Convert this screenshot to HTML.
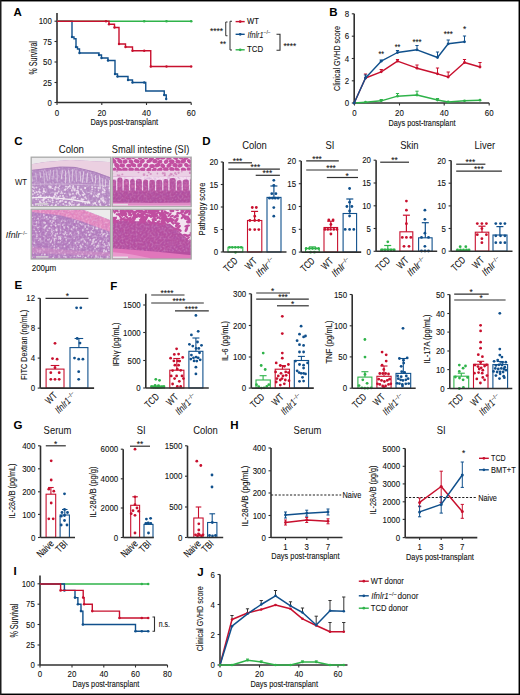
<!DOCTYPE html>
<html><head><meta charset="utf-8"><style>
html,body{margin:0;padding:0;background:#fff;width:520px;height:695px;overflow:hidden}
svg{display:block;font-family:"Liberation Sans", sans-serif}
</style></head><body>
<svg width="520" height="695" viewBox="0 0 520 695">
<rect x="0" y="0" width="520" height="695" fill="#fff"/>
<text x="13.5" y="16" font-size="11.5" text-anchor="start" fill="#000" font-weight="bold" >A</text>
<line x1="57" y1="13" x2="57" y2="102.5" stroke="#303030" stroke-width="1.6" />
<line x1="54.5" y1="21.2" x2="57" y2="21.2" stroke="#303030" stroke-width="1.1" />
<text x="51.9" y="24.4" font-size="9" text-anchor="end" fill="#111" stroke="#111" stroke-width="0.1" textLength="13.2" lengthAdjust="spacingAndGlyphs" >100</text>
<line x1="54.5" y1="41.5" x2="57" y2="41.5" stroke="#303030" stroke-width="1.1" />
<text x="51.9" y="44.6" font-size="9" text-anchor="end" fill="#111" stroke="#111" stroke-width="0.1" textLength="8.8" lengthAdjust="spacingAndGlyphs" >75</text>
<line x1="54.5" y1="62" x2="57" y2="62" stroke="#303030" stroke-width="1.1" />
<text x="51.9" y="65.2" font-size="9" text-anchor="end" fill="#111" stroke="#111" stroke-width="0.1" textLength="8.8" lengthAdjust="spacingAndGlyphs" >50</text>
<line x1="54.5" y1="82.5" x2="57" y2="82.5" stroke="#303030" stroke-width="1.1" />
<text x="51.9" y="85.7" font-size="9" text-anchor="end" fill="#111" stroke="#111" stroke-width="0.1" textLength="8.8" lengthAdjust="spacingAndGlyphs" >25</text>
<line x1="54.5" y1="102.5" x2="57" y2="102.5" stroke="#303030" stroke-width="1.1" />
<text x="51.9" y="105.7" font-size="9" text-anchor="end" fill="#111" stroke="#111" stroke-width="0.1" textLength="4.4" lengthAdjust="spacingAndGlyphs" >0</text>
<line x1="57" y1="102.5" x2="191.2" y2="102.5" stroke="#303030" stroke-width="1.6" />
<line x1="57" y1="102.5" x2="57" y2="105" stroke="#303030" stroke-width="1.1" />
<text x="57" y="115.7" font-size="9" text-anchor="middle" fill="#111" stroke="#111" stroke-width="0.1" textLength="4.4" lengthAdjust="spacingAndGlyphs" >0</text>
<line x1="101.8" y1="102.5" x2="101.8" y2="105" stroke="#303030" stroke-width="1.1" />
<text x="101.8" y="115.7" font-size="9" text-anchor="middle" fill="#111" stroke="#111" stroke-width="0.1" textLength="8.8" lengthAdjust="spacingAndGlyphs" >20</text>
<line x1="146.5" y1="102.5" x2="146.5" y2="105" stroke="#303030" stroke-width="1.1" />
<text x="146.5" y="115.7" font-size="9" text-anchor="middle" fill="#111" stroke="#111" stroke-width="0.1" textLength="8.8" lengthAdjust="spacingAndGlyphs" >40</text>
<line x1="191.2" y1="102.5" x2="191.2" y2="105" stroke="#303030" stroke-width="1.1" />
<text x="191.2" y="115.7" font-size="9" text-anchor="middle" fill="#111" stroke="#111" stroke-width="0.1" textLength="8.8" lengthAdjust="spacingAndGlyphs" >60</text>
<text x="37.4" y="57.8" font-size="10.5" text-anchor="middle" fill="#111" stroke="#111" stroke-width="0.1" textLength="33.4" lengthAdjust="spacingAndGlyphs" transform="rotate(-90 37.4 57.8)" >% Survival</text>
<text x="124.3" y="125" font-size="9" text-anchor="middle" fill="#111" stroke="#111" stroke-width="0.1" textLength="67.5" lengthAdjust="spacingAndGlyphs" >Days post-transplant</text>
<path d="M57,21.25 H72 V37 H74 V38.75 H76 V47 H77.5 V49 H79.5 V53 H99 V55 H101.5 V58 H108 V60.5 H115 V74 H117.5 V76.5 H128 V80 H132.5 V82.5 H145.75 V91 H164.25 V95 H166.25 V99" stroke="#10508c" stroke-width="1.4" fill="none" />
<circle cx="72" cy="37" r="1.2" fill="#10508c"/>
<circle cx="76" cy="47" r="1.2" fill="#10508c"/>
<circle cx="79.5" cy="53" r="1.2" fill="#10508c"/>
<circle cx="99" cy="55" r="1.2" fill="#10508c"/>
<circle cx="101.5" cy="58" r="1.2" fill="#10508c"/>
<circle cx="108" cy="60.5" r="1.2" fill="#10508c"/>
<circle cx="115" cy="74" r="1.2" fill="#10508c"/>
<circle cx="117.5" cy="76.5" r="1.2" fill="#10508c"/>
<circle cx="128" cy="80" r="1.2" fill="#10508c"/>
<circle cx="132.5" cy="82.5" r="1.2" fill="#10508c"/>
<circle cx="144.2" cy="82.5" r="1.2" fill="#10508c"/>
<circle cx="164.2" cy="95" r="1.2" fill="#10508c"/>
<circle cx="166.2" cy="99" r="1.2" fill="#10508c"/>
<path d="M57,21.25 H191.25" stroke="#2fb34a" stroke-width="1.4" fill="none" />
<circle cx="144.2" cy="21.2" r="1.3" fill="#2fb34a"/>
<circle cx="166.5" cy="21.2" r="1.3" fill="#2fb34a"/>
<circle cx="191.2" cy="21.2" r="1.3" fill="#2fb34a"/>
<path d="M57,21.25 H109 V24.25 H114.5 V27.5 H119 V44 H125.5 V47 H132.5 V50.75 H150.75 V66.5 H191.25" stroke="#c8102e" stroke-width="1.4" fill="none" />
<circle cx="106" cy="21.2" r="1.2" fill="#c8102e"/>
<circle cx="109" cy="24.2" r="1.2" fill="#c8102e"/>
<circle cx="114.5" cy="27.5" r="1.2" fill="#c8102e"/>
<circle cx="119" cy="44" r="1.2" fill="#c8102e"/>
<circle cx="125.5" cy="47" r="1.2" fill="#c8102e"/>
<circle cx="132.5" cy="50.8" r="1.2" fill="#c8102e"/>
<circle cx="144.2" cy="50.8" r="1.2" fill="#c8102e"/>
<circle cx="150.8" cy="66.5" r="1.2" fill="#c8102e"/>
<circle cx="166.5" cy="66.5" r="1.2" fill="#c8102e"/>
<circle cx="191.2" cy="66.5" r="1.2" fill="#c8102e"/>
<text x="216.5" y="34.2" font-size="9.2" text-anchor="middle" fill="#111" stroke="#111" stroke-width="0.1" textLength="13" lengthAdjust="spacingAndGlyphs" >****</text>
<path d="M227.5,22 H225.75 V35.75 H227.5" stroke="#303030" stroke-width="1" fill="none" />
<path d="M232,21.25 H230 V50 H232" stroke="#303030" stroke-width="1" fill="none" />
<text x="223" y="46.7" font-size="9.2" text-anchor="middle" fill="#111" stroke="#111" stroke-width="0.1" textLength="6" lengthAdjust="spacingAndGlyphs" >**</text>
<path d="M276.5,34.3 H280 V50.2 H276.5" stroke="#303030" stroke-width="1.1" fill="none" />
<text x="289.8" y="48.5" font-size="9.2" text-anchor="middle" fill="#111" stroke="#111" stroke-width="0.1" textLength="12.7" lengthAdjust="spacingAndGlyphs" >****</text>
<line x1="235.6" y1="21.6" x2="244.7" y2="21.6" stroke="#c8102e" stroke-width="1.4" />
<circle cx="240.2" cy="21.6" r="1.4" fill="#c8102e"/>
<line x1="235.6" y1="34.3" x2="244.7" y2="34.3" stroke="#10508c" stroke-width="1.4" />
<circle cx="240.2" cy="34.3" r="1.4" fill="#10508c"/>
<line x1="235.6" y1="49.8" x2="244.7" y2="49.8" stroke="#2fb34a" stroke-width="1.4" />
<circle cx="240.2" cy="49.8" r="1.4" fill="#2fb34a"/>
<text x="247" y="24.3" font-size="8.5" text-anchor="start" fill="#111" stroke="#111" stroke-width="0.1" textLength="11.9" lengthAdjust="spacingAndGlyphs" >WT</text>
<text x="247.5" y="37.6" font-size="8.5" text-anchor="start" fill="#111" stroke="#111" stroke-width="0.05" ><tspan font-style="italic" textLength="16" lengthAdjust="spacingAndGlyphs">Ifnlr1</tspan><tspan font-size="5" dy="-3.2">−/−</tspan></text>
<text x="247" y="52.3" font-size="8.5" text-anchor="start" fill="#111" stroke="#111" stroke-width="0.1" textLength="16.1" lengthAdjust="spacingAndGlyphs" >TCD</text>
<text x="329.3" y="15.5" font-size="11.5" text-anchor="start" fill="#000" font-weight="bold" >B</text>
<line x1="354.2" y1="13.8" x2="354.2" y2="103" stroke="#303030" stroke-width="1.6" />
<line x1="351.8" y1="103" x2="354.2" y2="103" stroke="#303030" stroke-width="1.1" />
<text x="349.1" y="106.2" font-size="9" text-anchor="end" fill="#111" stroke="#111" stroke-width="0.1" textLength="4.4" lengthAdjust="spacingAndGlyphs" >0</text>
<line x1="351.8" y1="80.8" x2="354.2" y2="80.8" stroke="#303030" stroke-width="1.1" />
<text x="349.1" y="83.9" font-size="9" text-anchor="end" fill="#111" stroke="#111" stroke-width="0.1" textLength="4.4" lengthAdjust="spacingAndGlyphs" >2</text>
<line x1="351.8" y1="58.5" x2="354.2" y2="58.5" stroke="#303030" stroke-width="1.1" />
<text x="349.1" y="61.6" font-size="9" text-anchor="end" fill="#111" stroke="#111" stroke-width="0.1" textLength="4.4" lengthAdjust="spacingAndGlyphs" >4</text>
<line x1="351.8" y1="36.2" x2="354.2" y2="36.2" stroke="#303030" stroke-width="1.1" />
<text x="349.1" y="39.4" font-size="9" text-anchor="end" fill="#111" stroke="#111" stroke-width="0.1" textLength="4.4" lengthAdjust="spacingAndGlyphs" >6</text>
<line x1="351.8" y1="13.8" x2="354.2" y2="13.8" stroke="#303030" stroke-width="1.1" />
<text x="349.1" y="16.9" font-size="9" text-anchor="end" fill="#111" stroke="#111" stroke-width="0.1" textLength="4.4" lengthAdjust="spacingAndGlyphs" >8</text>
<line x1="354.2" y1="103" x2="489.2" y2="103" stroke="#303030" stroke-width="1.6" />
<line x1="354.5" y1="103" x2="354.5" y2="105.5" stroke="#303030" stroke-width="1.1" />
<text x="354.5" y="115.7" font-size="9" text-anchor="middle" fill="#111" stroke="#111" stroke-width="0.1" textLength="4.4" lengthAdjust="spacingAndGlyphs" >0</text>
<line x1="399.5" y1="103" x2="399.5" y2="105.5" stroke="#303030" stroke-width="1.1" />
<text x="399.5" y="115.7" font-size="9" text-anchor="middle" fill="#111" stroke="#111" stroke-width="0.1" textLength="8.8" lengthAdjust="spacingAndGlyphs" >20</text>
<line x1="444.2" y1="103" x2="444.2" y2="105.5" stroke="#303030" stroke-width="1.1" />
<text x="444.2" y="115.7" font-size="9" text-anchor="middle" fill="#111" stroke="#111" stroke-width="0.1" textLength="8.8" lengthAdjust="spacingAndGlyphs" >40</text>
<line x1="489.2" y1="103" x2="489.2" y2="105.5" stroke="#303030" stroke-width="1.1" />
<text x="489.2" y="115.7" font-size="9" text-anchor="middle" fill="#111" stroke="#111" stroke-width="0.1" textLength="8.8" lengthAdjust="spacingAndGlyphs" >60</text>
<text x="339.6" y="58.5" font-size="9.5" text-anchor="middle" fill="#111" stroke="#111" stroke-width="0.1" textLength="65" lengthAdjust="spacingAndGlyphs" transform="rotate(-90 339.6 58.5)" >Clinical GVHD score</text>
<text x="422" y="125.5" font-size="9" text-anchor="middle" fill="#111" stroke="#111" stroke-width="0.1" textLength="67" lengthAdjust="spacingAndGlyphs" >Days post-transplant</text>
<line x1="381.2" y1="100.8" x2="381.2" y2="99.5" stroke="#2fb34a" stroke-width="1" />
<line x1="379.6" y1="99.5" x2="382.9" y2="99.5" stroke="#2fb34a" stroke-width="1" />
<line x1="397.5" y1="96.2" x2="397.5" y2="93.5" stroke="#2fb34a" stroke-width="1" />
<line x1="395.9" y1="93.5" x2="399.1" y2="93.5" stroke="#2fb34a" stroke-width="1" />
<line x1="417" y1="95" x2="417" y2="91.2" stroke="#2fb34a" stroke-width="1" />
<line x1="415.4" y1="91.2" x2="418.6" y2="91.2" stroke="#2fb34a" stroke-width="1" />
<line x1="437.5" y1="100" x2="437.5" y2="98.5" stroke="#2fb34a" stroke-width="1" />
<line x1="435.9" y1="98.5" x2="439.1" y2="98.5" stroke="#2fb34a" stroke-width="1" />
<polyline points="354.2,103 365.5,102.2 381.2,100.8 397.5,96.2 417,95 437.5,100 448.2,102 464.5,100.8 480,100.2" stroke="#2fb34a" stroke-width="1.4" fill="none" stroke-linejoin="round" />
<circle cx="354.2" cy="103" r="1.4" fill="#2fb34a"/>
<circle cx="365.5" cy="102.2" r="1.4" fill="#2fb34a"/>
<circle cx="381.2" cy="100.8" r="1.4" fill="#2fb34a"/>
<circle cx="397.5" cy="96.2" r="1.4" fill="#2fb34a"/>
<circle cx="417" cy="95" r="1.4" fill="#2fb34a"/>
<circle cx="437.5" cy="100" r="1.4" fill="#2fb34a"/>
<circle cx="448.2" cy="102" r="1.4" fill="#2fb34a"/>
<circle cx="464.5" cy="100.8" r="1.4" fill="#2fb34a"/>
<circle cx="480" cy="100.2" r="1.4" fill="#2fb34a"/>
<line x1="365.5" y1="78" x2="365.5" y2="74" stroke="#c8102e" stroke-width="1" />
<line x1="363.9" y1="74" x2="367.1" y2="74" stroke="#c8102e" stroke-width="1" />
<line x1="381.2" y1="71.8" x2="381.2" y2="69.5" stroke="#c8102e" stroke-width="1" />
<line x1="379.6" y1="69.5" x2="382.9" y2="69.5" stroke="#c8102e" stroke-width="1" />
<line x1="397.5" y1="61.2" x2="397.5" y2="59.5" stroke="#c8102e" stroke-width="1" />
<line x1="395.9" y1="59.5" x2="399.1" y2="59.5" stroke="#c8102e" stroke-width="1" />
<line x1="417" y1="68.2" x2="417" y2="65" stroke="#c8102e" stroke-width="1" />
<line x1="415.4" y1="65" x2="418.6" y2="65" stroke="#c8102e" stroke-width="1" />
<line x1="437.5" y1="73.8" x2="437.5" y2="68" stroke="#c8102e" stroke-width="1" />
<line x1="435.9" y1="68" x2="439.1" y2="68" stroke="#c8102e" stroke-width="1" />
<line x1="448.2" y1="77" x2="448.2" y2="72" stroke="#c8102e" stroke-width="1" />
<line x1="446.6" y1="72" x2="449.9" y2="72" stroke="#c8102e" stroke-width="1" />
<line x1="464.5" y1="62.5" x2="464.5" y2="59.5" stroke="#c8102e" stroke-width="1" />
<line x1="462.9" y1="59.5" x2="466.1" y2="59.5" stroke="#c8102e" stroke-width="1" />
<line x1="480" y1="67" x2="480" y2="62.5" stroke="#c8102e" stroke-width="1" />
<line x1="478.4" y1="62.5" x2="481.6" y2="62.5" stroke="#c8102e" stroke-width="1" />
<polyline points="354.2,103 365.5,78 381.2,71.8 397.5,61.2 417,68.2 437.5,73.8 448.2,77 464.5,62.5 480,67" stroke="#c8102e" stroke-width="1.4" fill="none" stroke-linejoin="round" />
<circle cx="354.2" cy="103" r="1.4" fill="#c8102e"/>
<circle cx="365.5" cy="78" r="1.4" fill="#c8102e"/>
<circle cx="381.2" cy="71.8" r="1.4" fill="#c8102e"/>
<circle cx="397.5" cy="61.2" r="1.4" fill="#c8102e"/>
<circle cx="417" cy="68.2" r="1.4" fill="#c8102e"/>
<circle cx="437.5" cy="73.8" r="1.4" fill="#c8102e"/>
<circle cx="448.2" cy="77" r="1.4" fill="#c8102e"/>
<circle cx="464.5" cy="62.5" r="1.4" fill="#c8102e"/>
<circle cx="480" cy="67" r="1.4" fill="#c8102e"/>
<line x1="365.5" y1="78" x2="365.5" y2="75" stroke="#10508c" stroke-width="1" />
<line x1="363.9" y1="75" x2="367.1" y2="75" stroke="#10508c" stroke-width="1" />
<line x1="381.2" y1="61.2" x2="381.2" y2="60" stroke="#10508c" stroke-width="1" />
<line x1="379.6" y1="60" x2="382.9" y2="60" stroke="#10508c" stroke-width="1" />
<line x1="397.5" y1="52.5" x2="397.5" y2="50.5" stroke="#10508c" stroke-width="1" />
<line x1="395.9" y1="50.5" x2="399.1" y2="50.5" stroke="#10508c" stroke-width="1" />
<line x1="417" y1="49.8" x2="417" y2="45.5" stroke="#10508c" stroke-width="1" />
<line x1="415.4" y1="45.5" x2="418.6" y2="45.5" stroke="#10508c" stroke-width="1" />
<line x1="437.5" y1="57.5" x2="437.5" y2="52" stroke="#10508c" stroke-width="1" />
<line x1="435.9" y1="52" x2="439.1" y2="52" stroke="#10508c" stroke-width="1" />
<line x1="448.2" y1="43.8" x2="448.2" y2="40" stroke="#10508c" stroke-width="1" />
<line x1="446.6" y1="40" x2="449.9" y2="40" stroke="#10508c" stroke-width="1" />
<line x1="464.5" y1="41.8" x2="464.5" y2="36" stroke="#10508c" stroke-width="1" />
<line x1="462.9" y1="36" x2="466.1" y2="36" stroke="#10508c" stroke-width="1" />
<polyline points="354.2,103 365.5,78 381.2,61.2 397.5,52.5 417,49.8 437.5,57.5 448.2,43.8 464.5,41.8" stroke="#10508c" stroke-width="1.4" fill="none" stroke-linejoin="round" />
<circle cx="354.2" cy="103" r="1.4" fill="#10508c"/>
<circle cx="365.5" cy="78" r="1.4" fill="#10508c"/>
<circle cx="381.2" cy="61.2" r="1.4" fill="#10508c"/>
<circle cx="397.5" cy="52.5" r="1.4" fill="#10508c"/>
<circle cx="417" cy="49.8" r="1.4" fill="#10508c"/>
<circle cx="437.5" cy="57.5" r="1.4" fill="#10508c"/>
<circle cx="448.2" cy="43.8" r="1.4" fill="#10508c"/>
<circle cx="464.5" cy="41.8" r="1.4" fill="#10508c"/>
<text x="381.2" y="57.2" font-size="9.2" text-anchor="middle" fill="#111" stroke="#111" stroke-width="0.1" textLength="5.5" lengthAdjust="spacingAndGlyphs" >**</text>
<text x="397.5" y="49.7" font-size="9.2" text-anchor="middle" fill="#111" stroke="#111" stroke-width="0.1" textLength="5.5" lengthAdjust="spacingAndGlyphs" >**</text>
<text x="417" y="44.7" font-size="9.2" text-anchor="middle" fill="#111" stroke="#111" stroke-width="0.1" textLength="9" lengthAdjust="spacingAndGlyphs" >***</text>
<text x="448.2" y="36.7" font-size="9.2" text-anchor="middle" fill="#111" stroke="#111" stroke-width="0.1" textLength="9" lengthAdjust="spacingAndGlyphs" >***</text>
<text x="464.5" y="31.7" font-size="9.2" text-anchor="middle" fill="#111" stroke="#111" stroke-width="0.1" textLength="3.2" lengthAdjust="spacingAndGlyphs" >*</text>
<text x="14.2" y="145.4" font-size="11.5" text-anchor="start" fill="#000" font-weight="bold" >C</text>
<text x="71.3" y="153.3" font-size="10.5" text-anchor="middle" fill="#111" textLength="25.3" lengthAdjust="spacingAndGlyphs" >Colon</text>
<text x="150.6" y="153" font-size="10.5" text-anchor="middle" fill="#111" textLength="77.5" lengthAdjust="spacingAndGlyphs" >Small intestine (SI)</text>
<text x="21" y="184.8" font-size="9.5" text-anchor="middle" fill="#111" textLength="12" lengthAdjust="spacingAndGlyphs" >WT</text>
<text x="5.8" y="238.3" font-size="9.5" text-anchor="start" fill="#111" ><tspan font-style="italic" textLength="14.5" lengthAdjust="spacingAndGlyphs">Ifnlr</tspan><tspan font-size="5" dy="-3.4">−/−</tspan></text>
<text x="44" y="270.6" font-size="9.5" text-anchor="middle" fill="#111" stroke="#111" stroke-width="0.1" textLength="24.6" lengthAdjust="spacingAndGlyphs" >200μm</text>
<defs>
<filter id="bl" x="-5%" y="-5%" width="110%" height="110%"><feGaussianBlur stdDeviation="0.4"/></filter>
<filter id="mw" x="0" y="0" width="100%" height="100%"><feTurbulence type="fractalNoise" baseFrequency="0.5" numOctaves="2" seed="5"/><feColorMatrix type="matrix" values="0 0 0 0 1  0 0 0 0 0.95  0 0 0 0 1  0 0 0 -2.6 1.5"/></filter>
<filter id="md" x="0" y="0" width="100%" height="100%"><feTurbulence type="fractalNoise" baseFrequency="0.35" numOctaves="2" seed="9"/><feColorMatrix type="matrix" values="0 0 0 0 0.4  0 0 0 0 0.1  0 0 0 0 0.45  0 0 0 2.6 -1.1"/></filter>
<clipPath id="c1"><rect x="31.5" y="157.5" width="79" height="49"/></clipPath>
<clipPath id="c2"><rect x="112.5" y="157.5" width="78.5" height="49"/></clipPath>
<clipPath id="c3"><rect x="31.5" y="209.5" width="79" height="49.5"/></clipPath>
<clipPath id="c4"><rect x="112.5" y="209.5" width="78.5" height="49.5"/></clipPath>
</defs>
<g clip-path="url(#c1)"><g filter="url(#bl)">
<rect x="30" y="156" width="82" height="52" fill="#b48ac2" stroke="none" stroke-width="1" />
<rect x="30" y="156" width="82" height="52" fill="#fff" stroke="none" stroke-width="1" filter="url(#mw)" opacity="0.32"/>
<rect x="30" y="156" width="82" height="52" fill="#000" stroke="none" stroke-width="1" filter="url(#md)" opacity="0.2"/>
<path d="M30,156 H112 L112,162.3 L90,161 L70,160 L45,162 L30,164.5 Z" fill="#ebe9eb"/>
<path d="M30,164.5 L30,164.5 L45,162 L70,160 L90,161 L112,162.3 L112,178 L95,171.8 L75,167 L60,166.7 L30,170.2 Z" fill="#ebd0e1"/>
<path d="M30,170.5 L34,170 L38,169.6 L42,169.1 L46,168.6 L50,168.2 L54,167.7 L58,167.2 L62,167 L66,167.1 L70,167.2 L74,167.3 L78,168 L82,169 L86,169.9 L90,170.9 L94,171.9 L98,173.2 L102,174.7 L106,176.1 L110,177.6" stroke="#a070b0" stroke-width="1" fill="none" opacity="0.6"/>
<line x1="31.4" y1="173.7" x2="32.2" y2="181.8" stroke="#eadcec" stroke-width="0.9" opacity="0.8"/>
<line x1="35.6" y1="172.8" x2="36.5" y2="179.6" stroke="#eadcec" stroke-width="0.7" opacity="0.8"/>
<line x1="39.9" y1="171.9" x2="40.7" y2="177.9" stroke="#eadcec" stroke-width="0.9" opacity="0.8"/>
<line x1="43.5" y1="171.1" x2="44.8" y2="184.3" stroke="#eadcec" stroke-width="0.7" opacity="0.8"/>
<line x1="46" y1="171.4" x2="47.4" y2="180.5" stroke="#eadcec" stroke-width="0.8" opacity="0.8"/>
<line x1="50.4" y1="169.9" x2="49.5" y2="179.4" stroke="#eadcec" stroke-width="0.9" opacity="0.8"/>
<line x1="53.8" y1="169.9" x2="52.9" y2="179.6" stroke="#eadcec" stroke-width="0.8" opacity="0.8"/>
<line x1="57.1" y1="170.7" x2="57.3" y2="181.8" stroke="#eadcec" stroke-width="0.8" opacity="0.8"/>
<line x1="62.4" y1="170.5" x2="61.3" y2="179.1" stroke="#eadcec" stroke-width="1.1" opacity="0.8"/>
<line x1="65.6" y1="170.7" x2="65.4" y2="183.3" stroke="#eadcec" stroke-width="1" opacity="0.8"/>
<line x1="68.7" y1="170" x2="69.8" y2="182.8" stroke="#eadcec" stroke-width="1" opacity="0.8"/>
<line x1="72.8" y1="169" x2="72.1" y2="181.4" stroke="#eadcec" stroke-width="0.9" opacity="0.8"/>
<line x1="75.9" y1="170.3" x2="76.5" y2="181.7" stroke="#eadcec" stroke-width="0.9" opacity="0.8"/>
<line x1="80" y1="171.2" x2="80.8" y2="181.4" stroke="#eadcec" stroke-width="0.9" opacity="0.8"/>
<line x1="83.8" y1="171.2" x2="82.4" y2="182.8" stroke="#eadcec" stroke-width="1.2" opacity="0.8"/>
<line x1="87.6" y1="172.8" x2="86.7" y2="182.8" stroke="#eadcec" stroke-width="1.2" opacity="0.8"/>
<line x1="91.6" y1="174.1" x2="92.7" y2="181.9" stroke="#eadcec" stroke-width="1" opacity="0.8"/>
<line x1="95.6" y1="175.2" x2="95.5" y2="183.3" stroke="#eadcec" stroke-width="1" opacity="0.8"/>
<line x1="99.3" y1="175.4" x2="100.2" y2="188" stroke="#eadcec" stroke-width="1.1" opacity="0.8"/>
<line x1="102.7" y1="178.2" x2="102.7" y2="188.7" stroke="#eadcec" stroke-width="0.9" opacity="0.8"/>
<line x1="105.3" y1="179.3" x2="105.5" y2="186.9" stroke="#eadcec" stroke-width="1" opacity="0.8"/>
<line x1="109.7" y1="179.9" x2="109.2" y2="190.2" stroke="#eadcec" stroke-width="1" opacity="0.8"/>
<path d="M30,184.5 C50,183.5 80,184 112,186" stroke="#e6d4e8" stroke-width="0.8" fill="none" opacity="0.6"/>
<ellipse cx="80.2" cy="195.6" rx="0.7" ry="0.6" fill="#f2e6f3" opacity="0.8"/>
<ellipse cx="44.5" cy="198.3" rx="1" ry="1.2" fill="#f2e6f3" opacity="0.8"/>
<ellipse cx="95.4" cy="203.1" rx="0.8" ry="0.9" fill="#f2e6f3" opacity="0.8"/>
<ellipse cx="85.2" cy="187.7" rx="0.7" ry="0.6" fill="#f2e6f3" opacity="0.8"/>
<ellipse cx="92" cy="191.2" rx="0.7" ry="0.8" fill="#f2e6f3" opacity="0.8"/>
<ellipse cx="58.2" cy="187.5" rx="0.8" ry="0.8" fill="#f2e6f3" opacity="0.8"/>
<ellipse cx="43.8" cy="191.7" rx="0.9" ry="1" fill="#f2e6f3" opacity="0.8"/>
<ellipse cx="56.4" cy="195.9" rx="0.7" ry="0.7" fill="#f2e6f3" opacity="0.8"/>
<ellipse cx="64.5" cy="189.9" rx="0.7" ry="0.9" fill="#f2e6f3" opacity="0.8"/>
<ellipse cx="71.8" cy="190.4" rx="0.9" ry="1.1" fill="#f2e6f3" opacity="0.8"/>
<ellipse cx="31.7" cy="186.4" rx="0.8" ry="0.8" fill="#f2e6f3" opacity="0.8"/>
<ellipse cx="43.1" cy="200.8" rx="0.9" ry="1" fill="#f2e6f3" opacity="0.8"/>
<ellipse cx="48.1" cy="206.5" rx="1" ry="1" fill="#f2e6f3" opacity="0.8"/>
<ellipse cx="48.3" cy="199.6" rx="0.8" ry="0.9" fill="#f2e6f3" opacity="0.8"/>
<ellipse cx="56.3" cy="199.2" rx="0.7" ry="0.7" fill="#f2e6f3" opacity="0.8"/>
<ellipse cx="109.4" cy="204.4" rx="0.8" ry="1" fill="#f2e6f3" opacity="0.8"/>
<ellipse cx="55.4" cy="205.7" rx="1" ry="0.9" fill="#f2e6f3" opacity="0.8"/>
<ellipse cx="50.7" cy="186.2" rx="1" ry="0.8" fill="#f2e6f3" opacity="0.8"/>
<ellipse cx="97.2" cy="206.2" rx="0.9" ry="0.8" fill="#f2e6f3" opacity="0.8"/>
<ellipse cx="101.2" cy="206.4" rx="0.9" ry="1" fill="#f2e6f3" opacity="0.8"/>
<ellipse cx="61" cy="193.3" rx="0.8" ry="0.9" fill="#f2e6f3" opacity="0.8"/>
<ellipse cx="65.5" cy="190.1" rx="0.7" ry="0.8" fill="#f2e6f3" opacity="0.8"/>
<ellipse cx="54.3" cy="196.5" rx="0.8" ry="1" fill="#f2e6f3" opacity="0.8"/>
<ellipse cx="103.8" cy="186.4" rx="0.8" ry="0.7" fill="#f2e6f3" opacity="0.8"/>
<ellipse cx="110.9" cy="202.4" rx="0.8" ry="0.7" fill="#f2e6f3" opacity="0.8"/>
<ellipse cx="85.3" cy="203.6" rx="1" ry="1" fill="#f2e6f3" opacity="0.8"/>
<ellipse cx="102.4" cy="200.4" rx="0.9" ry="1.1" fill="#f2e6f3" opacity="0.8"/>
<ellipse cx="49.2" cy="201.2" rx="0.7" ry="0.6" fill="#f2e6f3" opacity="0.8"/>
<ellipse cx="104.7" cy="190.5" rx="1" ry="1" fill="#f2e6f3" opacity="0.8"/>
<ellipse cx="99" cy="193.7" rx="0.8" ry="0.8" fill="#f2e6f3" opacity="0.8"/>
<ellipse cx="101.1" cy="198.7" rx="1" ry="1.2" fill="#f2e6f3" opacity="0.8"/>
<ellipse cx="41.1" cy="197.6" rx="0.7" ry="0.6" fill="#f2e6f3" opacity="0.8"/>
<ellipse cx="36" cy="204.2" rx="1" ry="1.1" fill="#f2e6f3" opacity="0.8"/>
<ellipse cx="58" cy="198.9" rx="1" ry="0.9" fill="#f2e6f3" opacity="0.8"/>
<ellipse cx="76.8" cy="190.7" rx="0.7" ry="0.7" fill="#f2e6f3" opacity="0.8"/>
<ellipse cx="103" cy="197.9" rx="1" ry="1" fill="#f2e6f3" opacity="0.8"/>
<ellipse cx="52.7" cy="202.5" rx="1" ry="0.8" fill="#f2e6f3" opacity="0.8"/>
<ellipse cx="85" cy="187.9" rx="0.7" ry="0.9" fill="#f2e6f3" opacity="0.8"/>
<ellipse cx="33.3" cy="191" rx="1" ry="1" fill="#f2e6f3" opacity="0.8"/>
<ellipse cx="39.5" cy="189.5" rx="0.8" ry="0.9" fill="#f2e6f3" opacity="0.8"/>
<ellipse cx="38.4" cy="205.1" rx="0.8" ry="1" fill="#f2e6f3" opacity="0.8"/>
<ellipse cx="104.6" cy="192.2" rx="0.8" ry="0.8" fill="#f2e6f3" opacity="0.8"/>
<ellipse cx="38.2" cy="199.7" rx="0.7" ry="0.6" fill="#f2e6f3" opacity="0.8"/>
<ellipse cx="110.6" cy="192.2" rx="0.9" ry="0.9" fill="#f2e6f3" opacity="0.8"/>
<ellipse cx="55.7" cy="187.3" rx="1" ry="1.3" fill="#f2e6f3" opacity="0.8"/>
<ellipse cx="109.5" cy="188.3" rx="0.8" ry="0.8" fill="#f2e6f3" opacity="0.8"/>
<ellipse cx="110.4" cy="197.4" rx="0.9" ry="1" fill="#f2e6f3" opacity="0.8"/>
<ellipse cx="51.2" cy="197.4" rx="0.8" ry="0.7" fill="#f2e6f3" opacity="0.8"/>
<ellipse cx="36.7" cy="191.9" rx="1" ry="1" fill="#f2e6f3" opacity="0.8"/>
<ellipse cx="83.5" cy="199.5" rx="1" ry="1" fill="#f2e6f3" opacity="0.8"/>
<ellipse cx="55.2" cy="192.9" rx="0.8" ry="1" fill="#f2e6f3" opacity="0.8"/>
<ellipse cx="103.3" cy="192.4" rx="0.8" ry="0.9" fill="#f2e6f3" opacity="0.8"/>
<ellipse cx="77.5" cy="198.5" rx="0.8" ry="0.6" fill="#f2e6f3" opacity="0.8"/>
<ellipse cx="50" cy="187.5" rx="0.9" ry="0.7" fill="#f2e6f3" opacity="0.8"/>
<ellipse cx="36.2" cy="199.3" rx="0.8" ry="0.9" fill="#f2e6f3" opacity="0.8"/>
<ellipse cx="70.4" cy="204.1" rx="0.8" ry="0.8" fill="#f2e6f3" opacity="0.8"/>
<ellipse cx="95.2" cy="187.6" rx="1" ry="0.9" fill="#f2e6f3" opacity="0.8"/>
<ellipse cx="93.6" cy="206.7" rx="1" ry="0.9" fill="#f2e6f3" opacity="0.8"/>
<ellipse cx="38.8" cy="196.8" rx="1" ry="1" fill="#f2e6f3" opacity="0.8"/>
<ellipse cx="103.3" cy="189" rx="1" ry="0.8" fill="#f2e6f3" opacity="0.8"/>
<ellipse cx="55.9" cy="205" rx="1" ry="1.2" fill="#f2e6f3" opacity="0.8"/>
<ellipse cx="98.9" cy="201.7" rx="0.9" ry="0.8" fill="#f2e6f3" opacity="0.8"/>
<ellipse cx="65.5" cy="189.3" rx="1" ry="1" fill="#f2e6f3" opacity="0.8"/>
<ellipse cx="50.7" cy="187.4" rx="1" ry="1.2" fill="#f2e6f3" opacity="0.8"/>
<ellipse cx="75" cy="197.4" rx="1" ry="1" fill="#f2e6f3" opacity="0.8"/>
<ellipse cx="62.4" cy="193.1" rx="0.8" ry="0.6" fill="#f2e6f3" opacity="0.8"/>
<ellipse cx="83" cy="194.8" rx="0.9" ry="0.7" fill="#f2e6f3" opacity="0.8"/>
<ellipse cx="59.1" cy="188.9" rx="0.7" ry="0.7" fill="#f2e6f3" opacity="0.8"/>
<ellipse cx="98" cy="194.4" rx="0.8" ry="0.9" fill="#f2e6f3" opacity="0.8"/>
<ellipse cx="49.1" cy="186.2" rx="0.9" ry="0.9" fill="#f2e6f3" opacity="0.8"/>
<ellipse cx="83.2" cy="195.2" rx="0.9" ry="1.1" fill="#f2e6f3" opacity="0.8"/>
<ellipse cx="49.5" cy="196.4" rx="0.9" ry="0.8" fill="#f2e6f3" opacity="0.8"/>
<ellipse cx="63.8" cy="197.8" rx="1" ry="1.2" fill="#f2e6f3" opacity="0.8"/>
<ellipse cx="52.6" cy="199.6" rx="0.7" ry="0.6" fill="#f2e6f3" opacity="0.8"/>
<ellipse cx="72" cy="204.4" rx="0.8" ry="0.9" fill="#f2e6f3" opacity="0.8"/>
<ellipse cx="102.4" cy="192.5" rx="0.9" ry="1.1" fill="#f2e6f3" opacity="0.8"/>
<ellipse cx="60.5" cy="200.7" rx="1" ry="1" fill="#f2e6f3" opacity="0.8"/>
<ellipse cx="100.2" cy="204.8" rx="1" ry="1.1" fill="#f2e6f3" opacity="0.8"/>
<ellipse cx="44.5" cy="191.3" rx="0.8" ry="0.8" fill="#f2e6f3" opacity="0.8"/>
<ellipse cx="92.1" cy="187.1" rx="0.9" ry="1.1" fill="#f2e6f3" opacity="0.8"/>
<ellipse cx="58.5" cy="196.8" rx="0.8" ry="0.9" fill="#f2e6f3" opacity="0.8"/>
<ellipse cx="33.3" cy="206.6" rx="1" ry="1.1" fill="#f2e6f3" opacity="0.8"/>
<ellipse cx="51.9" cy="205.2" rx="1" ry="0.9" fill="#f2e6f3" opacity="0.8"/>
<ellipse cx="93.6" cy="203.7" rx="0.9" ry="1" fill="#f2e6f3" opacity="0.8"/>
<ellipse cx="66.5" cy="205.4" rx="1" ry="1" fill="#f2e6f3" opacity="0.8"/>
<ellipse cx="95.8" cy="195.1" rx="0.8" ry="0.7" fill="#f2e6f3" opacity="0.8"/>
<ellipse cx="40.4" cy="205.1" rx="1" ry="0.9" fill="#f2e6f3" opacity="0.8"/>
<ellipse cx="79.3" cy="194.6" rx="0.7" ry="0.7" fill="#f2e6f3" opacity="0.8"/>
<ellipse cx="50.4" cy="201.7" rx="0.7" ry="0.6" fill="#f2e6f3" opacity="0.8"/>
<ellipse cx="66" cy="186.4" rx="0.9" ry="1" fill="#f2e6f3" opacity="0.8"/>
<ellipse cx="98.5" cy="190.3" rx="0.8" ry="0.8" fill="#f2e6f3" opacity="0.8"/>
<ellipse cx="52.4" cy="198.3" rx="0.8" ry="0.9" fill="#f2e6f3" opacity="0.8"/>
<ellipse cx="94.9" cy="203" rx="1" ry="1.1" fill="#f2e6f3" opacity="0.8"/>
<ellipse cx="70.2" cy="204" rx="1" ry="1" fill="#f2e6f3" opacity="0.8"/>
<ellipse cx="61.4" cy="192" rx="0.7" ry="0.9" fill="#f2e6f3" opacity="0.8"/>
<ellipse cx="39.7" cy="201.7" rx="0.9" ry="1.1" fill="#f2e6f3" opacity="0.8"/>
<ellipse cx="92.4" cy="206.4" rx="0.7" ry="0.8" fill="#f2e6f3" opacity="0.8"/>
<ellipse cx="77" cy="192.5" rx="0.9" ry="0.8" fill="#f2e6f3" opacity="0.8"/>
<ellipse cx="73.3" cy="186" rx="0.9" ry="0.9" fill="#f2e6f3" opacity="0.8"/>
<ellipse cx="55" cy="194.4" rx="1" ry="1.1" fill="#f2e6f3" opacity="0.8"/>
<ellipse cx="70.4" cy="199.6" rx="0.8" ry="0.7" fill="#f2e6f3" opacity="0.8"/>
<ellipse cx="30.3" cy="191.8" rx="0.9" ry="1.1" fill="#f2e6f3" opacity="0.8"/>
<ellipse cx="98" cy="196.7" rx="1" ry="1.1" fill="#f2e6f3" opacity="0.8"/>
<ellipse cx="98.4" cy="194.6" rx="1" ry="1.2" fill="#f2e6f3" opacity="0.8"/>
<ellipse cx="55" cy="189.6" rx="0.9" ry="1" fill="#f2e6f3" opacity="0.8"/>
<ellipse cx="59.5" cy="186.1" rx="0.8" ry="0.8" fill="#f2e6f3" opacity="0.8"/>
<ellipse cx="63.2" cy="204.1" rx="0.9" ry="1" fill="#f2e6f3" opacity="0.8"/>
<ellipse cx="103.6" cy="201.7" rx="0.9" ry="1" fill="#f2e6f3" opacity="0.8"/>
<ellipse cx="82.5" cy="199.6" rx="0.9" ry="0.9" fill="#f2e6f3" opacity="0.8"/>
<ellipse cx="81.6" cy="199.3" rx="1" ry="1.2" fill="#f2e6f3" opacity="0.8"/>
<ellipse cx="99.4" cy="202.1" rx="1" ry="1.1" fill="#f2e6f3" opacity="0.8"/>
<ellipse cx="58.7" cy="191.6" rx="0.9" ry="1.1" fill="#f2e6f3" opacity="0.8"/>
<ellipse cx="74.6" cy="189.2" rx="1" ry="1" fill="#f2e6f3" opacity="0.8"/>
<ellipse cx="68.3" cy="187" rx="0.9" ry="1" fill="#f2e6f3" opacity="0.8"/>
<ellipse cx="64.7" cy="193.5" rx="0.9" ry="0.8" fill="#f2e6f3" opacity="0.8"/>
<ellipse cx="71.6" cy="205.9" rx="0.9" ry="0.9" fill="#f2e6f3" opacity="0.8"/>
<ellipse cx="86.5" cy="198.7" rx="0.8" ry="0.7" fill="#f2e6f3" opacity="0.8"/>
<ellipse cx="102.7" cy="191.7" rx="0.7" ry="0.9" fill="#f2e6f3" opacity="0.8"/>
<ellipse cx="72.9" cy="193.7" rx="0.9" ry="1" fill="#f2e6f3" opacity="0.8"/>
<ellipse cx="43.8" cy="199.7" rx="0.9" ry="1.1" fill="#f2e6f3" opacity="0.8"/>
<ellipse cx="52.1" cy="198.8" rx="0.8" ry="0.8" fill="#f2e6f3" opacity="0.8"/>
<ellipse cx="44.1" cy="202.6" rx="1" ry="1" fill="#f2e6f3" opacity="0.8"/>
<ellipse cx="48.2" cy="206.2" rx="0.9" ry="1.1" fill="#f2e6f3" opacity="0.8"/>
<ellipse cx="32.5" cy="204.9" rx="0.9" ry="0.9" fill="#f2e6f3" opacity="0.8"/>
<ellipse cx="65.4" cy="202" rx="1" ry="0.9" fill="#f2e6f3" opacity="0.8"/>
<ellipse cx="81.3" cy="189.5" rx="1" ry="1" fill="#f2e6f3" opacity="0.8"/>
<ellipse cx="104.9" cy="201.3" rx="0.9" ry="0.8" fill="#f2e6f3" opacity="0.8"/>
<ellipse cx="73.2" cy="188.9" rx="0.7" ry="0.8" fill="#f2e6f3" opacity="0.8"/>
<ellipse cx="59.6" cy="201.8" rx="0.8" ry="0.9" fill="#f2e6f3" opacity="0.8"/>
<ellipse cx="88.9" cy="192.4" rx="0.7" ry="0.7" fill="#f2e6f3" opacity="0.8"/>
<ellipse cx="70.4" cy="188.1" rx="0.8" ry="0.6" fill="#f2e6f3" opacity="0.8"/>
<ellipse cx="79" cy="204.7" rx="0.8" ry="0.6" fill="#f2e6f3" opacity="0.8"/>
<ellipse cx="87.7" cy="203.1" rx="1" ry="1.1" fill="#f2e6f3" opacity="0.8"/>
<ellipse cx="58.1" cy="203.6" rx="0.7" ry="0.8" fill="#f2e6f3" opacity="0.8"/>
<ellipse cx="37.8" cy="194.4" rx="0.9" ry="0.8" fill="#f2e6f3" opacity="0.8"/>
<ellipse cx="43.8" cy="190.9" rx="1" ry="1" fill="#f2e6f3" opacity="0.8"/>
<ellipse cx="77.6" cy="190.5" rx="1" ry="0.9" fill="#f2e6f3" opacity="0.8"/>
<ellipse cx="78.7" cy="205.1" rx="1" ry="0.9" fill="#f2e6f3" opacity="0.8"/>
<ellipse cx="95.4" cy="204" rx="0.8" ry="0.8" fill="#f2e6f3" opacity="0.8"/>
<ellipse cx="77.6" cy="205.3" rx="0.8" ry="1" fill="#f2e6f3" opacity="0.8"/>
<ellipse cx="92.2" cy="189.2" rx="1" ry="0.8" fill="#f2e6f3" opacity="0.8"/>
<ellipse cx="41.9" cy="200" rx="0.7" ry="0.7" fill="#f2e6f3" opacity="0.8"/>
<ellipse cx="40.7" cy="195.7" rx="1" ry="1.2" fill="#f2e6f3" opacity="0.8"/>
<ellipse cx="32.9" cy="187.3" rx="1" ry="0.8" fill="#f2e6f3" opacity="0.8"/>
<ellipse cx="52.4" cy="188.5" rx="0.7" ry="0.6" fill="#f2e6f3" opacity="0.8"/>
<ellipse cx="82.3" cy="201.6" rx="0.9" ry="1.1" fill="#f2e6f3" opacity="0.8"/>
<ellipse cx="84.4" cy="194.2" rx="0.9" ry="1.1" fill="#f2e6f3" opacity="0.8"/>
<ellipse cx="82.6" cy="191.1" rx="0.7" ry="0.9" fill="#f2e6f3" opacity="0.8"/>
<ellipse cx="78.4" cy="193.3" rx="0.9" ry="1" fill="#f2e6f3" opacity="0.8"/>
<ellipse cx="72.8" cy="187.3" rx="0.8" ry="0.8" fill="#f2e6f3" opacity="0.8"/>
<ellipse cx="46.3" cy="204.5" rx="0.8" ry="0.9" fill="#f2e6f3" opacity="0.8"/>
<ellipse cx="88.5" cy="201.6" rx="1" ry="1.1" fill="#f2e6f3" opacity="0.8"/>
<ellipse cx="50.6" cy="206.5" rx="0.8" ry="0.9" fill="#f2e6f3" opacity="0.8"/>
<ellipse cx="100.1" cy="203.9" rx="0.7" ry="0.6" fill="#f2e6f3" opacity="0.8"/>
<ellipse cx="96.7" cy="195.9" rx="0.8" ry="1" fill="#f2e6f3" opacity="0.8"/>
<ellipse cx="33.3" cy="197.2" rx="0.9" ry="0.7" fill="#f2e6f3" opacity="0.8"/>
<ellipse cx="62.4" cy="200.9" rx="1" ry="0.8" fill="#f2e6f3" opacity="0.8"/>
<ellipse cx="73" cy="187.9" rx="1" ry="0.8" fill="#f2e6f3" opacity="0.8"/>
<ellipse cx="32.8" cy="194.1" rx="1" ry="0.9" fill="#f2e6f3" opacity="0.8"/>
<ellipse cx="40.7" cy="202.7" rx="1" ry="1.2" fill="#f2e6f3" opacity="0.8"/>
<ellipse cx="54.9" cy="194.9" rx="0.8" ry="0.8" fill="#f2e6f3" opacity="0.8"/>
<ellipse cx="57.1" cy="193.1" rx="1" ry="1.2" fill="#f2e6f3" opacity="0.8"/>
<ellipse cx="77.9" cy="188.2" rx="0.9" ry="0.9" fill="#f2e6f3" opacity="0.8"/>
<ellipse cx="111" cy="201.1" rx="1" ry="1.1" fill="#f2e6f3" opacity="0.8"/>
<ellipse cx="73.9" cy="204.8" rx="1" ry="0.9" fill="#f2e6f3" opacity="0.8"/>
<ellipse cx="42.9" cy="193.8" rx="0.9" ry="0.7" fill="#f2e6f3" opacity="0.8"/>
<ellipse cx="58.3" cy="198.1" rx="0.7" ry="0.8" fill="#f2e6f3" opacity="0.8"/>
<ellipse cx="83.4" cy="192.6" rx="0.8" ry="0.8" fill="#f2e6f3" opacity="0.8"/>
<ellipse cx="56.7" cy="201.7" rx="0.9" ry="0.9" fill="#f2e6f3" opacity="0.8"/>
<ellipse cx="42.2" cy="205.2" rx="0.8" ry="0.8" fill="#f2e6f3" opacity="0.8"/>
<ellipse cx="35.6" cy="206.6" rx="0.9" ry="1.1" fill="#f2e6f3" opacity="0.8"/>
<ellipse cx="106.1" cy="206.4" rx="1" ry="1.2" fill="#f2e6f3" opacity="0.8"/>
<ellipse cx="105.6" cy="202.8" rx="0.7" ry="0.8" fill="#f2e6f3" opacity="0.8"/>
<ellipse cx="77.2" cy="206.8" rx="1" ry="1.1" fill="#f2e6f3" opacity="0.8"/>
<ellipse cx="91.2" cy="193.6" rx="1" ry="1.1" fill="#f2e6f3" opacity="0.8"/>
<ellipse cx="63" cy="195.8" rx="1" ry="1.1" fill="#f2e6f3" opacity="0.8"/>
<ellipse cx="43.8" cy="189.1" rx="0.9" ry="1" fill="#f2e6f3" opacity="0.8"/>
<ellipse cx="104.4" cy="189.9" rx="0.8" ry="1" fill="#f2e6f3" opacity="0.8"/>
<ellipse cx="34.1" cy="188.1" rx="0.9" ry="0.8" fill="#f2e6f3" opacity="0.8"/>
<ellipse cx="38.8" cy="191.5" rx="0.9" ry="1" fill="#f2e6f3" opacity="0.8"/>
<ellipse cx="36.4" cy="187.5" rx="1" ry="1.1" fill="#f2e6f3" opacity="0.8"/>
<ellipse cx="44.2" cy="204.1" rx="0.7" ry="0.7" fill="#f2e6f3" opacity="0.8"/>
<ellipse cx="99.5" cy="200.9" rx="0.8" ry="1" fill="#f2e6f3" opacity="0.8"/>
<ellipse cx="79" cy="204.2" rx="1" ry="1" fill="#f2e6f3" opacity="0.8"/>
<ellipse cx="85.4" cy="197.4" rx="1" ry="1.2" fill="#f2e6f3" opacity="0.8"/>
<ellipse cx="89.5" cy="203.1" rx="1" ry="1" fill="#f2e6f3" opacity="0.8"/>
<ellipse cx="46.5" cy="201.7" rx="1" ry="1" fill="#f2e6f3" opacity="0.8"/>
<ellipse cx="69.9" cy="194.5" rx="1" ry="1.2" fill="#f2e6f3" opacity="0.8"/>
<ellipse cx="77.9" cy="186.8" rx="1" ry="1" fill="#f2e6f3" opacity="0.8"/>
<ellipse cx="45.6" cy="192.3" rx="0.9" ry="0.8" fill="#f2e6f3" opacity="0.8"/>
<ellipse cx="39.8" cy="192.4" rx="1" ry="1.1" fill="#f2e6f3" opacity="0.8"/>
<ellipse cx="109.6" cy="197.4" rx="0.9" ry="0.9" fill="#f2e6f3" opacity="0.8"/>
<ellipse cx="73.1" cy="197.4" rx="1" ry="1.2" fill="#f2e6f3" opacity="0.8"/>
<ellipse cx="63.5" cy="199.2" rx="0.8" ry="0.8" fill="#f2e6f3" opacity="0.8"/>
<ellipse cx="71.5" cy="198.3" rx="0.9" ry="1.1" fill="#f2e6f3" opacity="0.8"/>
<ellipse cx="43.4" cy="199.4" rx="1" ry="1.2" fill="#f2e6f3" opacity="0.8"/>
<ellipse cx="76.4" cy="193.7" rx="0.8" ry="1" fill="#f2e6f3" opacity="0.8"/>
<ellipse cx="103.4" cy="200.1" rx="1" ry="1.2" fill="#f2e6f3" opacity="0.8"/>
<ellipse cx="99.4" cy="194.1" rx="0.9" ry="1" fill="#f2e6f3" opacity="0.8"/>
<ellipse cx="60.6" cy="201.7" rx="0.9" ry="0.8" fill="#f2e6f3" opacity="0.8"/>
<ellipse cx="67.4" cy="188.4" rx="0.8" ry="0.8" fill="#f2e6f3" opacity="0.8"/>
<ellipse cx="31.5" cy="189.6" rx="0.8" ry="0.9" fill="#f2e6f3" opacity="0.8"/>
<ellipse cx="78.3" cy="192" rx="1" ry="1" fill="#f2e6f3" opacity="0.8"/>
<ellipse cx="72.1" cy="201.5" rx="0.9" ry="0.9" fill="#f2e6f3" opacity="0.8"/>
<ellipse cx="93.7" cy="196.2" rx="1" ry="1" fill="#f2e6f3" opacity="0.8"/>
<ellipse cx="109.7" cy="201" rx="0.7" ry="0.6" fill="#f2e6f3" opacity="0.8"/>
<ellipse cx="109.3" cy="190.8" rx="0.7" ry="0.6" fill="#f2e6f3" opacity="0.8"/>
<ellipse cx="69.3" cy="206" rx="0.8" ry="0.9" fill="#f2e6f3" opacity="0.8"/>
<ellipse cx="98.4" cy="187.9" rx="0.9" ry="1.1" fill="#f2e6f3" opacity="0.8"/>
<ellipse cx="75.1" cy="197.2" rx="0.8" ry="1" fill="#f2e6f3" opacity="0.8"/>
<ellipse cx="109.5" cy="188.2" rx="0.9" ry="0.9" fill="#f2e6f3" opacity="0.8"/>
<ellipse cx="85.1" cy="188.5" rx="0.8" ry="0.7" fill="#f2e6f3" opacity="0.8"/>
<ellipse cx="69.3" cy="202.7" rx="1" ry="1.2" fill="#f2e6f3" opacity="0.8"/>
<ellipse cx="85.5" cy="187.8" rx="0.8" ry="0.9" fill="#f2e6f3" opacity="0.8"/>
<ellipse cx="54.1" cy="196.7" rx="1" ry="0.9" fill="#f2e6f3" opacity="0.8"/>
<ellipse cx="100" cy="188.2" rx="0.8" ry="1" fill="#f2e6f3" opacity="0.8"/>
<ellipse cx="46.5" cy="196.9" rx="0.8" ry="1" fill="#f2e6f3" opacity="0.8"/>
<ellipse cx="111.3" cy="192.1" rx="0.9" ry="1" fill="#f2e6f3" opacity="0.8"/>
<ellipse cx="74.7" cy="190.5" rx="1" ry="0.9" fill="#f2e6f3" opacity="0.8"/>
<ellipse cx="69.8" cy="186.2" rx="1" ry="1.1" fill="#f2e6f3" opacity="0.8"/>
<ellipse cx="105.9" cy="206.3" rx="0.8" ry="0.8" fill="#f2e6f3" opacity="0.8"/>
<ellipse cx="66.1" cy="202" rx="1" ry="0.9" fill="#f2e6f3" opacity="0.8"/>
<ellipse cx="52.5" cy="200.8" rx="0.8" ry="0.7" fill="#f2e6f3" opacity="0.8"/>
<ellipse cx="46" cy="197.8" rx="0.9" ry="1.1" fill="#f2e6f3" opacity="0.8"/>
<ellipse cx="73.7" cy="198.8" rx="0.8" ry="0.7" fill="#f2e6f3" opacity="0.8"/>
<ellipse cx="52.9" cy="200.6" rx="0.8" ry="0.7" fill="#f2e6f3" opacity="0.8"/>
<ellipse cx="60.2" cy="195.9" rx="0.8" ry="0.9" fill="#f2e6f3" opacity="0.8"/>
<ellipse cx="44.9" cy="204.5" rx="0.9" ry="1" fill="#f2e6f3" opacity="0.8"/>
<ellipse cx="34.8" cy="192.8" rx="0.9" ry="1" fill="#f2e6f3" opacity="0.8"/>
<ellipse cx="96.6" cy="204.7" rx="0.8" ry="0.8" fill="#f2e6f3" opacity="0.8"/>
<path d="M30,197.8 C45,196.8 62,198 80,201 C84,201.7 87,202 90,202.3" stroke="#f3ecf3" stroke-width="1.3" fill="none" />
<rect x="36" y="203" width="12.5" height="1.7" fill="#d2c8d2" stroke="none" stroke-width="1" />
</g></g>
<rect x="31.2" y="157.2" width="79.5" height="49.5" fill="none" stroke="#a8a8a8" stroke-width="1.3" />
<g clip-path="url(#c2)"><g filter="url(#bl)">
<rect x="111" y="156" width="82" height="52" fill="#b5529f" stroke="none" stroke-width="1" />
<rect x="111" y="156" width="82" height="16" fill="#f2e0ef" stroke="none" stroke-width="1" />
<ellipse cx="111.5" cy="157.7" rx="2.6" ry="1.9" fill="#c24fa0" transform="rotate(26 111.5 157.7)"/>
<ellipse cx="117.1" cy="157.4" rx="2.7" ry="2.1" fill="#c24fa0" transform="rotate(8 117.1 157.4)"/>
<ellipse cx="122.7" cy="157" rx="2.8" ry="2" fill="#c24fa0" transform="rotate(17 122.7 157)"/>
<ellipse cx="129" cy="157.7" rx="2.8" ry="2" fill="#c24fa0" transform="rotate(-18 129 157.7)"/>
<ellipse cx="133.6" cy="156.9" rx="2.8" ry="2" fill="#c24fa0" transform="rotate(-9 133.6 156.9)"/>
<ellipse cx="140.5" cy="157.3" rx="2.8" ry="2" fill="#c24fa0" transform="rotate(-38 140.5 157.3)"/>
<ellipse cx="145.6" cy="157" rx="2.8" ry="2.2" fill="#c24fa0" transform="rotate(13 145.6 157)"/>
<ellipse cx="151.2" cy="157.6" rx="2.9" ry="2.1" fill="#c24fa0" transform="rotate(32 151.2 157.6)"/>
<ellipse cx="157.7" cy="157.5" rx="2.7" ry="2.2" fill="#c24fa0" transform="rotate(36 157.7 157.5)"/>
<ellipse cx="162.8" cy="157.5" rx="2.9" ry="2" fill="#c24fa0" transform="rotate(2 162.8 157.5)"/>
<ellipse cx="169" cy="157.6" rx="2.8" ry="2.1" fill="#c24fa0" transform="rotate(-11 169 157.6)"/>
<ellipse cx="175.3" cy="157.6" rx="2.8" ry="2.1" fill="#c24fa0" transform="rotate(33 175.3 157.6)"/>
<ellipse cx="180.9" cy="157.3" rx="2.7" ry="2" fill="#c24fa0" transform="rotate(15 180.9 157.3)"/>
<ellipse cx="186" cy="157.6" rx="2.7" ry="2.2" fill="#c24fa0" transform="rotate(-15 186 157.6)"/>
<ellipse cx="192.7" cy="157.5" rx="2.8" ry="2.1" fill="#c24fa0" transform="rotate(12 192.7 157.5)"/>
<ellipse cx="114" cy="161.2" rx="2.7" ry="2.1" fill="#c24fa0" transform="rotate(34 114 161.2)"/>
<ellipse cx="119.8" cy="161.1" rx="2.9" ry="2.1" fill="#c24fa0" transform="rotate(32 119.8 161.1)"/>
<ellipse cx="125.1" cy="161.6" rx="2.6" ry="2.1" fill="#c24fa0" transform="rotate(-18 125.1 161.6)"/>
<ellipse cx="131" cy="161.7" rx="2.6" ry="2.1" fill="#c24fa0" transform="rotate(28 131 161.7)"/>
<ellipse cx="136.8" cy="161.2" rx="3" ry="2" fill="#c24fa0" transform="rotate(17 136.8 161.2)"/>
<ellipse cx="142.3" cy="161.3" rx="2.7" ry="2.1" fill="#c24fa0" transform="rotate(-33 142.3 161.3)"/>
<ellipse cx="149.2" cy="161" rx="2.9" ry="1.9" fill="#c24fa0" transform="rotate(-19 149.2 161)"/>
<ellipse cx="154.9" cy="161.1" rx="2.7" ry="2.1" fill="#c24fa0" transform="rotate(-9 154.9 161.1)"/>
<ellipse cx="159.8" cy="161.8" rx="2.7" ry="1.9" fill="#c24fa0" transform="rotate(-12 159.8 161.8)"/>
<ellipse cx="166.2" cy="161.6" rx="2.6" ry="2" fill="#c24fa0" transform="rotate(-37 166.2 161.6)"/>
<ellipse cx="171.8" cy="161.6" rx="2.9" ry="2.2" fill="#c24fa0" transform="rotate(20 171.8 161.6)"/>
<ellipse cx="178.1" cy="161.6" rx="2.8" ry="2" fill="#c24fa0" transform="rotate(12 178.1 161.6)"/>
<ellipse cx="183.3" cy="161.1" rx="2.8" ry="2.2" fill="#c24fa0" transform="rotate(-29 183.3 161.1)"/>
<ellipse cx="189.4" cy="161.3" rx="2.8" ry="1.9" fill="#c24fa0" transform="rotate(36 189.4 161.3)"/>
<ellipse cx="194.8" cy="161.5" rx="2.8" ry="1.9" fill="#c24fa0" transform="rotate(4 194.8 161.5)"/>
<ellipse cx="110.6" cy="165.1" rx="2.6" ry="1.9" fill="#c24fa0" transform="rotate(-32 110.6 165.1)"/>
<ellipse cx="117" cy="165.5" rx="3" ry="2.2" fill="#c24fa0" transform="rotate(39 117 165.5)"/>
<ellipse cx="122.3" cy="165.5" rx="2.7" ry="2.1" fill="#c24fa0" transform="rotate(9 122.3 165.5)"/>
<ellipse cx="128.8" cy="165.7" rx="2.7" ry="2" fill="#c24fa0" transform="rotate(2 128.8 165.7)"/>
<ellipse cx="133.6" cy="165.1" rx="2.8" ry="1.9" fill="#c24fa0" transform="rotate(17 133.6 165.1)"/>
<ellipse cx="139.7" cy="165.2" rx="2.7" ry="2" fill="#c24fa0" transform="rotate(-22 139.7 165.2)"/>
<ellipse cx="145.8" cy="165.5" rx="2.7" ry="2.1" fill="#c24fa0" transform="rotate(-23 145.8 165.5)"/>
<ellipse cx="152.1" cy="165.9" rx="2.9" ry="2" fill="#c24fa0" transform="rotate(0 152.1 165.9)"/>
<ellipse cx="157.5" cy="165.1" rx="2.8" ry="2.1" fill="#c24fa0" transform="rotate(-25 157.5 165.1)"/>
<ellipse cx="162.7" cy="165.7" rx="2.7" ry="2.1" fill="#c24fa0" transform="rotate(33 162.7 165.7)"/>
<ellipse cx="169.1" cy="165.3" rx="3" ry="2" fill="#c24fa0" transform="rotate(-38 169.1 165.3)"/>
<ellipse cx="175" cy="165.2" rx="2.7" ry="2.2" fill="#c24fa0" transform="rotate(13 175 165.2)"/>
<ellipse cx="180" cy="165.5" rx="2.8" ry="2" fill="#c24fa0" transform="rotate(-23 180 165.5)"/>
<ellipse cx="186.5" cy="165.2" rx="2.7" ry="2" fill="#c24fa0" transform="rotate(34 186.5 165.2)"/>
<ellipse cx="191.7" cy="165.7" rx="2.7" ry="2.1" fill="#c24fa0" transform="rotate(-8 191.7 165.7)"/>
<ellipse cx="113.9" cy="169.8" rx="2.8" ry="1.9" fill="#c24fa0" transform="rotate(-30 113.9 169.8)"/>
<ellipse cx="119.2" cy="169.9" rx="2.9" ry="2.2" fill="#c24fa0" transform="rotate(15 119.2 169.9)"/>
<ellipse cx="124.9" cy="169.7" rx="2.9" ry="2.1" fill="#c24fa0" transform="rotate(0 124.9 169.7)"/>
<ellipse cx="131.1" cy="169.6" rx="2.9" ry="2" fill="#c24fa0" transform="rotate(2 131.1 169.6)"/>
<ellipse cx="137.1" cy="170" rx="2.9" ry="2.2" fill="#c24fa0" transform="rotate(26 137.1 170)"/>
<ellipse cx="142.7" cy="169.4" rx="2.8" ry="2" fill="#c24fa0" transform="rotate(-5 142.7 169.4)"/>
<ellipse cx="148.9" cy="169.9" rx="2.8" ry="2.1" fill="#c24fa0" transform="rotate(-32 148.9 169.9)"/>
<ellipse cx="154.3" cy="170" rx="2.7" ry="2" fill="#c24fa0" transform="rotate(-34 154.3 170)"/>
<ellipse cx="159.8" cy="169.9" rx="3" ry="2.1" fill="#c24fa0" transform="rotate(-29 159.8 169.9)"/>
<ellipse cx="165.9" cy="169.4" rx="2.9" ry="2.1" fill="#c24fa0" transform="rotate(-4 165.9 169.4)"/>
<ellipse cx="171.9" cy="169.3" rx="2.8" ry="2.2" fill="#c24fa0" transform="rotate(20 171.9 169.3)"/>
<ellipse cx="177.2" cy="169.6" rx="2.9" ry="2" fill="#c24fa0" transform="rotate(31 177.2 169.6)"/>
<ellipse cx="183.5" cy="169.8" rx="2.8" ry="2.2" fill="#c24fa0" transform="rotate(22 183.5 169.8)"/>
<ellipse cx="189.4" cy="169.3" rx="2.8" ry="1.9" fill="#c24fa0" transform="rotate(7 189.4 169.3)"/>
<ellipse cx="195.6" cy="169.3" rx="2.8" ry="2" fill="#c24fa0" transform="rotate(-7 195.6 169.3)"/>
<path d="M111,170.5 C130,171 160,171 193,170.5 V176.5 C160,177 130,177 111,176.5 Z" stroke="none" stroke-width="0" fill="#ebd0e5" />
<ellipse cx="169.3" cy="176.2" rx="1.1" ry="1.1" fill="#c870b0" opacity="0.6"/>
<ellipse cx="189.9" cy="172.8" rx="1.1" ry="1.3" fill="#c870b0" opacity="0.6"/>
<ellipse cx="173.5" cy="175.7" rx="0.8" ry="0.9" fill="#c870b0" opacity="0.6"/>
<ellipse cx="144" cy="174.7" rx="1.3" ry="1.4" fill="#c870b0" opacity="0.6"/>
<ellipse cx="112" cy="173.6" rx="1.1" ry="1.3" fill="#c870b0" opacity="0.6"/>
<ellipse cx="164.3" cy="175.5" rx="0.7" ry="0.9" fill="#c870b0" opacity="0.6"/>
<ellipse cx="170.8" cy="174.3" rx="1.2" ry="1.5" fill="#c870b0" opacity="0.6"/>
<ellipse cx="119.2" cy="175.5" rx="1.2" ry="1" fill="#c870b0" opacity="0.6"/>
<ellipse cx="172" cy="174.2" rx="0.8" ry="0.9" fill="#c870b0" opacity="0.6"/>
<ellipse cx="122.3" cy="174.4" rx="1" ry="0.9" fill="#c870b0" opacity="0.6"/>
<ellipse cx="157.4" cy="173.6" rx="0.8" ry="1" fill="#c870b0" opacity="0.6"/>
<ellipse cx="117" cy="171" rx="1" ry="1.2" fill="#c870b0" opacity="0.6"/>
<ellipse cx="165" cy="175.2" rx="1" ry="1.1" fill="#c870b0" opacity="0.6"/>
<ellipse cx="138.5" cy="172.5" rx="1" ry="0.8" fill="#c870b0" opacity="0.6"/>
<ellipse cx="117.5" cy="175.1" rx="0.8" ry="0.9" fill="#c870b0" opacity="0.6"/>
<ellipse cx="175.3" cy="173.2" rx="1.1" ry="1.3" fill="#c870b0" opacity="0.6"/>
<ellipse cx="181.8" cy="171.7" rx="0.8" ry="0.8" fill="#c870b0" opacity="0.6"/>
<ellipse cx="149.1" cy="172.6" rx="0.7" ry="0.7" fill="#c870b0" opacity="0.6"/>
<ellipse cx="190.3" cy="173" rx="1" ry="1" fill="#c870b0" opacity="0.6"/>
<ellipse cx="147.3" cy="175.8" rx="0.9" ry="1" fill="#c870b0" opacity="0.6"/>
<ellipse cx="150.7" cy="174" rx="1.2" ry="1" fill="#c870b0" opacity="0.6"/>
<ellipse cx="178.6" cy="172.7" rx="1.1" ry="1.3" fill="#c870b0" opacity="0.6"/>
<ellipse cx="164.6" cy="173.2" rx="1.2" ry="1" fill="#c870b0" opacity="0.6"/>
<ellipse cx="162.9" cy="173.2" rx="1" ry="1.2" fill="#c870b0" opacity="0.6"/>
<ellipse cx="176.4" cy="174.5" rx="0.9" ry="0.8" fill="#c870b0" opacity="0.6"/>
<ellipse cx="148.5" cy="172.3" rx="0.9" ry="1.1" fill="#c870b0" opacity="0.6"/>
<rect x="111" y="176.5" width="82" height="14" fill="#f2dcef" stroke="none" stroke-width="1" />
<rect x="111.6" y="179.5" width="4.5" height="17.4" rx="2.2" fill="#b8529f"/>
<ellipse cx="113.9" cy="184.7" rx="1.7" ry="1.6" fill="#c764aa" opacity="0.8"/>
<rect x="117.3" y="177.5" width="5.2" height="19.7" rx="2.2" fill="#b8529f"/>
<ellipse cx="119.9" cy="185.1" rx="1.9" ry="2.4" fill="#c764aa" opacity="0.8"/>
<rect x="123.7" y="178.9" width="5.2" height="20.7" rx="2.2" fill="#b8529f"/>
<ellipse cx="126.3" cy="183.3" rx="1.9" ry="1.7" fill="#c764aa" opacity="0.8"/>
<rect x="130.1" y="179" width="4.7" height="17.8" rx="2.2" fill="#b8529f"/>
<ellipse cx="132.5" cy="186.2" rx="1.8" ry="1.7" fill="#c764aa" opacity="0.8"/>
<rect x="136" y="178.9" width="5.9" height="18.1" rx="2.2" fill="#b8529f"/>
<rect x="143.1" y="179.6" width="5" height="20" rx="2.2" fill="#b8529f"/>
<rect x="149.3" y="179.8" width="5.7" height="18.9" rx="2.2" fill="#b8529f"/>
<rect x="156.2" y="179.8" width="6" height="19" rx="2.2" fill="#b8529f"/>
<rect x="163.4" y="178.9" width="4.9" height="19.5" rx="2.2" fill="#b8529f"/>
<ellipse cx="165.9" cy="184.4" rx="1.8" ry="1.7" fill="#c764aa" opacity="0.8"/>
<rect x="169.5" y="178.1" width="6.2" height="19.3" rx="2.2" fill="#b8529f"/>
<rect x="176.9" y="179.9" width="4.7" height="15.8" rx="2.2" fill="#b8529f"/>
<ellipse cx="179.3" cy="185.3" rx="1.8" ry="1.9" fill="#c764aa" opacity="0.8"/>
<rect x="182.8" y="179.6" width="6.1" height="19.2" rx="2.2" fill="#b8529f"/>
<ellipse cx="185.9" cy="185.8" rx="2.2" ry="1.7" fill="#c764aa" opacity="0.8"/>
<rect x="190.1" y="178.2" width="6" height="18.3" rx="2.2" fill="#b8529f"/>
<rect x="111" y="192" width="82" height="11" fill="#b24f9c" stroke="none" stroke-width="1" opacity="0.85"/>
<rect x="111" y="177" width="82" height="26" fill="#fff" stroke="none" stroke-width="1" filter="url(#mw)" opacity="0.18"/>
<rect x="111" y="177" width="82" height="26" fill="#000" stroke="none" stroke-width="1" filter="url(#md)" opacity="0.3"/>
<path d="M111,202.5 C140,203 170,203 193,202.5 V208 H111 Z" stroke="none" stroke-width="0" fill="#e08cc6" />
<rect x="111" y="205.5" width="82" height="2" fill="#f0c6e2" stroke="none" stroke-width="1" />
<rect x="113" y="203.8" width="15" height="1.6" fill="#e4dce4" stroke="none" stroke-width="1" />
</g></g>
<rect x="112.2" y="157.2" width="79" height="49.5" fill="none" stroke="#a8a8a8" stroke-width="1.3" />
<g clip-path="url(#c3)"><g filter="url(#bl)">
<rect x="30" y="208" width="82" height="52" fill="#b27ebe" stroke="none" stroke-width="1" />
<path d="M30,208 H79 L96,214.5 L112,220.8 L112,232.6 L80,220.8 L60,215.2 L30,211.8 Z" fill="#e48ac0"/>
<rect x="30" y="208" width="82" height="52" fill="#fff" stroke="none" stroke-width="1" filter="url(#mw)" opacity="0.35"/>
<rect x="30" y="208" width="82" height="52" fill="#000" stroke="none" stroke-width="1" filter="url(#md)" opacity="0.25"/>
<path d="M79,208 H112 V220.8 L96,214.5 Z" fill="#ececec"/>
<ellipse cx="49.5" cy="239" rx="0.7" ry="0.8" fill="#f0e2f0" opacity="0.7"/>
<ellipse cx="81.3" cy="224.7" rx="0.6" ry="0.7" fill="#f0e2f0" opacity="0.7"/>
<ellipse cx="51.3" cy="225.5" rx="1" ry="1" fill="#f0e2f0" opacity="0.7"/>
<ellipse cx="98.6" cy="243.1" rx="0.9" ry="0.7" fill="#f0e2f0" opacity="0.7"/>
<ellipse cx="82.1" cy="254.2" rx="0.8" ry="0.9" fill="#f0e2f0" opacity="0.7"/>
<ellipse cx="85.1" cy="225.9" rx="0.9" ry="1" fill="#f0e2f0" opacity="0.7"/>
<ellipse cx="54.7" cy="216.9" rx="0.9" ry="1" fill="#f0e2f0" opacity="0.7"/>
<ellipse cx="88.9" cy="254.9" rx="0.9" ry="1.1" fill="#f0e2f0" opacity="0.7"/>
<ellipse cx="62.4" cy="250.6" rx="0.8" ry="0.9" fill="#f0e2f0" opacity="0.7"/>
<ellipse cx="102.1" cy="232.8" rx="0.7" ry="0.6" fill="#f0e2f0" opacity="0.7"/>
<ellipse cx="109.2" cy="244.1" rx="0.9" ry="0.8" fill="#f0e2f0" opacity="0.7"/>
<ellipse cx="71.6" cy="234.7" rx="0.7" ry="0.8" fill="#f0e2f0" opacity="0.7"/>
<ellipse cx="77.9" cy="255.4" rx="0.9" ry="1.1" fill="#f0e2f0" opacity="0.7"/>
<ellipse cx="100.2" cy="258.7" rx="0.9" ry="0.8" fill="#f0e2f0" opacity="0.7"/>
<ellipse cx="100.6" cy="258" rx="1" ry="1" fill="#f0e2f0" opacity="0.7"/>
<ellipse cx="88.5" cy="232.1" rx="0.9" ry="1" fill="#f0e2f0" opacity="0.7"/>
<ellipse cx="53.4" cy="218.2" rx="0.9" ry="1.2" fill="#f0e2f0" opacity="0.7"/>
<ellipse cx="37.3" cy="250" rx="0.8" ry="0.7" fill="#f0e2f0" opacity="0.7"/>
<ellipse cx="54.1" cy="248.9" rx="0.9" ry="0.8" fill="#f0e2f0" opacity="0.7"/>
<ellipse cx="80.4" cy="223.6" rx="0.9" ry="0.8" fill="#f0e2f0" opacity="0.7"/>
<ellipse cx="102.2" cy="258.4" rx="0.8" ry="1" fill="#f0e2f0" opacity="0.7"/>
<ellipse cx="55.4" cy="219" rx="0.8" ry="0.7" fill="#f0e2f0" opacity="0.7"/>
<ellipse cx="46.2" cy="232.7" rx="0.8" ry="0.7" fill="#f0e2f0" opacity="0.7"/>
<ellipse cx="33.5" cy="252.9" rx="0.7" ry="0.9" fill="#f0e2f0" opacity="0.7"/>
<ellipse cx="103.5" cy="241.3" rx="0.8" ry="0.8" fill="#f0e2f0" opacity="0.7"/>
<ellipse cx="82.8" cy="244.4" rx="0.8" ry="0.9" fill="#f0e2f0" opacity="0.7"/>
<ellipse cx="107.1" cy="245.6" rx="0.8" ry="0.9" fill="#f0e2f0" opacity="0.7"/>
<ellipse cx="49.5" cy="228.3" rx="1" ry="1" fill="#f0e2f0" opacity="0.7"/>
<ellipse cx="75" cy="220.8" rx="0.8" ry="0.8" fill="#f0e2f0" opacity="0.7"/>
<ellipse cx="31.6" cy="241.3" rx="0.9" ry="0.7" fill="#f0e2f0" opacity="0.7"/>
<ellipse cx="81.4" cy="239.4" rx="0.9" ry="0.8" fill="#f0e2f0" opacity="0.7"/>
<ellipse cx="88" cy="250" rx="0.6" ry="0.5" fill="#f0e2f0" opacity="0.7"/>
<ellipse cx="85.4" cy="257.7" rx="0.7" ry="0.7" fill="#f0e2f0" opacity="0.7"/>
<ellipse cx="78.6" cy="233.4" rx="0.7" ry="0.7" fill="#f0e2f0" opacity="0.7"/>
<ellipse cx="60.3" cy="241.7" rx="0.7" ry="0.7" fill="#f0e2f0" opacity="0.7"/>
<ellipse cx="93.3" cy="227.6" rx="0.8" ry="0.9" fill="#f0e2f0" opacity="0.7"/>
<ellipse cx="55.4" cy="225.3" rx="0.9" ry="0.8" fill="#f0e2f0" opacity="0.7"/>
<ellipse cx="45.4" cy="233.9" rx="0.9" ry="0.7" fill="#f0e2f0" opacity="0.7"/>
<ellipse cx="56.4" cy="230.2" rx="0.9" ry="0.9" fill="#f0e2f0" opacity="0.7"/>
<ellipse cx="100.2" cy="234.3" rx="0.7" ry="0.8" fill="#f0e2f0" opacity="0.7"/>
<ellipse cx="102.6" cy="243.1" rx="0.7" ry="0.6" fill="#f0e2f0" opacity="0.7"/>
<ellipse cx="73.4" cy="227.4" rx="0.9" ry="1.1" fill="#f0e2f0" opacity="0.7"/>
<ellipse cx="45.1" cy="226.9" rx="0.9" ry="1" fill="#f0e2f0" opacity="0.7"/>
<ellipse cx="96.1" cy="238.5" rx="0.7" ry="0.6" fill="#f0e2f0" opacity="0.7"/>
<ellipse cx="95.1" cy="235.9" rx="0.7" ry="0.7" fill="#f0e2f0" opacity="0.7"/>
<ellipse cx="64.4" cy="234.5" rx="1" ry="0.8" fill="#f0e2f0" opacity="0.7"/>
<ellipse cx="30.4" cy="256.4" rx="1" ry="1.2" fill="#f0e2f0" opacity="0.7"/>
<ellipse cx="65.6" cy="256.9" rx="1" ry="0.9" fill="#f0e2f0" opacity="0.7"/>
<ellipse cx="91.1" cy="253.6" rx="0.9" ry="0.9" fill="#f0e2f0" opacity="0.7"/>
<ellipse cx="53.7" cy="230.3" rx="0.7" ry="0.6" fill="#f0e2f0" opacity="0.7"/>
<ellipse cx="78.3" cy="232.1" rx="0.9" ry="0.8" fill="#f0e2f0" opacity="0.7"/>
<ellipse cx="104.1" cy="250.3" rx="1" ry="1.2" fill="#f0e2f0" opacity="0.7"/>
<ellipse cx="103.8" cy="247" rx="0.6" ry="0.7" fill="#f0e2f0" opacity="0.7"/>
<ellipse cx="44.1" cy="227.8" rx="0.9" ry="0.9" fill="#f0e2f0" opacity="0.7"/>
<ellipse cx="63.9" cy="256.5" rx="0.8" ry="0.8" fill="#f0e2f0" opacity="0.7"/>
<ellipse cx="50.7" cy="252.9" rx="0.8" ry="0.9" fill="#f0e2f0" opacity="0.7"/>
<ellipse cx="58.9" cy="224.5" rx="0.8" ry="1" fill="#f0e2f0" opacity="0.7"/>
<ellipse cx="44" cy="249.7" rx="1" ry="1.1" fill="#f0e2f0" opacity="0.7"/>
<ellipse cx="97.5" cy="228.5" rx="0.9" ry="1" fill="#f0e2f0" opacity="0.7"/>
<ellipse cx="34.1" cy="225.7" rx="0.7" ry="0.7" fill="#f0e2f0" opacity="0.7"/>
<ellipse cx="64.7" cy="237.1" rx="0.9" ry="0.7" fill="#f0e2f0" opacity="0.7"/>
<ellipse cx="34.5" cy="219.1" rx="0.6" ry="0.5" fill="#f0e2f0" opacity="0.7"/>
<ellipse cx="109.9" cy="255.2" rx="0.6" ry="0.7" fill="#f0e2f0" opacity="0.7"/>
<ellipse cx="55.9" cy="229.3" rx="0.7" ry="0.8" fill="#f0e2f0" opacity="0.7"/>
<ellipse cx="78.1" cy="234.9" rx="0.7" ry="0.6" fill="#f0e2f0" opacity="0.7"/>
<ellipse cx="40.1" cy="239" rx="0.9" ry="0.9" fill="#f0e2f0" opacity="0.7"/>
<ellipse cx="36.6" cy="221.7" rx="0.7" ry="0.8" fill="#f0e2f0" opacity="0.7"/>
<ellipse cx="94.2" cy="239.2" rx="0.9" ry="1" fill="#f0e2f0" opacity="0.7"/>
<ellipse cx="65.4" cy="233.1" rx="0.8" ry="0.9" fill="#f0e2f0" opacity="0.7"/>
<ellipse cx="64.5" cy="246.3" rx="0.8" ry="0.7" fill="#f0e2f0" opacity="0.7"/>
<ellipse cx="73.9" cy="247.1" rx="0.6" ry="0.6" fill="#f0e2f0" opacity="0.7"/>
<ellipse cx="64.9" cy="254" rx="1" ry="0.9" fill="#f0e2f0" opacity="0.7"/>
<ellipse cx="103.6" cy="253" rx="0.7" ry="0.7" fill="#f0e2f0" opacity="0.7"/>
<ellipse cx="40.1" cy="250.6" rx="0.9" ry="1" fill="#f0e2f0" opacity="0.7"/>
<ellipse cx="95" cy="248.5" rx="0.9" ry="0.9" fill="#f0e2f0" opacity="0.7"/>
<ellipse cx="38.5" cy="240.3" rx="0.6" ry="0.5" fill="#f0e2f0" opacity="0.7"/>
<ellipse cx="93.5" cy="228.2" rx="0.6" ry="0.5" fill="#f0e2f0" opacity="0.7"/>
<ellipse cx="102.2" cy="235.2" rx="0.6" ry="0.7" fill="#f0e2f0" opacity="0.7"/>
<ellipse cx="39.9" cy="252" rx="0.9" ry="1" fill="#f0e2f0" opacity="0.7"/>
<ellipse cx="108.1" cy="247.7" rx="0.9" ry="0.8" fill="#f0e2f0" opacity="0.7"/>
<ellipse cx="92.9" cy="243.2" rx="0.9" ry="0.8" fill="#f0e2f0" opacity="0.7"/>
<ellipse cx="91.4" cy="256.8" rx="0.6" ry="0.6" fill="#f0e2f0" opacity="0.7"/>
<ellipse cx="76.2" cy="252.4" rx="0.7" ry="0.6" fill="#f0e2f0" opacity="0.7"/>
<ellipse cx="50.5" cy="242.2" rx="0.9" ry="0.9" fill="#f0e2f0" opacity="0.7"/>
<ellipse cx="60.1" cy="233.2" rx="0.7" ry="0.7" fill="#f0e2f0" opacity="0.7"/>
<ellipse cx="36.8" cy="236.3" rx="1" ry="1" fill="#f0e2f0" opacity="0.7"/>
<ellipse cx="91.3" cy="231.3" rx="0.9" ry="1" fill="#f0e2f0" opacity="0.7"/>
<ellipse cx="85.3" cy="242" rx="0.8" ry="0.9" fill="#f0e2f0" opacity="0.7"/>
<ellipse cx="103.6" cy="234.8" rx="0.6" ry="0.7" fill="#f0e2f0" opacity="0.7"/>
<ellipse cx="105.2" cy="245.5" rx="0.8" ry="0.9" fill="#f0e2f0" opacity="0.7"/>
<ellipse cx="45.3" cy="226.4" rx="0.7" ry="0.7" fill="#f0e2f0" opacity="0.7"/>
<ellipse cx="55.8" cy="225.8" rx="0.9" ry="1.1" fill="#f0e2f0" opacity="0.7"/>
<ellipse cx="54.3" cy="246.2" rx="0.8" ry="0.9" fill="#f0e2f0" opacity="0.7"/>
<ellipse cx="77.9" cy="231.3" rx="0.7" ry="0.6" fill="#f0e2f0" opacity="0.7"/>
<ellipse cx="69.3" cy="234.2" rx="0.7" ry="0.6" fill="#f0e2f0" opacity="0.7"/>
<ellipse cx="56.4" cy="249.2" rx="0.7" ry="0.8" fill="#f0e2f0" opacity="0.7"/>
<ellipse cx="69.3" cy="242.9" rx="0.8" ry="0.9" fill="#f0e2f0" opacity="0.7"/>
<ellipse cx="97.4" cy="245.4" rx="0.8" ry="0.9" fill="#f0e2f0" opacity="0.7"/>
<ellipse cx="100.2" cy="241.2" rx="0.9" ry="1.1" fill="#f0e2f0" opacity="0.7"/>
<ellipse cx="68.3" cy="227.8" rx="0.7" ry="0.8" fill="#f0e2f0" opacity="0.7"/>
<ellipse cx="85.4" cy="257.5" rx="0.9" ry="0.9" fill="#f0e2f0" opacity="0.7"/>
<ellipse cx="45.5" cy="226.1" rx="0.7" ry="0.8" fill="#f0e2f0" opacity="0.7"/>
<ellipse cx="100.4" cy="256" rx="0.7" ry="0.8" fill="#f0e2f0" opacity="0.7"/>
<ellipse cx="55.7" cy="234" rx="0.9" ry="0.7" fill="#f0e2f0" opacity="0.7"/>
<ellipse cx="37.6" cy="251.5" rx="0.7" ry="0.7" fill="#f0e2f0" opacity="0.7"/>
<ellipse cx="77.6" cy="246.7" rx="0.6" ry="0.6" fill="#f0e2f0" opacity="0.7"/>
<ellipse cx="65.8" cy="237.8" rx="0.7" ry="0.7" fill="#f0e2f0" opacity="0.7"/>
<ellipse cx="108.3" cy="242.7" rx="0.8" ry="0.7" fill="#f0e2f0" opacity="0.7"/>
<ellipse cx="52.5" cy="244.4" rx="0.6" ry="0.8" fill="#f0e2f0" opacity="0.7"/>
<ellipse cx="104.5" cy="233.6" rx="1" ry="0.9" fill="#f0e2f0" opacity="0.7"/>
<ellipse cx="93.3" cy="251.2" rx="0.7" ry="0.8" fill="#f0e2f0" opacity="0.7"/>
<ellipse cx="83.6" cy="252" rx="0.7" ry="0.8" fill="#f0e2f0" opacity="0.7"/>
<ellipse cx="108.8" cy="250.3" rx="0.8" ry="0.7" fill="#f0e2f0" opacity="0.7"/>
<ellipse cx="70.5" cy="233.2" rx="0.9" ry="1" fill="#f0e2f0" opacity="0.7"/>
<ellipse cx="76.4" cy="227.8" rx="0.9" ry="0.9" fill="#f0e2f0" opacity="0.7"/>
<ellipse cx="44.7" cy="254.1" rx="0.9" ry="0.7" fill="#f0e2f0" opacity="0.7"/>
<ellipse cx="106.4" cy="235.4" rx="0.7" ry="0.8" fill="#f0e2f0" opacity="0.7"/>
<ellipse cx="79" cy="242.3" rx="0.9" ry="0.9" fill="#f0e2f0" opacity="0.7"/>
<ellipse cx="55.6" cy="223.3" rx="0.6" ry="0.7" fill="#f0e2f0" opacity="0.7"/>
<ellipse cx="91.9" cy="244" rx="0.9" ry="0.9" fill="#f0e2f0" opacity="0.7"/>
<ellipse cx="51.8" cy="232" rx="0.9" ry="0.8" fill="#f0e2f0" opacity="0.7"/>
<ellipse cx="71.4" cy="229.2" rx="0.9" ry="0.9" fill="#f0e2f0" opacity="0.7"/>
<ellipse cx="57.3" cy="233.3" rx="0.8" ry="0.9" fill="#f0e2f0" opacity="0.7"/>
<ellipse cx="58.9" cy="252.4" rx="0.6" ry="0.6" fill="#f0e2f0" opacity="0.7"/>
<ellipse cx="38.2" cy="218.8" rx="0.9" ry="1" fill="#f0e2f0" opacity="0.7"/>
<ellipse cx="45.2" cy="222.9" rx="0.8" ry="0.9" fill="#f0e2f0" opacity="0.7"/>
<ellipse cx="96.9" cy="251.2" rx="0.8" ry="0.7" fill="#f0e2f0" opacity="0.7"/>
<ellipse cx="62.7" cy="225.1" rx="0.8" ry="0.9" fill="#f0e2f0" opacity="0.7"/>
<ellipse cx="46.6" cy="225.8" rx="0.9" ry="0.7" fill="#f0e2f0" opacity="0.7"/>
<ellipse cx="95.9" cy="255.6" rx="1" ry="1" fill="#f0e2f0" opacity="0.7"/>
<ellipse cx="75.3" cy="242.9" rx="0.9" ry="1.1" fill="#f0e2f0" opacity="0.7"/>
<ellipse cx="86.3" cy="234.6" rx="0.9" ry="1" fill="#f0e2f0" opacity="0.7"/>
<ellipse cx="79.3" cy="248.8" rx="0.6" ry="0.7" fill="#f0e2f0" opacity="0.7"/>
<ellipse cx="84.3" cy="240.9" rx="0.8" ry="0.8" fill="#f0e2f0" opacity="0.7"/>
<ellipse cx="45.9" cy="238.1" rx="0.6" ry="0.6" fill="#f0e2f0" opacity="0.7"/>
<ellipse cx="83" cy="238.9" rx="0.8" ry="1" fill="#f0e2f0" opacity="0.7"/>
<ellipse cx="103.1" cy="234.2" rx="0.9" ry="1" fill="#f0e2f0" opacity="0.7"/>
<ellipse cx="34.1" cy="229.7" rx="0.7" ry="0.6" fill="#f0e2f0" opacity="0.7"/>
<ellipse cx="74.2" cy="256.3" rx="0.7" ry="0.9" fill="#f0e2f0" opacity="0.7"/>
<ellipse cx="87" cy="229" rx="0.9" ry="1" fill="#f0e2f0" opacity="0.7"/>
<ellipse cx="106" cy="251.2" rx="0.9" ry="0.9" fill="#f0e2f0" opacity="0.7"/>
<ellipse cx="96.1" cy="256.9" rx="0.9" ry="0.9" fill="#f0e2f0" opacity="0.7"/>
<ellipse cx="92.1" cy="242.1" rx="0.6" ry="0.5" fill="#f0e2f0" opacity="0.7"/>
<ellipse cx="36.4" cy="222.6" rx="0.7" ry="0.7" fill="#f0e2f0" opacity="0.7"/>
<ellipse cx="87.3" cy="243" rx="0.8" ry="0.8" fill="#f0e2f0" opacity="0.7"/>
<ellipse cx="55" cy="235.8" rx="0.9" ry="0.9" fill="#f0e2f0" opacity="0.7"/>
<ellipse cx="44.8" cy="254.5" rx="0.9" ry="0.9" fill="#f0e2f0" opacity="0.7"/>
<ellipse cx="60.4" cy="238.9" rx="0.8" ry="0.8" fill="#f0e2f0" opacity="0.7"/>
<ellipse cx="30.2" cy="222.5" rx="0.9" ry="0.8" fill="#f0e2f0" opacity="0.7"/>
<ellipse cx="67.7" cy="226.3" rx="0.7" ry="0.6" fill="#f0e2f0" opacity="0.7"/>
<ellipse cx="63.1" cy="224.1" rx="0.6" ry="0.5" fill="#f0e2f0" opacity="0.7"/>
<ellipse cx="43.8" cy="236.2" rx="0.6" ry="0.5" fill="#f0e2f0" opacity="0.7"/>
<ellipse cx="66.7" cy="234.8" rx="0.9" ry="0.7" fill="#f0e2f0" opacity="0.7"/>
<ellipse cx="63.1" cy="233.7" rx="0.6" ry="0.8" fill="#f0e2f0" opacity="0.7"/>
<ellipse cx="48" cy="219" rx="0.8" ry="0.7" fill="#f0e2f0" opacity="0.7"/>
<ellipse cx="81" cy="234.9" rx="0.6" ry="0.5" fill="#f0e2f0" opacity="0.7"/>
<ellipse cx="89.7" cy="234.6" rx="0.9" ry="0.9" fill="#f0e2f0" opacity="0.7"/>
<ellipse cx="106.5" cy="239.8" rx="0.7" ry="0.6" fill="#f0e2f0" opacity="0.7"/>
<ellipse cx="96.8" cy="247.5" rx="0.7" ry="0.6" fill="#f0e2f0" opacity="0.7"/>
<ellipse cx="86" cy="257.9" rx="0.8" ry="0.7" fill="#f0e2f0" opacity="0.7"/>
<ellipse cx="32.5" cy="217.2" rx="0.7" ry="0.5" fill="#f0e2f0" opacity="0.7"/>
<ellipse cx="34.4" cy="243.2" rx="1" ry="0.9" fill="#f0e2f0" opacity="0.7"/>
<ellipse cx="109.9" cy="245.3" rx="0.9" ry="1.1" fill="#f0e2f0" opacity="0.7"/>
<ellipse cx="107.1" cy="232.7" rx="0.7" ry="0.8" fill="#f0e2f0" opacity="0.7"/>
<ellipse cx="107.6" cy="234.4" rx="0.7" ry="0.8" fill="#f0e2f0" opacity="0.7"/>
<ellipse cx="39.4" cy="231.5" rx="0.7" ry="0.8" fill="#f0e2f0" opacity="0.7"/>
<ellipse cx="106.1" cy="236.3" rx="0.9" ry="1" fill="#f0e2f0" opacity="0.7"/>
<ellipse cx="98.5" cy="245.4" rx="1" ry="0.9" fill="#f0e2f0" opacity="0.7"/>
<ellipse cx="64" cy="226.9" rx="0.9" ry="0.9" fill="#f0e2f0" opacity="0.7"/>
<ellipse cx="52.1" cy="222.7" rx="0.9" ry="1" fill="#f0e2f0" opacity="0.7"/>
<ellipse cx="88.3" cy="238.1" rx="0.8" ry="0.7" fill="#f0e2f0" opacity="0.7"/>
<ellipse cx="88.3" cy="225.6" rx="0.8" ry="0.9" fill="#f0e2f0" opacity="0.7"/>
<ellipse cx="85.5" cy="227.3" rx="0.7" ry="0.8" fill="#f0e2f0" opacity="0.7"/>
<ellipse cx="82.7" cy="254.6" rx="0.9" ry="1" fill="#f0e2f0" opacity="0.7"/>
<ellipse cx="103.5" cy="251.4" rx="0.7" ry="0.7" fill="#f0e2f0" opacity="0.7"/>
<ellipse cx="35.9" cy="231.7" rx="1" ry="0.8" fill="#f0e2f0" opacity="0.7"/>
<ellipse cx="76.6" cy="225.1" rx="0.6" ry="0.7" fill="#f0e2f0" opacity="0.7"/>
<ellipse cx="49.7" cy="217.2" rx="0.7" ry="0.7" fill="#f0e2f0" opacity="0.7"/>
<ellipse cx="78" cy="221.7" rx="0.7" ry="0.9" fill="#f0e2f0" opacity="0.7"/>
<ellipse cx="48" cy="239.7" rx="0.8" ry="0.9" fill="#f0e2f0" opacity="0.7"/>
<ellipse cx="79.6" cy="251.1" rx="0.8" ry="0.7" fill="#f0e2f0" opacity="0.7"/>
<ellipse cx="44.6" cy="218" rx="0.9" ry="0.8" fill="#f0e2f0" opacity="0.7"/>
<ellipse cx="32" cy="257.5" rx="0.7" ry="0.8" fill="#f0e2f0" opacity="0.7"/>
<ellipse cx="37" cy="234.7" rx="0.7" ry="0.8" fill="#f0e2f0" opacity="0.7"/>
<ellipse cx="80.5" cy="245.7" rx="0.9" ry="1.1" fill="#f0e2f0" opacity="0.7"/>
<ellipse cx="58.4" cy="241.9" rx="0.8" ry="0.7" fill="#f0e2f0" opacity="0.7"/>
<ellipse cx="98.5" cy="246.7" rx="0.9" ry="0.8" fill="#f0e2f0" opacity="0.7"/>
<ellipse cx="74.2" cy="238.2" rx="0.9" ry="0.7" fill="#f0e2f0" opacity="0.7"/>
<ellipse cx="58.4" cy="236.8" rx="0.6" ry="0.7" fill="#f0e2f0" opacity="0.7"/>
<ellipse cx="90.3" cy="239.7" rx="0.9" ry="0.9" fill="#f0e2f0" opacity="0.7"/>
<ellipse cx="47.6" cy="230.3" rx="1" ry="0.9" fill="#f0e2f0" opacity="0.7"/>
<ellipse cx="65.3" cy="221.2" rx="0.7" ry="0.6" fill="#f0e2f0" opacity="0.7"/>
<ellipse cx="106.3" cy="251.5" rx="0.9" ry="1.2" fill="#f0e2f0" opacity="0.7"/>
<ellipse cx="80.2" cy="256.5" rx="0.8" ry="0.8" fill="#f0e2f0" opacity="0.7"/>
<ellipse cx="107.7" cy="256.4" rx="1" ry="1" fill="#f0e2f0" opacity="0.7"/>
<ellipse cx="93.4" cy="239.9" rx="1" ry="1.2" fill="#f0e2f0" opacity="0.7"/>
<ellipse cx="53.9" cy="256.1" rx="0.7" ry="0.6" fill="#f0e2f0" opacity="0.7"/>
<ellipse cx="89.2" cy="235.2" rx="0.8" ry="0.9" fill="#f0e2f0" opacity="0.7"/>
<ellipse cx="33.3" cy="247.3" rx="0.7" ry="0.7" fill="#f0e2f0" opacity="0.7"/>
<ellipse cx="58.3" cy="247.9" rx="0.9" ry="0.8" fill="#f0e2f0" opacity="0.7"/>
<ellipse cx="38.5" cy="227.3" rx="0.8" ry="0.6" fill="#f0e2f0" opacity="0.7"/>
<ellipse cx="42.6" cy="248.4" rx="0.9" ry="1.1" fill="#f0e2f0" opacity="0.7"/>
<ellipse cx="110.3" cy="255.8" rx="0.7" ry="0.7" fill="#f0e2f0" opacity="0.7"/>
<ellipse cx="55.6" cy="235.8" rx="0.8" ry="0.8" fill="#f0e2f0" opacity="0.7"/>
<ellipse cx="59.5" cy="252.7" rx="0.7" ry="0.7" fill="#f0e2f0" opacity="0.7"/>
<ellipse cx="102.7" cy="253.4" rx="0.7" ry="0.7" fill="#f0e2f0" opacity="0.7"/>
<ellipse cx="96.1" cy="228.1" rx="0.7" ry="0.7" fill="#f0e2f0" opacity="0.7"/>
<ellipse cx="73.9" cy="226.5" rx="0.6" ry="0.6" fill="#f0e2f0" opacity="0.7"/>
<ellipse cx="93.1" cy="241.7" rx="1" ry="1.1" fill="#f0e2f0" opacity="0.7"/>
<ellipse cx="110.3" cy="233.9" rx="0.7" ry="0.5" fill="#f0e2f0" opacity="0.7"/>
<ellipse cx="65.5" cy="231.7" rx="0.6" ry="0.6" fill="#f0e2f0" opacity="0.7"/>
<ellipse cx="37.7" cy="227.8" rx="0.7" ry="0.8" fill="#f0e2f0" opacity="0.7"/>
<ellipse cx="64.3" cy="228.2" rx="0.6" ry="0.6" fill="#f0e2f0" opacity="0.7"/>
<ellipse cx="81.5" cy="247.1" rx="1" ry="1.1" fill="#f0e2f0" opacity="0.7"/>
<ellipse cx="50.3" cy="221.1" rx="0.9" ry="1" fill="#f0e2f0" opacity="0.7"/>
<ellipse cx="71.7" cy="252.3" rx="0.8" ry="0.8" fill="#f0e2f0" opacity="0.7"/>
<ellipse cx="43.8" cy="215.1" rx="0.9" ry="1" fill="#f0e2f0" opacity="0.7"/>
<ellipse cx="104.3" cy="244" rx="0.9" ry="1.1" fill="#f0e2f0" opacity="0.7"/>
<ellipse cx="96.7" cy="246.7" rx="0.8" ry="0.8" fill="#f0e2f0" opacity="0.7"/>
<ellipse cx="44" cy="222.5" rx="0.9" ry="1.1" fill="#f0e2f0" opacity="0.7"/>
<ellipse cx="74.9" cy="236.1" rx="0.7" ry="0.7" fill="#f0e2f0" opacity="0.7"/>
<ellipse cx="95.8" cy="241.8" rx="1" ry="0.9" fill="#f0e2f0" opacity="0.7"/>
<ellipse cx="55.8" cy="238.3" rx="0.8" ry="0.9" fill="#f0e2f0" opacity="0.7"/>
<ellipse cx="97.9" cy="256.9" rx="0.8" ry="0.7" fill="#f0e2f0" opacity="0.7"/>
<ellipse cx="77.1" cy="241.9" rx="0.8" ry="0.7" fill="#f0e2f0" opacity="0.7"/>
<ellipse cx="88.2" cy="256" rx="0.6" ry="0.7" fill="#f0e2f0" opacity="0.7"/>
<ellipse cx="60.4" cy="238.3" rx="1" ry="1.2" fill="#f0e2f0" opacity="0.7"/>
<ellipse cx="82.8" cy="229.9" rx="1" ry="0.9" fill="#f0e2f0" opacity="0.7"/>
<ellipse cx="61.4" cy="251.7" rx="0.7" ry="0.7" fill="#f0e2f0" opacity="0.7"/>
<ellipse cx="107.9" cy="257.5" rx="0.7" ry="0.7" fill="#f0e2f0" opacity="0.7"/>
<ellipse cx="53.1" cy="221.2" rx="0.7" ry="0.9" fill="#f0e2f0" opacity="0.7"/>
<ellipse cx="36.5" cy="224" rx="0.7" ry="0.6" fill="#f0e2f0" opacity="0.7"/>
<ellipse cx="73.2" cy="248.9" rx="0.9" ry="1" fill="#f0e2f0" opacity="0.7"/>
<ellipse cx="97.1" cy="228.3" rx="0.7" ry="0.9" fill="#f0e2f0" opacity="0.7"/>
<ellipse cx="35.7" cy="225.6" rx="0.8" ry="0.7" fill="#f0e2f0" opacity="0.7"/>
<ellipse cx="74.8" cy="222.2" rx="0.7" ry="0.9" fill="#f0e2f0" opacity="0.7"/>
<ellipse cx="41.8" cy="254.8" rx="0.7" ry="0.8" fill="#f0e2f0" opacity="0.7"/>
<ellipse cx="85.3" cy="246.6" rx="0.7" ry="0.5" fill="#f0e2f0" opacity="0.7"/>
<ellipse cx="92.3" cy="232.1" rx="0.7" ry="0.8" fill="#f0e2f0" opacity="0.7"/>
<ellipse cx="101.7" cy="231.2" rx="1" ry="1" fill="#f0e2f0" opacity="0.7"/>
<ellipse cx="61.4" cy="221.1" rx="0.8" ry="0.9" fill="#f0e2f0" opacity="0.7"/>
<ellipse cx="53" cy="221.1" rx="0.7" ry="0.6" fill="#f0e2f0" opacity="0.7"/>
<ellipse cx="58.9" cy="255.3" rx="0.6" ry="0.6" fill="#f0e2f0" opacity="0.7"/>
<ellipse cx="107" cy="258.9" rx="1" ry="0.9" fill="#f0e2f0" opacity="0.7"/>
<ellipse cx="59.1" cy="256.9" rx="0.8" ry="0.9" fill="#f0e2f0" opacity="0.7"/>
<ellipse cx="55.7" cy="216.6" rx="0.7" ry="0.8" fill="#f0e2f0" opacity="0.7"/>
<ellipse cx="94.1" cy="245.2" rx="0.8" ry="0.8" fill="#f0e2f0" opacity="0.7"/>
<ellipse cx="66.3" cy="239.9" rx="0.9" ry="0.8" fill="#f0e2f0" opacity="0.7"/>
<ellipse cx="78.7" cy="256.5" rx="0.9" ry="0.8" fill="#f0e2f0" opacity="0.7"/>
<ellipse cx="109" cy="254.8" rx="0.7" ry="0.6" fill="#f0e2f0" opacity="0.7"/>
<ellipse cx="46.6" cy="217" rx="1" ry="1" fill="#f0e2f0" opacity="0.7"/>
<ellipse cx="101.6" cy="233.1" rx="0.6" ry="0.7" fill="#f0e2f0" opacity="0.7"/>
<ellipse cx="95.1" cy="258.7" rx="0.9" ry="0.9" fill="#f0e2f0" opacity="0.7"/>
<ellipse cx="92.8" cy="229.5" rx="0.8" ry="0.8" fill="#f0e2f0" opacity="0.7"/>
<ellipse cx="42" cy="241.1" rx="0.7" ry="0.7" fill="#f0e2f0" opacity="0.7"/>
<ellipse cx="60.6" cy="229.9" rx="0.7" ry="0.8" fill="#f0e2f0" opacity="0.7"/>
<ellipse cx="110.4" cy="257.3" rx="0.9" ry="1.1" fill="#f0e2f0" opacity="0.7"/>
<ellipse cx="53.5" cy="258" rx="0.7" ry="0.6" fill="#f0e2f0" opacity="0.7"/>
<ellipse cx="71.1" cy="248.4" rx="0.7" ry="0.8" fill="#f0e2f0" opacity="0.7"/>
<ellipse cx="53.2" cy="257.6" rx="0.8" ry="0.8" fill="#f0e2f0" opacity="0.7"/>
<line x1="54" y1="237.7" x2="55" y2="240.8" stroke="#f3eaf3" stroke-width="0.8" opacity="0.8"/>
<line x1="52.5" y1="233.1" x2="51.6" y2="236" stroke="#f3eaf3" stroke-width="0.8" opacity="0.8"/>
<line x1="59.4" y1="236" x2="58.5" y2="239.7" stroke="#f3eaf3" stroke-width="0.8" opacity="0.8"/>
<line x1="51.5" y1="239.7" x2="51.3" y2="242.1" stroke="#f3eaf3" stroke-width="0.8" opacity="0.8"/>
<line x1="54.3" y1="237.9" x2="54.2" y2="241.6" stroke="#f3eaf3" stroke-width="0.8" opacity="0.8"/>
<line x1="57.1" y1="228.5" x2="56.7" y2="231.5" stroke="#f3eaf3" stroke-width="0.8" opacity="0.8"/>
<line x1="51.8" y1="228.7" x2="52.1" y2="232.5" stroke="#f3eaf3" stroke-width="0.8" opacity="0.8"/>
<path d="M30,247 C55,249 80,251 112,252.5 V256 C80,255 55,254 30,253 Z" stroke="none" stroke-width="0" fill="#d490c6" opacity="0.55"/>
<rect x="36" y="256" width="12.5" height="1.7" fill="#d2c8d2" stroke="none" stroke-width="1" />
</g></g>
<rect x="31.2" y="209.2" width="79.5" height="49.8" fill="none" stroke="#a8a8a8" stroke-width="1.3" />
<g clip-path="url(#c4)"><g filter="url(#bl)">
<rect x="111" y="208" width="82" height="52" fill="#b54f9f" stroke="none" stroke-width="1" />
<rect x="111" y="218" width="82" height="34" fill="#fff" stroke="none" stroke-width="1" filter="url(#mw)" opacity="0.22"/>
<rect x="111" y="218" width="82" height="34" fill="#000" stroke="none" stroke-width="1" filter="url(#md)" opacity="0.28"/>
<path d="M111,208 H193 L193,244 L185,236.4 L170,223.8 L150,221.4 L130,221 L111,220.6 Z" fill="#f3e3f0"/>
<ellipse cx="129.3" cy="208.6" rx="2.3" ry="1.1" fill="#c04ea0" transform="rotate(-60 129.3 208.6)"/>
<ellipse cx="143.5" cy="221.5" rx="2.6" ry="1.4" fill="#c04ea0" transform="rotate(-38 143.5 221.5)"/>
<ellipse cx="155.2" cy="211.6" rx="2.1" ry="1.1" fill="#c04ea0" transform="rotate(-39 155.2 211.6)"/>
<ellipse cx="188.8" cy="235.6" rx="3" ry="1.1" fill="#c04ea0" transform="rotate(-26 188.8 235.6)"/>
<ellipse cx="162.9" cy="219.8" rx="2.7" ry="1.4" fill="#c04ea0" transform="rotate(-57 162.9 219.8)"/>
<ellipse cx="161.1" cy="218.6" rx="2.4" ry="1.1" fill="#c04ea0" transform="rotate(-3 161.1 218.6)"/>
<ellipse cx="116.7" cy="221.2" rx="2.7" ry="1.3" fill="#c04ea0" transform="rotate(-27 116.7 221.2)"/>
<ellipse cx="187.2" cy="225.9" rx="3" ry="1.3" fill="#c04ea0" transform="rotate(-12 187.2 225.9)"/>
<ellipse cx="160.5" cy="214.4" rx="2.1" ry="1.2" fill="#c04ea0" transform="rotate(43 160.5 214.4)"/>
<ellipse cx="112.7" cy="207.7" rx="2.5" ry="1.1" fill="#c04ea0" transform="rotate(4 112.7 207.7)"/>
<ellipse cx="149.5" cy="212.4" rx="2.8" ry="1.1" fill="#c04ea0" transform="rotate(-12 149.5 212.4)"/>
<ellipse cx="126.4" cy="216.8" rx="2.2" ry="1.2" fill="#c04ea0" transform="rotate(34 126.4 216.8)"/>
<ellipse cx="136.6" cy="215.7" rx="2.7" ry="1.1" fill="#c04ea0" transform="rotate(-61 136.6 215.7)"/>
<ellipse cx="128.7" cy="218.8" rx="2.5" ry="1.1" fill="#c04ea0" transform="rotate(-23 128.7 218.8)"/>
<ellipse cx="124.3" cy="214.1" rx="2" ry="1.3" fill="#c04ea0" transform="rotate(55 124.3 214.1)"/>
<ellipse cx="191.1" cy="234" rx="2.2" ry="1.1" fill="#c04ea0" transform="rotate(65 191.1 234)"/>
<ellipse cx="175.7" cy="216.5" rx="2.8" ry="1.4" fill="#c04ea0" transform="rotate(-28 175.7 216.5)"/>
<ellipse cx="125.5" cy="213.8" rx="2.1" ry="1.2" fill="#c04ea0" transform="rotate(64 125.5 213.8)"/>
<ellipse cx="137.5" cy="207.1" rx="2" ry="1.1" fill="#c04ea0" transform="rotate(39 137.5 207.1)"/>
<ellipse cx="140.2" cy="211.6" rx="2.1" ry="1.5" fill="#c04ea0" transform="rotate(-10 140.2 211.6)"/>
<ellipse cx="126.9" cy="207.9" rx="2" ry="1.1" fill="#c04ea0" transform="rotate(24 126.9 207.9)"/>
<ellipse cx="121.9" cy="207.6" rx="2.4" ry="1.1" fill="#c04ea0" transform="rotate(69 121.9 207.6)"/>
<ellipse cx="119.5" cy="215.1" rx="2.6" ry="1.2" fill="#c04ea0" transform="rotate(68 119.5 215.1)"/>
<ellipse cx="150.1" cy="210.8" rx="2.3" ry="1" fill="#c04ea0" transform="rotate(-11 150.1 210.8)"/>
<ellipse cx="130.4" cy="220.8" rx="2.7" ry="1.2" fill="#c04ea0" transform="rotate(-65 130.4 220.8)"/>
<ellipse cx="130.9" cy="210.8" rx="2.2" ry="1.1" fill="#c04ea0" transform="rotate(51 130.9 210.8)"/>
<ellipse cx="121.2" cy="207.8" rx="2.7" ry="1.3" fill="#c04ea0" transform="rotate(68 121.2 207.8)"/>
<ellipse cx="143.7" cy="221.2" rx="2.5" ry="1.4" fill="#c04ea0" transform="rotate(34 143.7 221.2)"/>
<ellipse cx="151.5" cy="208.5" rx="2.2" ry="1.4" fill="#c04ea0" transform="rotate(55 151.5 208.5)"/>
<ellipse cx="188.5" cy="218.5" rx="3" ry="1.3" fill="#c04ea0" transform="rotate(44 188.5 218.5)"/>
<ellipse cx="154.4" cy="217.8" rx="2.5" ry="1.1" fill="#c04ea0" transform="rotate(59 154.4 217.8)"/>
<ellipse cx="191.2" cy="209.7" rx="3.2" ry="1.3" fill="#c04ea0" transform="rotate(-63 191.2 209.7)"/>
<ellipse cx="186.3" cy="211.1" rx="2.9" ry="1" fill="#c04ea0" transform="rotate(-46 186.3 211.1)"/>
<ellipse cx="163.6" cy="217" rx="2.6" ry="1.5" fill="#c04ea0" transform="rotate(-39 163.6 217)"/>
<ellipse cx="109.3" cy="220.9" rx="2" ry="1.4" fill="#c04ea0" transform="rotate(-53 109.3 220.9)"/>
<ellipse cx="178.6" cy="227" rx="2.8" ry="1.4" fill="#c04ea0" transform="rotate(-41 178.6 227)"/>
<ellipse cx="166.7" cy="212.9" rx="3" ry="1.2" fill="#c04ea0" transform="rotate(3 166.7 212.9)"/>
<ellipse cx="111.3" cy="207.5" rx="2.5" ry="1.2" fill="#c04ea0" transform="rotate(51 111.3 207.5)"/>
<ellipse cx="161.3" cy="209.4" rx="2.3" ry="1.4" fill="#c04ea0" transform="rotate(3 161.3 209.4)"/>
<ellipse cx="109.9" cy="219.6" rx="2.7" ry="1" fill="#c04ea0" transform="rotate(6 109.9 219.6)"/>
<ellipse cx="141.8" cy="219.4" rx="2.2" ry="1.1" fill="#c04ea0" transform="rotate(-1 141.8 219.4)"/>
<ellipse cx="162.4" cy="222.4" rx="2.4" ry="1.2" fill="#c04ea0" transform="rotate(50 162.4 222.4)"/>
<ellipse cx="175.8" cy="208.5" rx="2.4" ry="1.2" fill="#c04ea0" transform="rotate(47 175.8 208.5)"/>
<ellipse cx="145.3" cy="219.6" rx="2.1" ry="1.4" fill="#c04ea0" transform="rotate(-45 145.3 219.6)"/>
<ellipse cx="121.8" cy="214.6" rx="2.3" ry="1.3" fill="#c04ea0" transform="rotate(56 121.8 214.6)"/>
<ellipse cx="155.9" cy="215.1" rx="2.6" ry="1.2" fill="#c04ea0" transform="rotate(-59 155.9 215.1)"/>
<ellipse cx="130.1" cy="220.1" rx="2.3" ry="1.4" fill="#c04ea0" transform="rotate(68 130.1 220.1)"/>
<ellipse cx="162.9" cy="218.8" rx="2.5" ry="1.2" fill="#c04ea0" transform="rotate(57 162.9 218.8)"/>
<ellipse cx="149.2" cy="221.5" rx="2.2" ry="1.4" fill="#c04ea0" transform="rotate(40 149.2 221.5)"/>
<ellipse cx="161.7" cy="214.7" rx="2.1" ry="1.4" fill="#c04ea0" transform="rotate(-19 161.7 214.7)"/>
<ellipse cx="121.4" cy="219.4" rx="2.1" ry="1.5" fill="#c04ea0" transform="rotate(-17 121.4 219.4)"/>
<ellipse cx="158.5" cy="212.9" rx="2.5" ry="1" fill="#c04ea0" transform="rotate(-13 158.5 212.9)"/>
<ellipse cx="189.5" cy="213.3" rx="2.5" ry="1.2" fill="#c04ea0" transform="rotate(-66 189.5 213.3)"/>
<ellipse cx="110.7" cy="221.3" rx="2.7" ry="1.4" fill="#c04ea0" transform="rotate(43 110.7 221.3)"/>
<ellipse cx="191" cy="212.8" rx="2.7" ry="1.3" fill="#c04ea0" transform="rotate(61 191 212.8)"/>
<ellipse cx="165" cy="219" rx="2.8" ry="1.4" fill="#c04ea0" transform="rotate(-27 165 219)"/>
<ellipse cx="188.8" cy="221" rx="3.1" ry="1.4" fill="#c04ea0" transform="rotate(-26 188.8 221)"/>
<ellipse cx="128.8" cy="212.1" rx="2.5" ry="1.5" fill="#c04ea0" transform="rotate(55 128.8 212.1)"/>
<ellipse cx="143.4" cy="213.3" rx="2.7" ry="1.1" fill="#c04ea0" transform="rotate(-12 143.4 213.3)"/>
<ellipse cx="110.1" cy="209.8" rx="2.4" ry="1.3" fill="#c04ea0" transform="rotate(16 110.1 209.8)"/>
<ellipse cx="140.3" cy="221.9" rx="2.5" ry="1.1" fill="#c04ea0" transform="rotate(-60 140.3 221.9)"/>
<ellipse cx="192.7" cy="244.8" rx="2.8" ry="1.2" fill="#c04ea0" transform="rotate(-57 192.7 244.8)"/>
<ellipse cx="131.2" cy="210.4" rx="2.7" ry="1.4" fill="#c04ea0" transform="rotate(38 131.2 210.4)"/>
<ellipse cx="121.8" cy="210.7" rx="2.2" ry="1.5" fill="#c04ea0" transform="rotate(-47 121.8 210.7)"/>
<ellipse cx="177" cy="223.4" rx="3.2" ry="1.1" fill="#c04ea0" transform="rotate(3 177 223.4)"/>
<ellipse cx="122.5" cy="208.5" rx="2" ry="1.2" fill="#c04ea0" transform="rotate(-52 122.5 208.5)"/>
<ellipse cx="114.3" cy="222.1" rx="2.2" ry="1.4" fill="#c04ea0" transform="rotate(28 114.3 222.1)"/>
<ellipse cx="171.9" cy="220" rx="3.1" ry="1.4" fill="#c04ea0" transform="rotate(8 171.9 220)"/>
<ellipse cx="168.7" cy="220.1" rx="2.7" ry="1.1" fill="#c04ea0" transform="rotate(48 168.7 220.1)"/>
<ellipse cx="150.6" cy="208.1" rx="2.1" ry="1.4" fill="#c04ea0" transform="rotate(-34 150.6 208.1)"/>
<ellipse cx="142.7" cy="217.7" rx="2.7" ry="1.2" fill="#c04ea0" transform="rotate(-15 142.7 217.7)"/>
<ellipse cx="145.4" cy="207.4" rx="2.7" ry="1" fill="#c04ea0" transform="rotate(64 145.4 207.4)"/>
<ellipse cx="122.1" cy="209.4" rx="2.7" ry="1.4" fill="#c04ea0" transform="rotate(-37 122.1 209.4)"/>
<ellipse cx="156.6" cy="215" rx="2.6" ry="1.1" fill="#c04ea0" transform="rotate(45 156.6 215)"/>
<ellipse cx="194.7" cy="234.2" rx="3.1" ry="1.2" fill="#c04ea0" transform="rotate(48 194.7 234.2)"/>
<ellipse cx="162.3" cy="222.8" rx="2.2" ry="1.3" fill="#c04ea0" transform="rotate(55 162.3 222.8)"/>
<ellipse cx="160.6" cy="207.6" rx="2.5" ry="1.1" fill="#c04ea0" transform="rotate(50 160.6 207.6)"/>
<ellipse cx="165.9" cy="212.5" rx="2.8" ry="1.2" fill="#c04ea0" transform="rotate(46 165.9 212.5)"/>
<ellipse cx="185.7" cy="235.2" rx="2.9" ry="1.3" fill="#c04ea0" transform="rotate(14 185.7 235.2)"/>
<ellipse cx="154.3" cy="223.2" rx="2.3" ry="1" fill="#c04ea0" transform="rotate(29 154.3 223.2)"/>
<ellipse cx="151.8" cy="215.8" rx="2.5" ry="1.1" fill="#c04ea0" transform="rotate(-41 151.8 215.8)"/>
<ellipse cx="115.1" cy="218.9" rx="2.7" ry="1.3" fill="#c04ea0" transform="rotate(-53 115.1 218.9)"/>
<ellipse cx="193.2" cy="238.8" rx="2.2" ry="1.4" fill="#c04ea0" transform="rotate(17 193.2 238.8)"/>
<ellipse cx="162.5" cy="207.3" rx="2.6" ry="1" fill="#c04ea0" transform="rotate(-3 162.5 207.3)"/>
<ellipse cx="121.5" cy="212.5" rx="2.7" ry="1.4" fill="#c04ea0" transform="rotate(44 121.5 212.5)"/>
<ellipse cx="134.6" cy="213.1" rx="2.5" ry="1" fill="#c04ea0" transform="rotate(-12 134.6 213.1)"/>
<ellipse cx="192.8" cy="235.9" rx="2.5" ry="1.3" fill="#c04ea0" transform="rotate(40 192.8 235.9)"/>
<ellipse cx="110.5" cy="220.4" rx="2.7" ry="1.1" fill="#c04ea0" transform="rotate(35 110.5 220.4)"/>
<ellipse cx="144" cy="216.9" rx="2.7" ry="1.2" fill="#c04ea0" transform="rotate(16 144 216.9)"/>
<ellipse cx="131" cy="214.9" rx="2" ry="1.1" fill="#c04ea0" transform="rotate(-29 131 214.9)"/>
<ellipse cx="187.6" cy="211.4" rx="2.3" ry="1.5" fill="#c04ea0" transform="rotate(-46 187.6 211.4)"/>
<ellipse cx="116.9" cy="210.2" rx="2.7" ry="1.3" fill="#c04ea0" transform="rotate(54 116.9 210.2)"/>
<ellipse cx="151.9" cy="208.8" rx="2.3" ry="1.2" fill="#c04ea0" transform="rotate(68 151.9 208.8)"/>
<ellipse cx="123.3" cy="210.8" rx="2.7" ry="1.1" fill="#c04ea0" transform="rotate(65 123.3 210.8)"/>
<ellipse cx="134.5" cy="215.8" rx="2.5" ry="1.5" fill="#c04ea0" transform="rotate(-59 134.5 215.8)"/>
<ellipse cx="181.8" cy="212.1" rx="2.2" ry="1.4" fill="#c04ea0" transform="rotate(-44 181.8 212.1)"/>
<ellipse cx="126.7" cy="207.5" rx="2.3" ry="1.2" fill="#c04ea0" transform="rotate(67 126.7 207.5)"/>
<ellipse cx="161.2" cy="213.3" rx="2.8" ry="1.1" fill="#c04ea0" transform="rotate(-39 161.2 213.3)"/>
<ellipse cx="191.2" cy="242" rx="3.2" ry="1" fill="#c04ea0" transform="rotate(56 191.2 242)"/>
<ellipse cx="169.6" cy="219.2" rx="2.3" ry="1.1" fill="#c04ea0" transform="rotate(-50 169.6 219.2)"/>
<ellipse cx="150.2" cy="215.7" rx="2.4" ry="1.2" fill="#c04ea0" transform="rotate(34 150.2 215.7)"/>
<ellipse cx="122.2" cy="210.4" rx="2.2" ry="1.3" fill="#c04ea0" transform="rotate(-42 122.2 210.4)"/>
<ellipse cx="162.7" cy="213" rx="2.3" ry="1.4" fill="#c04ea0" transform="rotate(62 162.7 213)"/>
<ellipse cx="125.4" cy="212.4" rx="2.8" ry="1.1" fill="#c04ea0" transform="rotate(-66 125.4 212.4)"/>
<ellipse cx="125.4" cy="219.7" rx="2.6" ry="1.5" fill="#c04ea0" transform="rotate(0 125.4 219.7)"/>
<ellipse cx="112.6" cy="211.6" rx="2.6" ry="1.2" fill="#c04ea0" transform="rotate(-50 112.6 211.6)"/>
<ellipse cx="141.3" cy="214.3" rx="2.3" ry="1.2" fill="#c04ea0" transform="rotate(-50 141.3 214.3)"/>
<ellipse cx="111.6" cy="218.8" rx="2.6" ry="1.2" fill="#c04ea0" transform="rotate(-53 111.6 218.8)"/>
<ellipse cx="134.4" cy="215.7" rx="2.7" ry="1.2" fill="#c04ea0" transform="rotate(66 134.4 215.7)"/>
<ellipse cx="154.3" cy="210" rx="2.5" ry="1.3" fill="#c04ea0" transform="rotate(13 154.3 210)"/>
<ellipse cx="171.3" cy="207.4" rx="3" ry="1.1" fill="#c04ea0" transform="rotate(-64 171.3 207.4)"/>
<ellipse cx="124.7" cy="211.4" rx="2.3" ry="1.2" fill="#c04ea0" transform="rotate(18 124.7 211.4)"/>
<ellipse cx="123.6" cy="212.3" rx="2.5" ry="1.3" fill="#c04ea0" transform="rotate(64 123.6 212.3)"/>
<ellipse cx="155.2" cy="216" rx="2.3" ry="1.4" fill="#c04ea0" transform="rotate(-42 155.2 216)"/>
<ellipse cx="149.5" cy="208.9" rx="2.7" ry="1.3" fill="#c04ea0" transform="rotate(68 149.5 208.9)"/>
<ellipse cx="121.3" cy="217.9" rx="2.5" ry="1" fill="#c04ea0" transform="rotate(44 121.3 217.9)"/>
<ellipse cx="184.2" cy="209.4" rx="3" ry="1.3" fill="#c04ea0" transform="rotate(6 184.2 209.4)"/>
<ellipse cx="131.6" cy="207.9" rx="2.4" ry="1.4" fill="#c04ea0" transform="rotate(-40 131.6 207.9)"/>
<ellipse cx="149.6" cy="211.5" rx="2.6" ry="1.5" fill="#c04ea0" transform="rotate(54 149.6 211.5)"/>
<ellipse cx="133.8" cy="213.5" rx="2" ry="1.3" fill="#c04ea0" transform="rotate(49 133.8 213.5)"/>
<ellipse cx="181.7" cy="209" rx="2.3" ry="1.2" fill="#c04ea0" transform="rotate(57 181.7 209)"/>
<ellipse cx="133.4" cy="220.2" rx="2.8" ry="1.4" fill="#c04ea0" transform="rotate(-41 133.4 220.2)"/>
<ellipse cx="188" cy="238.1" rx="2.2" ry="1" fill="#c04ea0" transform="rotate(-29 188 238.1)"/>
<ellipse cx="153.5" cy="213.9" rx="2.1" ry="1.3" fill="#c04ea0" transform="rotate(23 153.5 213.9)"/>
<ellipse cx="163.2" cy="215.9" rx="2.4" ry="1.3" fill="#c04ea0" transform="rotate(-60 163.2 215.9)"/>
<ellipse cx="146.5" cy="209.1" rx="2.1" ry="1.4" fill="#c04ea0" transform="rotate(-24 146.5 209.1)"/>
<ellipse cx="138.2" cy="211.3" rx="2.5" ry="1.1" fill="#c04ea0" transform="rotate(19 138.2 211.3)"/>
<ellipse cx="115.1" cy="221.5" rx="2.1" ry="1.4" fill="#c04ea0" transform="rotate(6 115.1 221.5)"/>
<ellipse cx="145.5" cy="211.8" rx="2.3" ry="1.4" fill="#c04ea0" transform="rotate(3 145.5 211.8)"/>
<ellipse cx="155.1" cy="211.1" rx="2.5" ry="1.1" fill="#c04ea0" transform="rotate(-2 155.1 211.1)"/>
<ellipse cx="165" cy="216.6" rx="2.8" ry="1.1" fill="#c04ea0" transform="rotate(64 165 216.6)"/>
<ellipse cx="167.8" cy="220.1" rx="2.7" ry="1.2" fill="#c04ea0" transform="rotate(-27 167.8 220.1)"/>
<ellipse cx="136.2" cy="211.7" rx="2.3" ry="1.1" fill="#c04ea0" transform="rotate(-2 136.2 211.7)"/>
<ellipse cx="134.1" cy="212.7" rx="2.5" ry="1.2" fill="#c04ea0" transform="rotate(50 134.1 212.7)"/>
<ellipse cx="177.6" cy="215.1" rx="2.4" ry="1" fill="#c04ea0" transform="rotate(69 177.6 215.1)"/>
<ellipse cx="111.8" cy="207.1" rx="2.7" ry="1" fill="#c04ea0" transform="rotate(21 111.8 207.1)"/>
<ellipse cx="156.8" cy="210.7" rx="2.2" ry="1.5" fill="#c04ea0" transform="rotate(-14 156.8 210.7)"/>
<ellipse cx="129.8" cy="213.8" rx="2.6" ry="1.1" fill="#c04ea0" transform="rotate(-57 129.8 213.8)"/>
<ellipse cx="109.4" cy="222" rx="2.3" ry="1.4" fill="#c04ea0" transform="rotate(8 109.4 222)"/>
<ellipse cx="167.7" cy="207" rx="3" ry="1.3" fill="#c04ea0" transform="rotate(-1 167.7 207)"/>
<ellipse cx="189.6" cy="222.3" rx="2.6" ry="1" fill="#c04ea0" transform="rotate(-15 189.6 222.3)"/>
<ellipse cx="127.1" cy="207.4" rx="2.2" ry="1.1" fill="#c04ea0" transform="rotate(-6 127.1 207.4)"/>
<ellipse cx="172.4" cy="222.4" rx="2.5" ry="1.3" fill="#c04ea0" transform="rotate(54 172.4 222.4)"/>
<ellipse cx="143" cy="221.4" rx="2.1" ry="1.5" fill="#c04ea0" transform="rotate(53 143 221.4)"/>
<ellipse cx="193.3" cy="239" rx="2.6" ry="1.4" fill="#c04ea0" transform="rotate(52 193.3 239)"/>
<ellipse cx="158.5" cy="217.5" rx="2.7" ry="1.1" fill="#c04ea0" transform="rotate(-23 158.5 217.5)"/>
<ellipse cx="112.1" cy="220.3" rx="2.5" ry="1.3" fill="#c04ea0" transform="rotate(-36 112.1 220.3)"/>
<ellipse cx="124.9" cy="214.4" rx="2.7" ry="1.2" fill="#c04ea0" transform="rotate(-10 124.9 214.4)"/>
<ellipse cx="144.9" cy="220.3" rx="2.1" ry="1.4" fill="#c04ea0" transform="rotate(-68 144.9 220.3)"/>
<ellipse cx="169.1" cy="220.9" rx="2.9" ry="1.1" fill="#c04ea0" transform="rotate(-50 169.1 220.9)"/>
<ellipse cx="140" cy="211.2" rx="2.6" ry="1.3" fill="#c04ea0" transform="rotate(22 140 211.2)"/>
<ellipse cx="192.9" cy="236.7" rx="3.2" ry="1.5" fill="#c04ea0" transform="rotate(33 192.9 236.7)"/>
<ellipse cx="138.9" cy="215" rx="2.6" ry="1.4" fill="#c04ea0" transform="rotate(55 138.9 215)"/>
<ellipse cx="162.5" cy="210.3" rx="2.5" ry="1.1" fill="#c04ea0" transform="rotate(-67 162.5 210.3)"/>
<ellipse cx="112.9" cy="219.4" rx="2.6" ry="1.1" fill="#c04ea0" transform="rotate(44 112.9 219.4)"/>
<ellipse cx="113.9" cy="208" rx="2.4" ry="1.4" fill="#c04ea0" transform="rotate(19 113.9 208)"/>
<ellipse cx="128.3" cy="219.3" rx="2.1" ry="1.3" fill="#c04ea0" transform="rotate(-45 128.3 219.3)"/>
<ellipse cx="109.5" cy="209.9" rx="2.6" ry="1.1" fill="#c04ea0" transform="rotate(-68 109.5 209.9)"/>
<ellipse cx="150.5" cy="212.6" rx="2.5" ry="1.3" fill="#c04ea0" transform="rotate(29 150.5 212.6)"/>
<ellipse cx="187.7" cy="218.3" rx="2.3" ry="1.1" fill="#c04ea0" transform="rotate(-56 187.7 218.3)"/>
<ellipse cx="183.1" cy="216.9" rx="3.1" ry="1.2" fill="#c04ea0" transform="rotate(-41 183.1 216.9)"/>
<ellipse cx="130.3" cy="214.6" rx="2.3" ry="1" fill="#c04ea0" transform="rotate(49 130.3 214.6)"/>
<ellipse cx="164" cy="222.3" rx="2.7" ry="1.4" fill="#c04ea0" transform="rotate(45 164 222.3)"/>
<ellipse cx="169.5" cy="214.8" rx="3.1" ry="1.1" fill="#c04ea0" transform="rotate(-49 169.5 214.8)"/>
<ellipse cx="123.6" cy="214" rx="2.7" ry="1.3" fill="#c04ea0" transform="rotate(49 123.6 214)"/>
<ellipse cx="140.5" cy="215.9" rx="2.2" ry="1.3" fill="#c04ea0" transform="rotate(-32 140.5 215.9)"/>
<ellipse cx="109.6" cy="213" rx="2.5" ry="1.4" fill="#c04ea0" transform="rotate(-29 109.6 213)"/>
<ellipse cx="176" cy="228.8" rx="2.9" ry="1.2" fill="#c04ea0" transform="rotate(6 176 228.8)"/>
<ellipse cx="165" cy="217.8" rx="2.2" ry="1.4" fill="#c04ea0" transform="rotate(5 165 217.8)"/>
<ellipse cx="115.1" cy="211.7" rx="2.1" ry="1.2" fill="#c04ea0" transform="rotate(-56 115.1 211.7)"/>
<ellipse cx="154.6" cy="211.6" rx="2.7" ry="1.4" fill="#c04ea0" transform="rotate(-43 154.6 211.6)"/>
<ellipse cx="187.4" cy="207.2" rx="2.8" ry="1.1" fill="#c04ea0" transform="rotate(-1 187.4 207.2)"/>
<ellipse cx="185" cy="217.6" rx="2.4" ry="1.5" fill="#c04ea0" transform="rotate(64 185 217.6)"/>
<ellipse cx="123.2" cy="218.7" rx="2.3" ry="1" fill="#c04ea0" transform="rotate(-40 123.2 218.7)"/>
<ellipse cx="171.7" cy="216.2" rx="2.3" ry="1.1" fill="#c04ea0" transform="rotate(-18 171.7 216.2)"/>
<ellipse cx="153.2" cy="220.4" rx="2.4" ry="1.2" fill="#c04ea0" transform="rotate(57 153.2 220.4)"/>
<ellipse cx="168.4" cy="220.7" rx="2.7" ry="1.1" fill="#c04ea0" transform="rotate(-54 168.4 220.7)"/>
<ellipse cx="165.5" cy="220.3" rx="3.1" ry="1.3" fill="#c04ea0" transform="rotate(-1 165.5 220.3)"/>
<ellipse cx="192" cy="210.2" rx="2.7" ry="1.3" fill="#c04ea0" transform="rotate(15 192 210.2)"/>
<ellipse cx="122.6" cy="214.8" rx="2.1" ry="1.2" fill="#c04ea0" transform="rotate(-44 122.6 214.8)"/>
<ellipse cx="136.5" cy="216.8" rx="2.3" ry="1.1" fill="#c04ea0" transform="rotate(-4 136.5 216.8)"/>
<ellipse cx="146.5" cy="218" rx="2" ry="1.3" fill="#c04ea0" transform="rotate(-62 146.5 218)"/>
<ellipse cx="185.5" cy="213" rx="2.2" ry="1.2" fill="#c04ea0" transform="rotate(-34 185.5 213)"/>
<ellipse cx="113.4" cy="218.1" rx="2.3" ry="1.2" fill="#c04ea0" transform="rotate(-21 113.4 218.1)"/>
<ellipse cx="140.5" cy="216.1" rx="2.3" ry="1.1" fill="#c04ea0" transform="rotate(-3 140.5 216.1)"/>
<ellipse cx="194" cy="236.5" rx="3.1" ry="1.2" fill="#c04ea0" transform="rotate(-19 194 236.5)"/>
<ellipse cx="177.2" cy="209.5" rx="2.3" ry="1.3" fill="#c04ea0" transform="rotate(1 177.2 209.5)"/>
<ellipse cx="175.4" cy="208.4" rx="3" ry="1" fill="#c04ea0" transform="rotate(25 175.4 208.4)"/>
<ellipse cx="133.1" cy="218.6" rx="2.8" ry="1" fill="#c04ea0" transform="rotate(-13 133.1 218.6)"/>
<ellipse cx="151.9" cy="222.8" rx="2.7" ry="1" fill="#c04ea0" transform="rotate(-50 151.9 222.8)"/>
<ellipse cx="144.1" cy="219.7" rx="2.6" ry="1.3" fill="#c04ea0" transform="rotate(58 144.1 219.7)"/>
<ellipse cx="179.5" cy="230.1" rx="2.5" ry="1.4" fill="#c04ea0" transform="rotate(30 179.5 230.1)"/>
<ellipse cx="138.3" cy="211" rx="2.3" ry="1" fill="#c04ea0" transform="rotate(15 138.3 211)"/>
<ellipse cx="145.8" cy="211.2" rx="2.1" ry="1.3" fill="#c04ea0" transform="rotate(-56 145.8 211.2)"/>
<ellipse cx="183" cy="215.1" rx="2.3" ry="1.2" fill="#c04ea0" transform="rotate(38 183 215.1)"/>
<ellipse cx="153.9" cy="214.3" rx="2.7" ry="1.1" fill="#c04ea0" transform="rotate(49 153.9 214.3)"/>
<ellipse cx="153.3" cy="211.7" rx="2.3" ry="1.1" fill="#c04ea0" transform="rotate(18 153.3 211.7)"/>
<ellipse cx="146.9" cy="215.2" rx="2.5" ry="1.4" fill="#c04ea0" transform="rotate(27 146.9 215.2)"/>
<ellipse cx="134.4" cy="217.4" rx="2.6" ry="1.5" fill="#c04ea0" transform="rotate(-15 134.4 217.4)"/>
<ellipse cx="154.8" cy="219.5" rx="2.3" ry="1.2" fill="#c04ea0" transform="rotate(16 154.8 219.5)"/>
<ellipse cx="141.1" cy="220.3" rx="2.3" ry="1.1" fill="#c04ea0" transform="rotate(15 141.1 220.3)"/>
<ellipse cx="160.5" cy="224" rx="2.8" ry="1.2" fill="#c04ea0" transform="rotate(-7 160.5 224)"/>
<ellipse cx="165.1" cy="215.9" rx="2.6" ry="1.4" fill="#c04ea0" transform="rotate(54 165.1 215.9)"/>
<ellipse cx="177" cy="225.1" rx="2.5" ry="1.5" fill="#c04ea0" transform="rotate(-41 177 225.1)"/>
<ellipse cx="117.7" cy="214.5" rx="2.1" ry="1.1" fill="#c04ea0" transform="rotate(14 117.7 214.5)"/>
<ellipse cx="121.8" cy="213.1" rx="2.3" ry="1.5" fill="#c04ea0" transform="rotate(-59 121.8 213.1)"/>
<ellipse cx="152.8" cy="214.6" rx="2.1" ry="1.2" fill="#c04ea0" transform="rotate(-19 152.8 214.6)"/>
<ellipse cx="139.8" cy="215.7" rx="2.4" ry="1.2" fill="#c04ea0" transform="rotate(-8 139.8 215.7)"/>
<ellipse cx="161.4" cy="215.4" rx="2.1" ry="1.3" fill="#c04ea0" transform="rotate(-12 161.4 215.4)"/>
<ellipse cx="182.3" cy="210.8" rx="2.5" ry="1.3" fill="#c04ea0" transform="rotate(44 182.3 210.8)"/>
<ellipse cx="164.9" cy="217.1" rx="2.7" ry="1.1" fill="#c04ea0" transform="rotate(69 164.9 217.1)"/>
<ellipse cx="146.7" cy="217" rx="2.1" ry="1" fill="#c04ea0" transform="rotate(-47 146.7 217)"/>
<ellipse cx="155.7" cy="211" rx="2.6" ry="1.1" fill="#c04ea0" transform="rotate(22 155.7 211)"/>
<ellipse cx="186.4" cy="229.3" rx="3" ry="1.4" fill="#c04ea0" transform="rotate(-64 186.4 229.3)"/>
<ellipse cx="152.9" cy="211.9" rx="2.4" ry="1.4" fill="#c04ea0" transform="rotate(32 152.9 211.9)"/>
<ellipse cx="126.6" cy="209.6" rx="2.1" ry="1.4" fill="#c04ea0" transform="rotate(45 126.6 209.6)"/>
<ellipse cx="116.9" cy="209.1" rx="2.1" ry="1.5" fill="#c04ea0" transform="rotate(-60 116.9 209.1)"/>
<ellipse cx="158.5" cy="221.8" rx="2.1" ry="1.3" fill="#c04ea0" transform="rotate(-22 158.5 221.8)"/>
<ellipse cx="164.1" cy="215.2" rx="2.1" ry="1.4" fill="#c04ea0" transform="rotate(0 164.1 215.2)"/>
<ellipse cx="193.5" cy="229.9" rx="2.9" ry="1" fill="#c04ea0" transform="rotate(-69 193.5 229.9)"/>
<ellipse cx="194.3" cy="232.6" rx="3" ry="1.2" fill="#c04ea0" transform="rotate(28 194.3 232.6)"/>
<ellipse cx="164.7" cy="208.1" rx="2.4" ry="1.5" fill="#c04ea0" transform="rotate(7 164.7 208.1)"/>
<ellipse cx="176.7" cy="208.6" rx="2.7" ry="1.3" fill="#c04ea0" transform="rotate(48 176.7 208.6)"/>
<ellipse cx="151.2" cy="216.1" rx="2.4" ry="1.3" fill="#c04ea0" transform="rotate(11 151.2 216.1)"/>
<ellipse cx="143" cy="211.5" rx="2.7" ry="1.2" fill="#c04ea0" transform="rotate(29 143 211.5)"/>
<ellipse cx="132.3" cy="222.4" rx="2.2" ry="1.2" fill="#c04ea0" transform="rotate(-18 132.3 222.4)"/>
<ellipse cx="129.9" cy="218.5" rx="2.4" ry="1.1" fill="#c04ea0" transform="rotate(-53 129.9 218.5)"/>
<ellipse cx="171" cy="219.7" rx="2.3" ry="1.2" fill="#c04ea0" transform="rotate(-49 171 219.7)"/>
<ellipse cx="158" cy="210.9" rx="2.2" ry="1.3" fill="#c04ea0" transform="rotate(-47 158 210.9)"/>
<ellipse cx="176.4" cy="220.3" rx="3.1" ry="1.5" fill="#c04ea0" transform="rotate(-57 176.4 220.3)"/>
<ellipse cx="142.8" cy="214.2" rx="2.2" ry="1.4" fill="#c04ea0" transform="rotate(-14 142.8 214.2)"/>
<ellipse cx="188.8" cy="209.4" rx="2.8" ry="1.4" fill="#c04ea0" transform="rotate(-2 188.8 209.4)"/>
<ellipse cx="186.3" cy="216.6" rx="2.4" ry="1.1" fill="#c04ea0" transform="rotate(-1 186.3 216.6)"/>
<ellipse cx="171.9" cy="210.8" rx="2.6" ry="1.5" fill="#c04ea0" transform="rotate(-1 171.9 210.8)"/>
<ellipse cx="178.6" cy="213" rx="2.2" ry="1.1" fill="#c04ea0" transform="rotate(18 178.6 213)"/>
<ellipse cx="154.6" cy="215.7" rx="2.5" ry="1.2" fill="#c04ea0" transform="rotate(22 154.6 215.7)"/>
<ellipse cx="143.1" cy="216.2" rx="2.6" ry="1.2" fill="#c04ea0" transform="rotate(36 143.1 216.2)"/>
<ellipse cx="145.7" cy="209.6" rx="2.1" ry="1.2" fill="#c04ea0" transform="rotate(38 145.7 209.6)"/>
<path d="M111,248.2 C140,250 170,253 193,255.3 V260 H111 Z" fill="#e176bb"/>
<path d="M111,252 C125,253 135,255 150,258 V260 H111 Z" fill="#eea6d4" opacity="0.7"/>
<rect x="113" y="256.5" width="15" height="1.6" fill="#e8e0e8" stroke="none" stroke-width="1" />
</g></g>
<rect x="112.2" y="209.2" width="79" height="49.8" fill="none" stroke="#a8a8a8" stroke-width="1.3" />
<text x="202.3" y="145" font-size="11.5" text-anchor="start" fill="#000" font-weight="bold" >D</text>
<text x="204.6" y="209" font-size="9.5" text-anchor="middle" fill="#111" stroke="#111" stroke-width="0.1" textLength="52.5" lengthAdjust="spacingAndGlyphs" transform="rotate(-90 204.6 209)" >Pathology score</text>
<text x="254.5" y="148.7" font-size="10.5" text-anchor="middle" fill="#111" textLength="24.7" lengthAdjust="spacingAndGlyphs" >Colon</text>
<line x1="223.2" y1="162" x2="223.2" y2="252" stroke="#303030" stroke-width="1.6" />
<line x1="220.8" y1="252" x2="223.2" y2="252" stroke="#303030" stroke-width="1.1" />
<text x="218.2" y="255.2" font-size="9" text-anchor="end" fill="#111" stroke="#111" stroke-width="0.1" textLength="4.4" lengthAdjust="spacingAndGlyphs" >0</text>
<line x1="220.8" y1="229.5" x2="223.2" y2="229.5" stroke="#303030" stroke-width="1.1" />
<text x="218.2" y="232.7" font-size="9" text-anchor="end" fill="#111" stroke="#111" stroke-width="0.1" textLength="4.4" lengthAdjust="spacingAndGlyphs" >5</text>
<line x1="220.8" y1="207" x2="223.2" y2="207" stroke="#303030" stroke-width="1.1" />
<text x="218.2" y="210.2" font-size="9" text-anchor="end" fill="#111" stroke="#111" stroke-width="0.1" textLength="8.8" lengthAdjust="spacingAndGlyphs" >10</text>
<line x1="220.8" y1="184.5" x2="223.2" y2="184.5" stroke="#303030" stroke-width="1.1" />
<text x="218.2" y="187.7" font-size="9" text-anchor="end" fill="#111" stroke="#111" stroke-width="0.1" textLength="8.8" lengthAdjust="spacingAndGlyphs" >15</text>
<line x1="220.8" y1="162" x2="223.2" y2="162" stroke="#303030" stroke-width="1.1" />
<text x="218.2" y="165.2" font-size="9" text-anchor="end" fill="#111" stroke="#111" stroke-width="0.1" textLength="8.8" lengthAdjust="spacingAndGlyphs" >20</text>
<rect x="228" y="247.3" width="14.8" height="4.7" fill="none" stroke="#2fb34a" stroke-width="1.1" />
<circle cx="229.5" cy="247.3" r="1.4" fill="#2fb34a"/>
<circle cx="232.3" cy="247.3" r="1.4" fill="#2fb34a"/>
<circle cx="235.3" cy="247.3" r="1.4" fill="#2fb34a"/>
<circle cx="238.3" cy="247.3" r="1.4" fill="#2fb34a"/>
<circle cx="241.2" cy="247.3" r="1.4" fill="#2fb34a"/>
<circle cx="235.5" cy="252.3" r="1.4" fill="#2fb34a"/>
<rect x="247.5" y="220.5" width="14.3" height="31.5" fill="none" stroke="#c8102e" stroke-width="1.1" />
<line x1="254.6" y1="220.5" x2="254.6" y2="211.4" stroke="#c8102e" stroke-width="1.2" />
<line x1="251.1" y1="211.4" x2="258.1" y2="211.4" stroke="#c8102e" stroke-width="1.2" />
<circle cx="252.3" cy="207.5" r="1.4" fill="#c8102e"/>
<circle cx="256.3" cy="207.5" r="1.4" fill="#c8102e"/>
<circle cx="254.7" cy="216.2" r="1.4" fill="#c8102e"/>
<circle cx="249.9" cy="220.5" r="1.4" fill="#c8102e"/>
<circle cx="254.7" cy="220.5" r="1.4" fill="#c8102e"/>
<circle cx="258.8" cy="220.5" r="1.4" fill="#c8102e"/>
<circle cx="249.9" cy="229.6" r="1.4" fill="#c8102e"/>
<circle cx="254.7" cy="229.6" r="1.4" fill="#c8102e"/>
<circle cx="258.8" cy="229.6" r="1.4" fill="#c8102e"/>
<rect x="267" y="197.4" width="14" height="54.6" fill="none" stroke="#10508c" stroke-width="1.1" />
<line x1="273.9" y1="197.4" x2="273.9" y2="186" stroke="#10508c" stroke-width="1.2" />
<line x1="270.4" y1="186" x2="277.4" y2="186" stroke="#10508c" stroke-width="1.2" />
<circle cx="273.8" cy="180.3" r="1.4" fill="#10508c"/>
<circle cx="273.8" cy="185.3" r="1.4" fill="#10508c"/>
<circle cx="271.8" cy="193.7" r="1.4" fill="#10508c"/>
<circle cx="275.9" cy="193.7" r="1.4" fill="#10508c"/>
<circle cx="269.5" cy="198.2" r="1.4" fill="#10508c"/>
<circle cx="272.5" cy="198.2" r="1.4" fill="#10508c"/>
<circle cx="275.2" cy="198.2" r="1.4" fill="#10508c"/>
<circle cx="278.1" cy="198.2" r="1.4" fill="#10508c"/>
<circle cx="273.8" cy="207.6" r="1.4" fill="#10508c"/>
<circle cx="273.8" cy="216.2" r="1.4" fill="#10508c"/>
<line x1="223.2" y1="252" x2="286.5" y2="252" stroke="#303030" stroke-width="1.6" />
<line x1="228.3" y1="162.8" x2="252" y2="162.8" stroke="#303030" stroke-width="1.2" />
<text x="237.5" y="163.9" font-size="9.2" text-anchor="middle" fill="#111" stroke="#111" stroke-width="0.1" textLength="9.6" lengthAdjust="spacingAndGlyphs" >***</text>
<line x1="228.3" y1="169.2" x2="279.9" y2="169.2" stroke="#303030" stroke-width="1.2" />
<text x="255.3" y="170.3" font-size="9.2" text-anchor="middle" fill="#111" stroke="#111" stroke-width="0.1" textLength="9.6" lengthAdjust="spacingAndGlyphs" >***</text>
<line x1="255.7" y1="175.3" x2="279.9" y2="175.3" stroke="#303030" stroke-width="1.2" />
<text x="267.4" y="176.4" font-size="9.2" text-anchor="middle" fill="#111" stroke="#111" stroke-width="0.1" textLength="9.6" lengthAdjust="spacingAndGlyphs" >***</text>
<text x="238.4" y="261.5" font-size="10" text-anchor="end" fill="#111" stroke="#111" stroke-width="0.1" textLength="15.5" lengthAdjust="spacingAndGlyphs" transform="rotate(-45 238.4 261.5)" >TCD</text>
<text x="257.6" y="261.5" font-size="10" text-anchor="end" fill="#111" stroke="#111" stroke-width="0.1" textLength="12.2" lengthAdjust="spacingAndGlyphs" transform="rotate(-45 257.6 261.5)" >WT</text>
<text x="275.6" y="261.5" font-size="10" text-anchor="end" fill="#111" stroke="#111" stroke-width="0.05" transform="rotate(-45 275.6 261.5)" ><tspan font-style="italic" textLength="14.5" lengthAdjust="spacingAndGlyphs">Ifnlr</tspan><tspan font-size="5.5" dy="-3.4">−/−</tspan></text>
<text x="330" y="148.7" font-size="10.5" text-anchor="middle" fill="#111" textLength="8.9" lengthAdjust="spacingAndGlyphs" >SI</text>
<line x1="301.2" y1="160.9" x2="301.2" y2="252.1" stroke="#303030" stroke-width="1.6" />
<line x1="298.8" y1="252.1" x2="301.2" y2="252.1" stroke="#303030" stroke-width="1.1" />
<text x="296.1" y="255.2" font-size="9" text-anchor="end" fill="#111" stroke="#111" stroke-width="0.1" textLength="4.4" lengthAdjust="spacingAndGlyphs" >0</text>
<line x1="298.8" y1="229.3" x2="301.2" y2="229.3" stroke="#303030" stroke-width="1.1" />
<text x="296.1" y="232.5" font-size="9" text-anchor="end" fill="#111" stroke="#111" stroke-width="0.1" textLength="4.4" lengthAdjust="spacingAndGlyphs" >5</text>
<line x1="298.8" y1="206.5" x2="301.2" y2="206.5" stroke="#303030" stroke-width="1.1" />
<text x="296.1" y="209.7" font-size="9" text-anchor="end" fill="#111" stroke="#111" stroke-width="0.1" textLength="8.8" lengthAdjust="spacingAndGlyphs" >10</text>
<line x1="298.8" y1="183.7" x2="301.2" y2="183.7" stroke="#303030" stroke-width="1.1" />
<text x="296.1" y="186.8" font-size="9" text-anchor="end" fill="#111" stroke="#111" stroke-width="0.1" textLength="8.8" lengthAdjust="spacingAndGlyphs" >15</text>
<line x1="298.8" y1="160.9" x2="301.2" y2="160.9" stroke="#303030" stroke-width="1.1" />
<text x="296.1" y="164.1" font-size="9" text-anchor="end" fill="#111" stroke="#111" stroke-width="0.1" textLength="8.8" lengthAdjust="spacingAndGlyphs" >20</text>
<rect x="305.6" y="248.5" width="13.6" height="3.6" fill="none" stroke="#2fb34a" stroke-width="1.1" />
<line x1="312.4" y1="248.5" x2="312.4" y2="246.9" stroke="#2fb34a" stroke-width="1.2" />
<line x1="308.9" y1="246.9" x2="315.9" y2="246.9" stroke="#2fb34a" stroke-width="1.2" />
<circle cx="306.2" cy="248.5" r="1.4" fill="#2fb34a"/>
<circle cx="309.4" cy="248.5" r="1.4" fill="#2fb34a"/>
<circle cx="312.5" cy="248.5" r="1.4" fill="#2fb34a"/>
<circle cx="315.6" cy="248.5" r="1.4" fill="#2fb34a"/>
<circle cx="318.5" cy="248.5" r="1.4" fill="#2fb34a"/>
<circle cx="310.6" cy="252.2" r="1.4" fill="#2fb34a"/>
<circle cx="314.4" cy="252.2" r="1.4" fill="#2fb34a"/>
<rect x="324" y="227.5" width="13.6" height="24.6" fill="none" stroke="#c8102e" stroke-width="1.1" />
<line x1="330.8" y1="227.5" x2="330.8" y2="221.2" stroke="#c8102e" stroke-width="1.2" />
<line x1="327.2" y1="221.2" x2="334.2" y2="221.2" stroke="#c8102e" stroke-width="1.2" />
<circle cx="328.8" cy="220" r="1.4" fill="#c8102e"/>
<circle cx="333.1" cy="220" r="1.4" fill="#c8102e"/>
<circle cx="330.9" cy="224.4" r="1.4" fill="#c8102e"/>
<circle cx="325" cy="229.4" r="1.4" fill="#c8102e"/>
<circle cx="327.8" cy="229.4" r="1.4" fill="#c8102e"/>
<circle cx="330.6" cy="229.4" r="1.4" fill="#c8102e"/>
<circle cx="333.8" cy="229.4" r="1.4" fill="#c8102e"/>
<circle cx="336.9" cy="229.4" r="1.4" fill="#c8102e"/>
<circle cx="330.9" cy="234" r="1.4" fill="#c8102e"/>
<rect x="343.1" y="213.5" width="13.5" height="38.6" fill="none" stroke="#10508c" stroke-width="1.1" />
<line x1="349.8" y1="213.5" x2="349.8" y2="199" stroke="#10508c" stroke-width="1.2" />
<line x1="346.3" y1="199" x2="353.3" y2="199" stroke="#10508c" stroke-width="1.2" />
<circle cx="349.6" cy="188.5" r="1.4" fill="#10508c"/>
<circle cx="349.6" cy="202.2" r="1.4" fill="#10508c"/>
<circle cx="346.9" cy="206.5" r="1.4" fill="#10508c"/>
<circle cx="351.9" cy="206.5" r="1.4" fill="#10508c"/>
<circle cx="349.6" cy="211" r="1.4" fill="#10508c"/>
<circle cx="349.6" cy="216" r="1.4" fill="#10508c"/>
<circle cx="345.2" cy="229.4" r="1.4" fill="#10508c"/>
<circle cx="349.6" cy="229.4" r="1.4" fill="#10508c"/>
<circle cx="353.8" cy="229.4" r="1.4" fill="#10508c"/>
<line x1="301.2" y1="252.1" x2="361.2" y2="252.1" stroke="#303030" stroke-width="1.6" />
<line x1="306.2" y1="160.8" x2="338.8" y2="160.8" stroke="#303030" stroke-width="1.2" />
<text x="317" y="161.9" font-size="9.2" text-anchor="middle" fill="#111" stroke="#111" stroke-width="0.1" textLength="9.6" lengthAdjust="spacingAndGlyphs" >***</text>
<line x1="306.2" y1="170" x2="358" y2="170" stroke="#303030" stroke-width="1.2" />
<text x="331" y="171.1" font-size="9.2" text-anchor="middle" fill="#111" stroke="#111" stroke-width="0.1" textLength="9.6" lengthAdjust="spacingAndGlyphs" >***</text>
<line x1="326.8" y1="177.5" x2="358" y2="177.5" stroke="#303030" stroke-width="1.2" />
<text x="347" y="178.6" font-size="9.2" text-anchor="middle" fill="#111" stroke="#111" stroke-width="0.1" textLength="3.2" lengthAdjust="spacingAndGlyphs" >*</text>
<text x="315.4" y="261.6" font-size="10" text-anchor="end" fill="#111" stroke="#111" stroke-width="0.1" textLength="15.5" lengthAdjust="spacingAndGlyphs" transform="rotate(-45 315.4 261.6)" >TCD</text>
<text x="333.8" y="261.6" font-size="10" text-anchor="end" fill="#111" stroke="#111" stroke-width="0.1" textLength="12.2" lengthAdjust="spacingAndGlyphs" transform="rotate(-45 333.8 261.6)" >WT</text>
<text x="351.5" y="261.6" font-size="10" text-anchor="end" fill="#111" stroke="#111" stroke-width="0.05" transform="rotate(-45 351.5 261.6)" ><tspan font-style="italic" textLength="14.5" lengthAdjust="spacingAndGlyphs">Ifnlr</tspan><tspan font-size="5.5" dy="-3.4">−/−</tspan></text>
<text x="409.4" y="148.7" font-size="10.5" text-anchor="middle" fill="#111" textLength="18.4" lengthAdjust="spacingAndGlyphs" >Skin</text>
<line x1="376.1" y1="160.2" x2="376.1" y2="251.3" stroke="#303030" stroke-width="1.6" />
<line x1="373.6" y1="251.3" x2="376.1" y2="251.3" stroke="#303030" stroke-width="1.1" />
<text x="371" y="254.5" font-size="9" text-anchor="end" fill="#111" stroke="#111" stroke-width="0.1" textLength="4.4" lengthAdjust="spacingAndGlyphs" >0</text>
<line x1="373.6" y1="228.5" x2="376.1" y2="228.5" stroke="#303030" stroke-width="1.1" />
<text x="371" y="231.7" font-size="9" text-anchor="end" fill="#111" stroke="#111" stroke-width="0.1" textLength="4.4" lengthAdjust="spacingAndGlyphs" >5</text>
<line x1="373.6" y1="205.8" x2="376.1" y2="205.8" stroke="#303030" stroke-width="1.1" />
<text x="371" y="208.9" font-size="9" text-anchor="end" fill="#111" stroke="#111" stroke-width="0.1" textLength="8.8" lengthAdjust="spacingAndGlyphs" >10</text>
<line x1="373.6" y1="183" x2="376.1" y2="183" stroke="#303030" stroke-width="1.1" />
<text x="371" y="186.1" font-size="9" text-anchor="end" fill="#111" stroke="#111" stroke-width="0.1" textLength="8.8" lengthAdjust="spacingAndGlyphs" >15</text>
<line x1="373.6" y1="160.2" x2="376.1" y2="160.2" stroke="#303030" stroke-width="1.1" />
<text x="371" y="163.3" font-size="9" text-anchor="end" fill="#111" stroke="#111" stroke-width="0.1" textLength="8.8" lengthAdjust="spacingAndGlyphs" >20</text>
<rect x="380.8" y="249.3" width="14" height="2" fill="none" stroke="#2fb34a" stroke-width="1.1" />
<line x1="387.8" y1="249.3" x2="387.8" y2="245.5" stroke="#2fb34a" stroke-width="1.2" />
<line x1="384.2" y1="245.5" x2="391.2" y2="245.5" stroke="#2fb34a" stroke-width="1.2" />
<circle cx="387.8" cy="241.8" r="1.4" fill="#2fb34a"/>
<circle cx="382" cy="250" r="1.4" fill="#2fb34a"/>
<circle cx="385" cy="250" r="1.4" fill="#2fb34a"/>
<circle cx="388" cy="250" r="1.4" fill="#2fb34a"/>
<circle cx="391" cy="250" r="1.4" fill="#2fb34a"/>
<circle cx="394" cy="250" r="1.4" fill="#2fb34a"/>
<rect x="399.9" y="231.8" width="12.9" height="19.5" fill="none" stroke="#c8102e" stroke-width="1.1" />
<line x1="406.4" y1="231.8" x2="406.4" y2="215.2" stroke="#c8102e" stroke-width="1.2" />
<line x1="402.9" y1="215.2" x2="409.9" y2="215.2" stroke="#c8102e" stroke-width="1.2" />
<circle cx="406.4" cy="201.1" r="1.4" fill="#c8102e"/>
<circle cx="406.4" cy="210.2" r="1.4" fill="#c8102e"/>
<circle cx="406.4" cy="223.7" r="1.4" fill="#c8102e"/>
<circle cx="402.3" cy="237.4" r="1.4" fill="#c8102e"/>
<circle cx="406.4" cy="237.4" r="1.4" fill="#c8102e"/>
<circle cx="410.8" cy="237.4" r="1.4" fill="#c8102e"/>
<circle cx="404" cy="246.3" r="1.4" fill="#c8102e"/>
<circle cx="409" cy="246.3" r="1.4" fill="#c8102e"/>
<rect x="418.6" y="237.8" width="13.5" height="13.5" fill="none" stroke="#10508c" stroke-width="1.1" />
<line x1="425.3" y1="237.8" x2="425.3" y2="222.7" stroke="#10508c" stroke-width="1.2" />
<line x1="421.8" y1="222.7" x2="428.8" y2="222.7" stroke="#10508c" stroke-width="1.2" />
<circle cx="424.9" cy="210.2" r="1.4" fill="#10508c"/>
<circle cx="424.9" cy="219.3" r="1.4" fill="#10508c"/>
<circle cx="424.9" cy="233.2" r="1.4" fill="#10508c"/>
<circle cx="421.5" cy="237.4" r="1.4" fill="#10508c"/>
<circle cx="428.5" cy="237.4" r="1.4" fill="#10508c"/>
<circle cx="424.9" cy="246.3" r="1.4" fill="#10508c"/>
<circle cx="421.5" cy="251" r="1.4" fill="#10508c"/>
<circle cx="425" cy="251" r="1.4" fill="#10508c"/>
<circle cx="428.5" cy="251" r="1.4" fill="#10508c"/>
<line x1="376.1" y1="251.3" x2="437.2" y2="251.3" stroke="#303030" stroke-width="1.6" />
<line x1="380.2" y1="162.2" x2="409" y2="162.2" stroke="#303030" stroke-width="1.2" />
<text x="394.5" y="163.3" font-size="9.2" text-anchor="middle" fill="#111" stroke="#111" stroke-width="0.1" textLength="6.4" lengthAdjust="spacingAndGlyphs" >**</text>
<text x="390.8" y="260.8" font-size="10" text-anchor="end" fill="#111" stroke="#111" stroke-width="0.1" textLength="15.5" lengthAdjust="spacingAndGlyphs" transform="rotate(-45 390.8 260.8)" >TCD</text>
<text x="409.4" y="260.8" font-size="10" text-anchor="end" fill="#111" stroke="#111" stroke-width="0.1" textLength="12.2" lengthAdjust="spacingAndGlyphs" transform="rotate(-45 409.4 260.8)" >WT</text>
<text x="427" y="260.8" font-size="10" text-anchor="end" fill="#111" stroke="#111" stroke-width="0.05" transform="rotate(-45 427 260.8)" ><tspan font-style="italic" textLength="14.5" lengthAdjust="spacingAndGlyphs">Ifnlr</tspan><tspan font-size="5.5" dy="-3.4">−/−</tspan></text>
<text x="484.8" y="148.7" font-size="10.5" text-anchor="middle" fill="#111" textLength="20.5" lengthAdjust="spacingAndGlyphs" >Liver</text>
<line x1="451.1" y1="160.6" x2="451.1" y2="251.2" stroke="#303030" stroke-width="1.6" />
<line x1="448.6" y1="251.2" x2="451.1" y2="251.2" stroke="#303030" stroke-width="1.1" />
<text x="446" y="254.3" font-size="9" text-anchor="end" fill="#111" stroke="#111" stroke-width="0.1" textLength="4.4" lengthAdjust="spacingAndGlyphs" >0</text>
<line x1="448.6" y1="228.5" x2="451.1" y2="228.5" stroke="#303030" stroke-width="1.1" />
<text x="446" y="231.7" font-size="9" text-anchor="end" fill="#111" stroke="#111" stroke-width="0.1" textLength="4.4" lengthAdjust="spacingAndGlyphs" >5</text>
<line x1="448.6" y1="205.9" x2="451.1" y2="205.9" stroke="#303030" stroke-width="1.1" />
<text x="446" y="209" font-size="9" text-anchor="end" fill="#111" stroke="#111" stroke-width="0.1" textLength="8.8" lengthAdjust="spacingAndGlyphs" >10</text>
<line x1="448.6" y1="183.2" x2="451.1" y2="183.2" stroke="#303030" stroke-width="1.1" />
<text x="446" y="186.4" font-size="9" text-anchor="end" fill="#111" stroke="#111" stroke-width="0.1" textLength="8.8" lengthAdjust="spacingAndGlyphs" >15</text>
<line x1="448.6" y1="160.6" x2="451.1" y2="160.6" stroke="#303030" stroke-width="1.1" />
<text x="446" y="163.8" font-size="9" text-anchor="end" fill="#111" stroke="#111" stroke-width="0.1" textLength="8.8" lengthAdjust="spacingAndGlyphs" >20</text>
<rect x="456.4" y="250.2" width="13.3" height="1" fill="none" stroke="#2fb34a" stroke-width="1.1" />
<circle cx="460.2" cy="246.7" r="1.4" fill="#2fb34a"/>
<circle cx="465.8" cy="246.7" r="1.4" fill="#2fb34a"/>
<circle cx="457.5" cy="250" r="1.4" fill="#2fb34a"/>
<circle cx="460.5" cy="250" r="1.4" fill="#2fb34a"/>
<circle cx="463.5" cy="250" r="1.4" fill="#2fb34a"/>
<circle cx="466.5" cy="250" r="1.4" fill="#2fb34a"/>
<circle cx="469" cy="250" r="1.4" fill="#2fb34a"/>
<rect x="475.3" y="232.2" width="13.5" height="19" fill="none" stroke="#c8102e" stroke-width="1.1" />
<line x1="482" y1="232.2" x2="482" y2="226.2" stroke="#c8102e" stroke-width="1.2" />
<line x1="478.5" y1="226.2" x2="485.5" y2="226.2" stroke="#c8102e" stroke-width="1.2" />
<circle cx="477.3" cy="223.6" r="1.4" fill="#c8102e"/>
<circle cx="481.9" cy="223.6" r="1.4" fill="#c8102e"/>
<circle cx="486.4" cy="223.6" r="1.4" fill="#c8102e"/>
<circle cx="481.9" cy="228.6" r="1.4" fill="#c8102e"/>
<circle cx="477.3" cy="234.7" r="1.4" fill="#c8102e"/>
<circle cx="486.4" cy="234.7" r="1.4" fill="#c8102e"/>
<circle cx="481.9" cy="238.7" r="1.4" fill="#c8102e"/>
<circle cx="481.9" cy="242.7" r="1.4" fill="#c8102e"/>
<rect x="493" y="235" width="14" height="16.2" fill="none" stroke="#10508c" stroke-width="1.1" />
<line x1="499.9" y1="235" x2="499.9" y2="226.6" stroke="#10508c" stroke-width="1.2" />
<line x1="496.4" y1="226.6" x2="503.4" y2="226.6" stroke="#10508c" stroke-width="1.2" />
<circle cx="495.8" cy="223.6" r="1.4" fill="#10508c"/>
<circle cx="500.5" cy="223.6" r="1.4" fill="#10508c"/>
<circle cx="504.9" cy="223.6" r="1.4" fill="#10508c"/>
<circle cx="495.8" cy="235.8" r="1.4" fill="#10508c"/>
<circle cx="500.5" cy="235.8" r="1.4" fill="#10508c"/>
<circle cx="504.9" cy="235.8" r="1.4" fill="#10508c"/>
<circle cx="495.8" cy="242.7" r="1.4" fill="#10508c"/>
<circle cx="500.5" cy="242.7" r="1.4" fill="#10508c"/>
<circle cx="504.9" cy="242.7" r="1.4" fill="#10508c"/>
<line x1="451.1" y1="251.2" x2="512.5" y2="251.2" stroke="#303030" stroke-width="1.6" />
<line x1="456.2" y1="164.2" x2="485.4" y2="164.2" stroke="#303030" stroke-width="1.2" />
<text x="470.3" y="165.3" font-size="9.2" text-anchor="middle" fill="#111" stroke="#111" stroke-width="0.1" textLength="9.6" lengthAdjust="spacingAndGlyphs" >***</text>
<line x1="456.2" y1="171.2" x2="501.9" y2="171.2" stroke="#303030" stroke-width="1.2" />
<text x="478.9" y="172.3" font-size="9.2" text-anchor="middle" fill="#111" stroke="#111" stroke-width="0.1" textLength="9.6" lengthAdjust="spacingAndGlyphs" >***</text>
<text x="466.1" y="260.7" font-size="10" text-anchor="end" fill="#111" stroke="#111" stroke-width="0.1" textLength="15.5" lengthAdjust="spacingAndGlyphs" transform="rotate(-45 466.1 260.7)" >TCD</text>
<text x="485" y="260.7" font-size="10" text-anchor="end" fill="#111" stroke="#111" stroke-width="0.1" textLength="12.2" lengthAdjust="spacingAndGlyphs" transform="rotate(-45 485 260.7)" >WT</text>
<text x="501.6" y="260.7" font-size="10" text-anchor="end" fill="#111" stroke="#111" stroke-width="0.05" transform="rotate(-45 501.6 260.7)" ><tspan font-style="italic" textLength="14.5" lengthAdjust="spacingAndGlyphs">Ifnlr</tspan><tspan font-size="5.5" dy="-3.4">−/−</tspan></text>
<text x="14.6" y="289.4" font-size="11.5" text-anchor="start" fill="#000" font-weight="bold" >E</text>
<line x1="40.2" y1="298.3" x2="40.2" y2="388.1" stroke="#303030" stroke-width="1.6" />
<line x1="37.7" y1="388.1" x2="40.2" y2="388.1" stroke="#303030" stroke-width="1.1" />
<text x="35.1" y="391.2" font-size="9" text-anchor="end" fill="#111" stroke="#111" stroke-width="0.1" textLength="4.4" lengthAdjust="spacingAndGlyphs" >0</text>
<line x1="37.7" y1="358.1" x2="40.2" y2="358.1" stroke="#303030" stroke-width="1.1" />
<text x="35.1" y="361.2" font-size="9" text-anchor="end" fill="#111" stroke="#111" stroke-width="0.1" textLength="4.4" lengthAdjust="spacingAndGlyphs" >4</text>
<line x1="37.7" y1="328.2" x2="40.2" y2="328.2" stroke="#303030" stroke-width="1.1" />
<text x="35.1" y="331.3" font-size="9" text-anchor="end" fill="#111" stroke="#111" stroke-width="0.1" textLength="4.4" lengthAdjust="spacingAndGlyphs" >8</text>
<line x1="37.7" y1="298.3" x2="40.2" y2="298.3" stroke="#303030" stroke-width="1.1" />
<text x="35.1" y="301.4" font-size="9" text-anchor="end" fill="#111" stroke="#111" stroke-width="0.1" textLength="8.8" lengthAdjust="spacingAndGlyphs" >12</text>
<text x="26.6" y="344.8" font-size="9.3" text-anchor="middle" fill="#111" stroke="#111" stroke-width="0.1" textLength="69.8" lengthAdjust="spacingAndGlyphs" transform="rotate(-90 26.6 344.8)" >FITC Dextran (ng/mL)</text>
<rect x="46.1" y="369.1" width="17.9" height="19" fill="none" stroke="#c8102e" stroke-width="1.1" />
<line x1="55" y1="369.1" x2="55" y2="365.5" stroke="#c8102e" stroke-width="1.1" />
<line x1="50.7" y1="365.5" x2="59.3" y2="365.5" stroke="#c8102e" stroke-width="1.1" />
<circle cx="55" cy="343.3" r="1.4" fill="#c8102e"/>
<circle cx="52.5" cy="358.6" r="1.4" fill="#c8102e"/>
<circle cx="57.1" cy="359.2" r="1.4" fill="#c8102e"/>
<circle cx="55" cy="367.7" r="1.4" fill="#c8102e"/>
<circle cx="50.8" cy="372.7" r="1.4" fill="#c8102e"/>
<circle cx="59.2" cy="372.7" r="1.4" fill="#c8102e"/>
<circle cx="50.8" cy="379.3" r="1.4" fill="#c8102e"/>
<circle cx="55" cy="379.3" r="1.4" fill="#c8102e"/>
<circle cx="59.2" cy="379.3" r="1.4" fill="#c8102e"/>
<rect x="70" y="347.6" width="17.9" height="40.5" fill="none" stroke="#10508c" stroke-width="1.1" />
<line x1="78.9" y1="347.6" x2="78.9" y2="338.5" stroke="#10508c" stroke-width="1.1" />
<line x1="74.6" y1="338.5" x2="83.2" y2="338.5" stroke="#10508c" stroke-width="1.1" />
<circle cx="76.6" cy="307.8" r="1.4" fill="#10508c"/>
<circle cx="80.8" cy="307.8" r="1.4" fill="#10508c"/>
<circle cx="77.2" cy="338.5" r="1.4" fill="#10508c"/>
<circle cx="80" cy="343.1" r="1.4" fill="#10508c"/>
<circle cx="74.5" cy="358.1" r="1.4" fill="#10508c"/>
<circle cx="78.7" cy="359.2" r="1.4" fill="#10508c"/>
<circle cx="82.9" cy="359.2" r="1.4" fill="#10508c"/>
<circle cx="78.7" cy="371.7" r="1.4" fill="#10508c"/>
<circle cx="78.7" cy="379.3" r="1.4" fill="#10508c"/>
<line x1="40.2" y1="388.1" x2="94.1" y2="388.1" stroke="#303030" stroke-width="1.6" />
<line x1="45.5" y1="298.3" x2="88.4" y2="298.3" stroke="#303030" stroke-width="1.2" />
<text x="67.3" y="299.4" font-size="9.2" text-anchor="middle" fill="#111" stroke="#111" stroke-width="0.1" textLength="3.2" lengthAdjust="spacingAndGlyphs" >*</text>
<text x="58" y="396" font-size="10" text-anchor="end" fill="#111" stroke="#111" stroke-width="0.1" textLength="12.2" lengthAdjust="spacingAndGlyphs" transform="rotate(-45 58 396)" >WT</text>
<text x="77" y="396" font-size="10" text-anchor="end" fill="#111" stroke="#111" stroke-width="0.05" transform="rotate(-45 77 396)" ><tspan font-style="italic" textLength="17.5" lengthAdjust="spacingAndGlyphs">Ifnlr1</tspan><tspan font-size="5.5" dy="-3.4">−/−</tspan></text>
<text x="110.3" y="289.5" font-size="11.5" text-anchor="start" fill="#000" font-weight="bold" >F</text>
<line x1="145.8" y1="293.8" x2="145.8" y2="388" stroke="#303030" stroke-width="1.6" />
<line x1="143.2" y1="388" x2="145.8" y2="388" stroke="#303030" stroke-width="1.1" />
<text x="140.7" y="391.1" font-size="9" text-anchor="end" fill="#111" stroke="#111" stroke-width="0.1" textLength="4.4" lengthAdjust="spacingAndGlyphs" >0</text>
<line x1="143.2" y1="360.5" x2="145.8" y2="360.5" stroke="#303030" stroke-width="1.1" />
<text x="140.7" y="363.6" font-size="9" text-anchor="end" fill="#111" stroke="#111" stroke-width="0.1" textLength="13.2" lengthAdjust="spacingAndGlyphs" >500</text>
<line x1="143.2" y1="332.5" x2="145.8" y2="332.5" stroke="#303030" stroke-width="1.1" />
<text x="140.7" y="335.6" font-size="9" text-anchor="end" fill="#111" stroke="#111" stroke-width="0.1" textLength="17.6" lengthAdjust="spacingAndGlyphs" >1000</text>
<line x1="143.2" y1="305" x2="145.8" y2="305" stroke="#303030" stroke-width="1.1" />
<text x="140.7" y="308.1" font-size="9" text-anchor="end" fill="#111" stroke="#111" stroke-width="0.1" textLength="17.6" lengthAdjust="spacingAndGlyphs" >1500</text>
<text x="118.8" y="344.4" font-size="9.3" text-anchor="middle" fill="#111" stroke="#111" stroke-width="0.1" textLength="43.8" lengthAdjust="spacingAndGlyphs" transform="rotate(-90 118.8 344.4)" >IFNγ (pg/mL)</text>
<rect x="151" y="386" width="13.6" height="2" fill="none" stroke="#2fb34a" stroke-width="1.1" />
<circle cx="155.8" cy="379.3" r="1.4" fill="#2fb34a"/>
<circle cx="159.5" cy="380.3" r="1.4" fill="#2fb34a"/>
<circle cx="151.7" cy="386.7" r="1.4" fill="#2fb34a"/>
<circle cx="153.7" cy="387.3" r="1.4" fill="#2fb34a"/>
<circle cx="155.8" cy="387.5" r="1.4" fill="#2fb34a"/>
<circle cx="157.8" cy="387.5" r="1.4" fill="#2fb34a"/>
<circle cx="159.8" cy="387.3" r="1.4" fill="#2fb34a"/>
<circle cx="161.8" cy="387" r="1.4" fill="#2fb34a"/>
<circle cx="163.8" cy="386.7" r="1.4" fill="#2fb34a"/>
<circle cx="155.1" cy="385.4" r="1.4" fill="#2fb34a"/>
<circle cx="158.5" cy="385.6" r="1.4" fill="#2fb34a"/>
<rect x="169.8" y="370.2" width="14.1" height="17.8" fill="none" stroke="#c8102e" stroke-width="1.1" />
<line x1="176.8" y1="370.2" x2="176.8" y2="358.5" stroke="#c8102e" stroke-width="1.1" />
<line x1="173.3" y1="358.5" x2="180.3" y2="358.5" stroke="#c8102e" stroke-width="1.1" />
<circle cx="176.6" cy="348.8" r="1.4" fill="#c8102e"/>
<circle cx="174.3" cy="354.4" r="1.4" fill="#c8102e"/>
<circle cx="178.6" cy="354.1" r="1.4" fill="#c8102e"/>
<circle cx="170.6" cy="358.2" r="1.4" fill="#c8102e"/>
<circle cx="182.7" cy="357.4" r="1.4" fill="#c8102e"/>
<circle cx="173.9" cy="360.9" r="1.4" fill="#c8102e"/>
<circle cx="178" cy="360.9" r="1.4" fill="#c8102e"/>
<circle cx="179.7" cy="361.1" r="1.4" fill="#c8102e"/>
<circle cx="174.9" cy="365.2" r="1.4" fill="#c8102e"/>
<circle cx="178.6" cy="365.2" r="1.4" fill="#c8102e"/>
<circle cx="177.3" cy="369.2" r="1.4" fill="#c8102e"/>
<circle cx="172.6" cy="370.6" r="1.4" fill="#c8102e"/>
<circle cx="180.7" cy="370.3" r="1.4" fill="#c8102e"/>
<circle cx="171.2" cy="375.9" r="1.4" fill="#c8102e"/>
<circle cx="176.6" cy="375.9" r="1.4" fill="#c8102e"/>
<circle cx="182" cy="375.9" r="1.4" fill="#c8102e"/>
<circle cx="174.6" cy="378.6" r="1.4" fill="#c8102e"/>
<circle cx="179.3" cy="381.3" r="1.4" fill="#c8102e"/>
<circle cx="183.4" cy="378.6" r="1.4" fill="#c8102e"/>
<circle cx="172.6" cy="384" r="1.4" fill="#c8102e"/>
<circle cx="177.3" cy="386.4" r="1.4" fill="#c8102e"/>
<circle cx="180.7" cy="386.4" r="1.4" fill="#c8102e"/>
<rect x="188.9" y="351.3" width="14" height="36.7" fill="none" stroke="#10508c" stroke-width="1.1" />
<line x1="195.9" y1="351.3" x2="195.9" y2="338" stroke="#10508c" stroke-width="1.1" />
<line x1="192.4" y1="338" x2="199.4" y2="338" stroke="#10508c" stroke-width="1.1" />
<circle cx="195.9" cy="315.4" r="1.4" fill="#10508c"/>
<circle cx="198.2" cy="331.3" r="1.4" fill="#10508c"/>
<circle cx="191.4" cy="334.9" r="1.4" fill="#10508c"/>
<circle cx="197.5" cy="342" r="1.4" fill="#10508c"/>
<circle cx="189.4" cy="344.3" r="1.4" fill="#10508c"/>
<circle cx="192.8" cy="346.1" r="1.4" fill="#10508c"/>
<circle cx="201.5" cy="345.3" r="1.4" fill="#10508c"/>
<circle cx="196.1" cy="348.4" r="1.4" fill="#10508c"/>
<circle cx="198.8" cy="348.4" r="1.4" fill="#10508c"/>
<circle cx="199.5" cy="352.8" r="1.4" fill="#10508c"/>
<circle cx="191.4" cy="355.1" r="1.4" fill="#10508c"/>
<circle cx="193.5" cy="357.8" r="1.4" fill="#10508c"/>
<circle cx="196.1" cy="357.1" r="1.4" fill="#10508c"/>
<circle cx="198.2" cy="357.8" r="1.4" fill="#10508c"/>
<circle cx="190.8" cy="359.1" r="1.4" fill="#10508c"/>
<circle cx="194.1" cy="360.9" r="1.4" fill="#10508c"/>
<circle cx="196.8" cy="361.1" r="1.4" fill="#10508c"/>
<circle cx="200.2" cy="359.8" r="1.4" fill="#10508c"/>
<circle cx="195.9" cy="367.2" r="1.4" fill="#10508c"/>
<circle cx="195.9" cy="373.9" r="1.4" fill="#10508c"/>
<line x1="145.8" y1="388" x2="208.8" y2="388" stroke="#303030" stroke-width="1.6" />
<line x1="151.2" y1="295" x2="184.5" y2="295" stroke="#303030" stroke-width="1.2" />
<text x="167" y="296.1" font-size="9.2" text-anchor="middle" fill="#111" stroke="#111" stroke-width="0.1" textLength="12.8" lengthAdjust="spacingAndGlyphs" >****</text>
<line x1="151.2" y1="303" x2="203.8" y2="303" stroke="#303030" stroke-width="1.2" />
<text x="178.8" y="304.1" font-size="9.2" text-anchor="middle" fill="#111" stroke="#111" stroke-width="0.1" textLength="12.8" lengthAdjust="spacingAndGlyphs" >****</text>
<line x1="175" y1="310.8" x2="208.8" y2="310.8" stroke="#303030" stroke-width="1.2" />
<text x="191.2" y="311.9" font-size="9.2" text-anchor="middle" fill="#111" stroke="#111" stroke-width="0.1" textLength="12.8" lengthAdjust="spacingAndGlyphs" >****</text>
<text x="159.8" y="397.5" font-size="10" text-anchor="end" fill="#111" stroke="#111" stroke-width="0.1" textLength="15.5" lengthAdjust="spacingAndGlyphs" transform="rotate(-45 159.8 397.5)" >TCD</text>
<text x="178.8" y="397.5" font-size="10" text-anchor="end" fill="#111" stroke="#111" stroke-width="0.1" textLength="12.2" lengthAdjust="spacingAndGlyphs" transform="rotate(-45 178.8 397.5)" >WT</text>
<text x="197.2" y="397.5" font-size="10" text-anchor="end" fill="#111" stroke="#111" stroke-width="0.05" transform="rotate(-45 197.2 397.5)" ><tspan font-style="italic" textLength="17.5" lengthAdjust="spacingAndGlyphs">Ifnlr1</tspan><tspan font-size="5.5" dy="-3.4">−/−</tspan></text>
<line x1="251.3" y1="293.8" x2="251.3" y2="388.1" stroke="#303030" stroke-width="1.6" />
<line x1="248.8" y1="388.1" x2="251.3" y2="388.1" stroke="#303030" stroke-width="1.1" />
<text x="246.2" y="391.2" font-size="9" text-anchor="end" fill="#111" stroke="#111" stroke-width="0.1" textLength="4.4" lengthAdjust="spacingAndGlyphs" >0</text>
<line x1="248.8" y1="357" x2="251.3" y2="357" stroke="#303030" stroke-width="1.1" />
<text x="246.2" y="360.1" font-size="9" text-anchor="end" fill="#111" stroke="#111" stroke-width="0.1" textLength="13.2" lengthAdjust="spacingAndGlyphs" >100</text>
<line x1="248.8" y1="325.5" x2="251.3" y2="325.5" stroke="#303030" stroke-width="1.1" />
<text x="246.2" y="328.6" font-size="9" text-anchor="end" fill="#111" stroke="#111" stroke-width="0.1" textLength="13.2" lengthAdjust="spacingAndGlyphs" >200</text>
<line x1="248.8" y1="293.8" x2="251.3" y2="293.8" stroke="#303030" stroke-width="1.1" />
<text x="246.2" y="296.9" font-size="9" text-anchor="end" fill="#111" stroke="#111" stroke-width="0.1" textLength="13.2" lengthAdjust="spacingAndGlyphs" >300</text>
<text x="227.8" y="341" font-size="9.3" text-anchor="middle" fill="#111" stroke="#111" stroke-width="0.1" textLength="40" lengthAdjust="spacingAndGlyphs" transform="rotate(-90 227.8 341)" >IL-6 (pg/mL)</text>
<rect x="256" y="380" width="14.3" height="8.1" fill="none" stroke="#2fb34a" stroke-width="1.1" />
<line x1="263.1" y1="380" x2="263.1" y2="375.7" stroke="#2fb34a" stroke-width="1.1" />
<line x1="259.6" y1="375.7" x2="266.6" y2="375.7" stroke="#2fb34a" stroke-width="1.1" />
<circle cx="263.2" cy="353.1" r="1.4" fill="#2fb34a"/>
<circle cx="261.2" cy="365.5" r="1.4" fill="#2fb34a"/>
<circle cx="265.2" cy="369.5" r="1.4" fill="#2fb34a"/>
<circle cx="256.5" cy="384.7" r="1.4" fill="#2fb34a"/>
<circle cx="258.7" cy="386.7" r="1.4" fill="#2fb34a"/>
<circle cx="261.4" cy="388.1" r="1.4" fill="#2fb34a"/>
<circle cx="264.1" cy="387.8" r="1.4" fill="#2fb34a"/>
<circle cx="266.8" cy="386.4" r="1.4" fill="#2fb34a"/>
<circle cx="268.8" cy="384.7" r="1.4" fill="#2fb34a"/>
<rect x="275.2" y="369.2" width="14.3" height="18.9" fill="none" stroke="#c8102e" stroke-width="1.1" />
<line x1="282.4" y1="369.2" x2="282.4" y2="365.6" stroke="#c8102e" stroke-width="1.1" />
<line x1="278.9" y1="365.6" x2="285.9" y2="365.6" stroke="#c8102e" stroke-width="1.1" />
<circle cx="282.3" cy="316.3" r="1.4" fill="#c8102e"/>
<circle cx="282.3" cy="333.6" r="1.4" fill="#c8102e"/>
<circle cx="282.3" cy="353.1" r="1.4" fill="#c8102e"/>
<circle cx="282.3" cy="358.2" r="1.4" fill="#c8102e"/>
<circle cx="276.2" cy="362.9" r="1.4" fill="#c8102e"/>
<circle cx="280.3" cy="365.5" r="1.4" fill="#c8102e"/>
<circle cx="284.3" cy="366.3" r="1.4" fill="#c8102e"/>
<circle cx="288.4" cy="364.5" r="1.4" fill="#c8102e"/>
<circle cx="275.6" cy="371.9" r="1.4" fill="#c8102e"/>
<circle cx="281" cy="373.3" r="1.4" fill="#c8102e"/>
<circle cx="285.7" cy="371.9" r="1.4" fill="#c8102e"/>
<circle cx="288.4" cy="372.6" r="1.4" fill="#c8102e"/>
<circle cx="278.3" cy="375.9" r="1.4" fill="#c8102e"/>
<circle cx="283" cy="375.9" r="1.4" fill="#c8102e"/>
<circle cx="286.1" cy="375.3" r="1.4" fill="#c8102e"/>
<circle cx="276.9" cy="378.6" r="1.4" fill="#c8102e"/>
<circle cx="282" cy="378.6" r="1.4" fill="#c8102e"/>
<circle cx="285.3" cy="380" r="1.4" fill="#c8102e"/>
<circle cx="289" cy="380.7" r="1.4" fill="#c8102e"/>
<circle cx="276.2" cy="382" r="1.4" fill="#c8102e"/>
<circle cx="280.3" cy="380" r="1.4" fill="#c8102e"/>
<circle cx="284.3" cy="383.8" r="1.4" fill="#c8102e"/>
<circle cx="280.3" cy="385.1" r="1.4" fill="#c8102e"/>
<rect x="294.3" y="360.5" width="14.3" height="27.6" fill="none" stroke="#10508c" stroke-width="1.1" />
<line x1="301.4" y1="360.5" x2="301.4" y2="356.4" stroke="#10508c" stroke-width="1.1" />
<line x1="297.9" y1="356.4" x2="304.9" y2="356.4" stroke="#10508c" stroke-width="1.1" />
<circle cx="301.1" cy="326.2" r="1.4" fill="#10508c"/>
<circle cx="299.5" cy="334.2" r="1.4" fill="#10508c"/>
<circle cx="303.6" cy="336.9" r="1.4" fill="#10508c"/>
<circle cx="305.5" cy="336" r="1.4" fill="#10508c"/>
<circle cx="297.1" cy="340.7" r="1.4" fill="#10508c"/>
<circle cx="299.5" cy="344.7" r="1.4" fill="#10508c"/>
<circle cx="303.6" cy="345.4" r="1.4" fill="#10508c"/>
<circle cx="299.5" cy="352" r="1.4" fill="#10508c"/>
<circle cx="303.6" cy="352" r="1.4" fill="#10508c"/>
<circle cx="295.5" cy="361.1" r="1.4" fill="#10508c"/>
<circle cx="307.6" cy="362.9" r="1.4" fill="#10508c"/>
<circle cx="299.5" cy="364.5" r="1.4" fill="#10508c"/>
<circle cx="303.6" cy="365.2" r="1.4" fill="#10508c"/>
<circle cx="303.6" cy="368.1" r="1.4" fill="#10508c"/>
<circle cx="297.1" cy="370.8" r="1.4" fill="#10508c"/>
<circle cx="299.1" cy="372.6" r="1.4" fill="#10508c"/>
<circle cx="301.1" cy="373.3" r="1.4" fill="#10508c"/>
<circle cx="303.6" cy="373.3" r="1.4" fill="#10508c"/>
<circle cx="305.5" cy="373.9" r="1.4" fill="#10508c"/>
<circle cx="302.5" cy="377.3" r="1.4" fill="#10508c"/>
<circle cx="299.5" cy="381.3" r="1.4" fill="#10508c"/>
<circle cx="303.6" cy="381.1" r="1.4" fill="#10508c"/>
<line x1="251.3" y1="388.1" x2="313.8" y2="388.1" stroke="#303030" stroke-width="1.6" />
<line x1="256.2" y1="293" x2="290" y2="293" stroke="#303030" stroke-width="1.2" />
<text x="272.5" y="294.1" font-size="9.2" text-anchor="middle" fill="#111" stroke="#111" stroke-width="0.1" textLength="3.2" lengthAdjust="spacingAndGlyphs" >*</text>
<line x1="256.2" y1="299.2" x2="308.8" y2="299.2" stroke="#303030" stroke-width="1.2" />
<text x="283" y="300.4" font-size="9.2" text-anchor="middle" fill="#111" stroke="#111" stroke-width="0.1" textLength="9.6" lengthAdjust="spacingAndGlyphs" >***</text>
<line x1="277" y1="305.8" x2="308.8" y2="305.8" stroke="#303030" stroke-width="1.2" />
<text x="292.5" y="306.9" font-size="9.2" text-anchor="middle" fill="#111" stroke="#111" stroke-width="0.1" textLength="3.2" lengthAdjust="spacingAndGlyphs" >*</text>
<text x="265.1" y="397.6" font-size="10" text-anchor="end" fill="#111" stroke="#111" stroke-width="0.1" textLength="15.5" lengthAdjust="spacingAndGlyphs" transform="rotate(-45 265.1 397.6)" >TCD</text>
<text x="284.4" y="397.6" font-size="10" text-anchor="end" fill="#111" stroke="#111" stroke-width="0.1" textLength="12.2" lengthAdjust="spacingAndGlyphs" transform="rotate(-45 284.4 397.6)" >WT</text>
<text x="302.8" y="397.6" font-size="10" text-anchor="end" fill="#111" stroke="#111" stroke-width="0.05" transform="rotate(-45 302.8 397.6)" ><tspan font-style="italic" textLength="17.5" lengthAdjust="spacingAndGlyphs">Ifnlr1</tspan><tspan font-size="5.5" dy="-3.4">−/−</tspan></text>
<line x1="352.2" y1="294.5" x2="352.2" y2="388.2" stroke="#303030" stroke-width="1.6" />
<line x1="349.7" y1="388.2" x2="352.2" y2="388.2" stroke="#303030" stroke-width="1.1" />
<text x="347.1" y="391.3" font-size="9" text-anchor="end" fill="#111" stroke="#111" stroke-width="0.1" textLength="4.4" lengthAdjust="spacingAndGlyphs" >0</text>
<line x1="349.7" y1="356.9" x2="352.2" y2="356.9" stroke="#303030" stroke-width="1.1" />
<text x="347.1" y="360" font-size="9" text-anchor="end" fill="#111" stroke="#111" stroke-width="0.1" textLength="8.8" lengthAdjust="spacingAndGlyphs" >50</text>
<line x1="349.7" y1="325.8" x2="352.2" y2="325.8" stroke="#303030" stroke-width="1.1" />
<text x="347.1" y="328.9" font-size="9" text-anchor="end" fill="#111" stroke="#111" stroke-width="0.1" textLength="13.2" lengthAdjust="spacingAndGlyphs" >100</text>
<line x1="349.7" y1="294.5" x2="352.2" y2="294.5" stroke="#303030" stroke-width="1.1" />
<text x="347.1" y="297.6" font-size="9" text-anchor="end" fill="#111" stroke="#111" stroke-width="0.1" textLength="13.2" lengthAdjust="spacingAndGlyphs" >150</text>
<text x="332" y="342" font-size="9.3" text-anchor="middle" fill="#111" stroke="#111" stroke-width="0.1" textLength="42.8" lengthAdjust="spacingAndGlyphs" transform="rotate(-90 332 342)" >TNF (pg/mL)</text>
<rect x="357.9" y="377.1" width="14" height="11.1" fill="none" stroke="#2fb34a" stroke-width="1.1" />
<line x1="364.9" y1="377.1" x2="364.9" y2="371.7" stroke="#2fb34a" stroke-width="1.1" />
<line x1="361.4" y1="371.7" x2="368.4" y2="371.7" stroke="#2fb34a" stroke-width="1.1" />
<circle cx="364.9" cy="339.5" r="1.4" fill="#2fb34a"/>
<circle cx="365" cy="357.1" r="1.4" fill="#2fb34a"/>
<circle cx="365" cy="374.4" r="1.4" fill="#2fb34a"/>
<circle cx="362.8" cy="379.8" r="1.4" fill="#2fb34a"/>
<circle cx="367.1" cy="383.3" r="1.4" fill="#2fb34a"/>
<circle cx="359" cy="385.6" r="1.4" fill="#2fb34a"/>
<circle cx="361.9" cy="387.9" r="1.4" fill="#2fb34a"/>
<circle cx="364.8" cy="388.2" r="1.4" fill="#2fb34a"/>
<circle cx="367.7" cy="388.2" r="1.4" fill="#2fb34a"/>
<circle cx="371.2" cy="387.9" r="1.4" fill="#2fb34a"/>
<rect x="376.9" y="376.3" width="14.2" height="11.9" fill="none" stroke="#c8102e" stroke-width="1.1" />
<line x1="384" y1="376.3" x2="384" y2="366" stroke="#c8102e" stroke-width="1.1" />
<line x1="380.5" y1="366" x2="387.5" y2="366" stroke="#c8102e" stroke-width="1.1" />
<circle cx="382.1" cy="352.1" r="1.4" fill="#c8102e"/>
<circle cx="386.2" cy="354.8" r="1.4" fill="#c8102e"/>
<circle cx="386.2" cy="361.1" r="1.4" fill="#c8102e"/>
<circle cx="382.1" cy="365.2" r="1.4" fill="#c8102e"/>
<circle cx="383.8" cy="369.4" r="1.4" fill="#c8102e"/>
<circle cx="379.8" cy="373.5" r="1.4" fill="#c8102e"/>
<circle cx="382.7" cy="373.5" r="1.4" fill="#c8102e"/>
<circle cx="385.6" cy="373.5" r="1.4" fill="#c8102e"/>
<circle cx="388.5" cy="374" r="1.4" fill="#c8102e"/>
<circle cx="378.7" cy="379.2" r="1.4" fill="#c8102e"/>
<circle cx="381.5" cy="380.4" r="1.4" fill="#c8102e"/>
<circle cx="384.4" cy="381.5" r="1.4" fill="#c8102e"/>
<circle cx="387.3" cy="380.4" r="1.4" fill="#c8102e"/>
<circle cx="389.6" cy="379.2" r="1.4" fill="#c8102e"/>
<circle cx="377.5" cy="383.8" r="1.4" fill="#c8102e"/>
<circle cx="379.8" cy="384.4" r="1.4" fill="#c8102e"/>
<circle cx="382.7" cy="385.9" r="1.4" fill="#c8102e"/>
<circle cx="385.6" cy="385.9" r="1.4" fill="#c8102e"/>
<circle cx="388.5" cy="384.4" r="1.4" fill="#c8102e"/>
<circle cx="390.8" cy="383.8" r="1.4" fill="#c8102e"/>
<circle cx="383.8" cy="387.3" r="1.4" fill="#c8102e"/>
<rect x="396" y="373.4" width="14.7" height="14.8" fill="none" stroke="#10508c" stroke-width="1.1" />
<line x1="403.3" y1="373.4" x2="403.3" y2="358.5" stroke="#10508c" stroke-width="1.1" />
<line x1="399.8" y1="358.5" x2="406.8" y2="358.5" stroke="#10508c" stroke-width="1.1" />
<circle cx="403" cy="328.3" r="1.4" fill="#10508c"/>
<circle cx="399.4" cy="358.5" r="1.4" fill="#10508c"/>
<circle cx="407.2" cy="357.9" r="1.4" fill="#10508c"/>
<circle cx="403.5" cy="360.2" r="1.4" fill="#10508c"/>
<circle cx="403.7" cy="363.1" r="1.4" fill="#10508c"/>
<circle cx="401.2" cy="366.3" r="1.4" fill="#10508c"/>
<circle cx="401.7" cy="371.7" r="1.4" fill="#10508c"/>
<circle cx="404.6" cy="372.3" r="1.4" fill="#10508c"/>
<circle cx="397.7" cy="375.8" r="1.4" fill="#10508c"/>
<circle cx="401.2" cy="376.7" r="1.4" fill="#10508c"/>
<circle cx="406.3" cy="376" r="1.4" fill="#10508c"/>
<circle cx="398.3" cy="378.7" r="1.4" fill="#10508c"/>
<circle cx="400.6" cy="379.8" r="1.4" fill="#10508c"/>
<circle cx="402.9" cy="380.4" r="1.4" fill="#10508c"/>
<circle cx="405.8" cy="379.8" r="1.4" fill="#10508c"/>
<circle cx="408.1" cy="378.7" r="1.4" fill="#10508c"/>
<circle cx="397.1" cy="383.3" r="1.4" fill="#10508c"/>
<circle cx="399.4" cy="383.6" r="1.4" fill="#10508c"/>
<circle cx="402.3" cy="384.4" r="1.4" fill="#10508c"/>
<circle cx="405.8" cy="383.8" r="1.4" fill="#10508c"/>
<circle cx="408.7" cy="383.6" r="1.4" fill="#10508c"/>
<circle cx="402.5" cy="385.9" r="1.4" fill="#10508c"/>
<line x1="352.2" y1="388.2" x2="415.7" y2="388.2" stroke="#303030" stroke-width="1.6" />
<text x="367.2" y="397.7" font-size="10" text-anchor="end" fill="#111" stroke="#111" stroke-width="0.1" textLength="15.5" lengthAdjust="spacingAndGlyphs" transform="rotate(-45 367.2 397.7)" >TCD</text>
<text x="385.7" y="397.7" font-size="10" text-anchor="end" fill="#111" stroke="#111" stroke-width="0.1" textLength="12.2" lengthAdjust="spacingAndGlyphs" transform="rotate(-45 385.7 397.7)" >WT</text>
<text x="404.6" y="397.7" font-size="10" text-anchor="end" fill="#111" stroke="#111" stroke-width="0.05" transform="rotate(-45 404.6 397.7)" ><tspan font-style="italic" textLength="17.5" lengthAdjust="spacingAndGlyphs">Ifnlr1</tspan><tspan font-size="5.5" dy="-3.4">−/−</tspan></text>
<line x1="449.8" y1="294.6" x2="449.8" y2="388.5" stroke="#303030" stroke-width="1.6" />
<line x1="447.3" y1="388.5" x2="449.8" y2="388.5" stroke="#303030" stroke-width="1.1" />
<text x="444.7" y="391.6" font-size="9" text-anchor="end" fill="#111" stroke="#111" stroke-width="0.1" textLength="4.4" lengthAdjust="spacingAndGlyphs" >0</text>
<line x1="447.3" y1="369.6" x2="449.8" y2="369.6" stroke="#303030" stroke-width="1.1" />
<text x="444.7" y="372.8" font-size="9" text-anchor="end" fill="#111" stroke="#111" stroke-width="0.1" textLength="8.8" lengthAdjust="spacingAndGlyphs" >10</text>
<line x1="447.3" y1="351" x2="449.8" y2="351" stroke="#303030" stroke-width="1.1" />
<text x="444.7" y="354.1" font-size="9" text-anchor="end" fill="#111" stroke="#111" stroke-width="0.1" textLength="8.8" lengthAdjust="spacingAndGlyphs" >20</text>
<line x1="447.3" y1="332.1" x2="449.8" y2="332.1" stroke="#303030" stroke-width="1.1" />
<text x="444.7" y="335.2" font-size="9" text-anchor="end" fill="#111" stroke="#111" stroke-width="0.1" textLength="8.8" lengthAdjust="spacingAndGlyphs" >30</text>
<line x1="447.3" y1="313.5" x2="449.8" y2="313.5" stroke="#303030" stroke-width="1.1" />
<text x="444.7" y="316.6" font-size="9" text-anchor="end" fill="#111" stroke="#111" stroke-width="0.1" textLength="8.8" lengthAdjust="spacingAndGlyphs" >40</text>
<line x1="447.3" y1="294.6" x2="449.8" y2="294.6" stroke="#303030" stroke-width="1.1" />
<text x="444.7" y="297.8" font-size="9" text-anchor="end" fill="#111" stroke="#111" stroke-width="0.1" textLength="8.8" lengthAdjust="spacingAndGlyphs" >50</text>
<text x="429.5" y="339" font-size="9.3" text-anchor="middle" fill="#111" stroke="#111" stroke-width="0.1" textLength="49" lengthAdjust="spacingAndGlyphs" transform="rotate(-90 429.5 339)" >IL-17A (pg/mL)</text>
<rect x="453.9" y="376.2" width="14.8" height="12.3" fill="none" stroke="#2fb34a" stroke-width="1.1" />
<line x1="461.3" y1="376.2" x2="461.3" y2="373.2" stroke="#2fb34a" stroke-width="1.1" />
<line x1="457.8" y1="373.2" x2="464.8" y2="373.2" stroke="#2fb34a" stroke-width="1.1" />
<circle cx="459.3" cy="365.1" r="1.4" fill="#2fb34a"/>
<circle cx="463.1" cy="368.2" r="1.4" fill="#2fb34a"/>
<circle cx="465.5" cy="366" r="1.4" fill="#2fb34a"/>
<circle cx="459.3" cy="371.4" r="1.4" fill="#2fb34a"/>
<circle cx="455.4" cy="377" r="1.4" fill="#2fb34a"/>
<circle cx="459.5" cy="378" r="1.4" fill="#2fb34a"/>
<circle cx="467.6" cy="377.4" r="1.4" fill="#2fb34a"/>
<circle cx="463.1" cy="379.8" r="1.4" fill="#2fb34a"/>
<circle cx="459.3" cy="388.5" r="1.4" fill="#2fb34a"/>
<circle cx="463.4" cy="387.5" r="1.4" fill="#2fb34a"/>
<rect x="473.5" y="364.3" width="14.5" height="24.2" fill="none" stroke="#c8102e" stroke-width="1.1" />
<line x1="480.7" y1="364.3" x2="480.7" y2="361.3" stroke="#c8102e" stroke-width="1.1" />
<line x1="477.2" y1="361.3" x2="484.2" y2="361.3" stroke="#c8102e" stroke-width="1.1" />
<circle cx="480.6" cy="325.3" r="1.4" fill="#c8102e"/>
<circle cx="480.6" cy="330.9" r="1.4" fill="#c8102e"/>
<circle cx="480.6" cy="342.2" r="1.4" fill="#c8102e"/>
<circle cx="480.6" cy="348.2" r="1.4" fill="#c8102e"/>
<circle cx="478.3" cy="354.7" r="1.4" fill="#c8102e"/>
<circle cx="482.4" cy="356.7" r="1.4" fill="#c8102e"/>
<circle cx="480.6" cy="362.5" r="1.4" fill="#c8102e"/>
<circle cx="475" cy="365.1" r="1.4" fill="#c8102e"/>
<circle cx="478" cy="366.6" r="1.4" fill="#c8102e"/>
<circle cx="481.2" cy="367.8" r="1.4" fill="#c8102e"/>
<circle cx="484.6" cy="366" r="1.4" fill="#c8102e"/>
<circle cx="486.7" cy="364.8" r="1.4" fill="#c8102e"/>
<circle cx="479.2" cy="369" r="1.4" fill="#c8102e"/>
<circle cx="482.8" cy="370.2" r="1.4" fill="#c8102e"/>
<circle cx="474.4" cy="373.2" r="1.4" fill="#c8102e"/>
<circle cx="478.6" cy="372.6" r="1.4" fill="#c8102e"/>
<circle cx="482.2" cy="373.2" r="1.4" fill="#c8102e"/>
<circle cx="487" cy="375.6" r="1.4" fill="#c8102e"/>
<circle cx="476.8" cy="378.9" r="1.4" fill="#c8102e"/>
<circle cx="482.8" cy="377.4" r="1.4" fill="#c8102e"/>
<circle cx="484.6" cy="379.8" r="1.4" fill="#c8102e"/>
<circle cx="480.4" cy="383" r="1.4" fill="#c8102e"/>
<rect x="492.9" y="364.6" width="14.7" height="23.9" fill="none" stroke="#10508c" stroke-width="1.1" />
<line x1="500.2" y1="364.6" x2="500.2" y2="361.5" stroke="#10508c" stroke-width="1.1" />
<line x1="496.7" y1="361.5" x2="503.7" y2="361.5" stroke="#10508c" stroke-width="1.1" />
<circle cx="499.8" cy="313.3" r="1.4" fill="#10508c"/>
<circle cx="499.8" cy="349.1" r="1.4" fill="#10508c"/>
<circle cx="499.8" cy="355.1" r="1.4" fill="#10508c"/>
<circle cx="501.9" cy="357.1" r="1.4" fill="#10508c"/>
<circle cx="494.1" cy="361.3" r="1.4" fill="#10508c"/>
<circle cx="497.7" cy="360.1" r="1.4" fill="#10508c"/>
<circle cx="502.5" cy="362.5" r="1.4" fill="#10508c"/>
<circle cx="505.8" cy="362.2" r="1.4" fill="#10508c"/>
<circle cx="495.9" cy="365.4" r="1.4" fill="#10508c"/>
<circle cx="498.9" cy="364.8" r="1.4" fill="#10508c"/>
<circle cx="501.9" cy="365.1" r="1.4" fill="#10508c"/>
<circle cx="504.8" cy="367.2" r="1.4" fill="#10508c"/>
<circle cx="495.3" cy="368.4" r="1.4" fill="#10508c"/>
<circle cx="498.3" cy="369" r="1.4" fill="#10508c"/>
<circle cx="501.3" cy="368.4" r="1.4" fill="#10508c"/>
<circle cx="503.9" cy="369" r="1.4" fill="#10508c"/>
<circle cx="493.5" cy="371.4" r="1.4" fill="#10508c"/>
<circle cx="497.1" cy="372" r="1.4" fill="#10508c"/>
<circle cx="500.1" cy="371.8" r="1.4" fill="#10508c"/>
<circle cx="503.1" cy="372" r="1.4" fill="#10508c"/>
<circle cx="506" cy="370.2" r="1.4" fill="#10508c"/>
<circle cx="495.9" cy="375.6" r="1.4" fill="#10508c"/>
<circle cx="500.1" cy="373.8" r="1.4" fill="#10508c"/>
<circle cx="503.7" cy="376.2" r="1.4" fill="#10508c"/>
<circle cx="499.5" cy="378.6" r="1.4" fill="#10508c"/>
<circle cx="504.3" cy="377.7" r="1.4" fill="#10508c"/>
<line x1="449.8" y1="388.5" x2="512.3" y2="388.5" stroke="#303030" stroke-width="1.6" />
<line x1="454.2" y1="294.2" x2="488.7" y2="294.2" stroke="#303030" stroke-width="1.2" />
<text x="471" y="295.3" font-size="9.2" text-anchor="middle" fill="#111" stroke="#111" stroke-width="0.1" textLength="3.2" lengthAdjust="spacingAndGlyphs" >*</text>
<line x1="454.2" y1="300" x2="505.6" y2="300" stroke="#303030" stroke-width="1.2" />
<text x="481.2" y="301.1" font-size="9.2" text-anchor="middle" fill="#111" stroke="#111" stroke-width="0.1" textLength="3.2" lengthAdjust="spacingAndGlyphs" >*</text>
<text x="463.9" y="398" font-size="10" text-anchor="end" fill="#111" stroke="#111" stroke-width="0.1" textLength="15.5" lengthAdjust="spacingAndGlyphs" transform="rotate(-45 463.9 398)" >TCD</text>
<text x="483.1" y="398" font-size="10" text-anchor="end" fill="#111" stroke="#111" stroke-width="0.1" textLength="12.2" lengthAdjust="spacingAndGlyphs" transform="rotate(-45 483.1 398)" >WT</text>
<text x="501.1" y="398" font-size="10" text-anchor="end" fill="#111" stroke="#111" stroke-width="0.05" transform="rotate(-45 501.1 398)" ><tspan font-style="italic" textLength="17.5" lengthAdjust="spacingAndGlyphs">Ifnlr1</tspan><tspan font-size="5.5" dy="-3.4">−/−</tspan></text>
<text x="13.6" y="429.3" font-size="11.5" text-anchor="start" fill="#000" font-weight="bold" >G</text>
<text x="57.5" y="434.2" font-size="10.5" text-anchor="middle" fill="#111" textLength="27.8" lengthAdjust="spacingAndGlyphs" >Serum</text>
<line x1="40.5" y1="445.8" x2="40.5" y2="537.5" stroke="#303030" stroke-width="1.6" />
<line x1="38" y1="537.5" x2="40.5" y2="537.5" stroke="#303030" stroke-width="1.1" />
<text x="35.4" y="540.6" font-size="9" text-anchor="end" fill="#111" stroke="#111" stroke-width="0.1" textLength="4.4" lengthAdjust="spacingAndGlyphs" >0</text>
<line x1="38" y1="514.4" x2="40.5" y2="514.4" stroke="#303030" stroke-width="1.1" />
<text x="35.4" y="517.5" font-size="9" text-anchor="end" fill="#111" stroke="#111" stroke-width="0.1" textLength="13.2" lengthAdjust="spacingAndGlyphs" >100</text>
<line x1="38" y1="491.8" x2="40.5" y2="491.8" stroke="#303030" stroke-width="1.1" />
<text x="35.4" y="494.9" font-size="9" text-anchor="end" fill="#111" stroke="#111" stroke-width="0.1" textLength="13.2" lengthAdjust="spacingAndGlyphs" >200</text>
<line x1="38" y1="468.8" x2="40.5" y2="468.8" stroke="#303030" stroke-width="1.1" />
<text x="35.4" y="471.9" font-size="9" text-anchor="end" fill="#111" stroke="#111" stroke-width="0.1" textLength="13.2" lengthAdjust="spacingAndGlyphs" >300</text>
<line x1="38" y1="445.8" x2="40.5" y2="445.8" stroke="#303030" stroke-width="1.1" />
<text x="35.4" y="448.9" font-size="9" text-anchor="end" fill="#111" stroke="#111" stroke-width="0.1" textLength="13.2" lengthAdjust="spacingAndGlyphs" >400</text>
<text x="14.5" y="491" font-size="9.3" text-anchor="middle" fill="#111" stroke="#111" stroke-width="0.1" textLength="55" lengthAdjust="spacingAndGlyphs" transform="rotate(-90 14.5 491)" >IL-28A/B (pg/mL)</text>
<rect x="46.1" y="494.2" width="9.6" height="43.2" fill="none" stroke="#c8102e" stroke-width="1.1" />
<line x1="50.9" y1="494.2" x2="50.9" y2="487.5" stroke="#c8102e" stroke-width="1.1" />
<line x1="48.1" y1="487.5" x2="53.7" y2="487.5" stroke="#c8102e" stroke-width="1.1" />
<circle cx="51.2" cy="460.8" r="1.4" fill="#c8102e"/>
<circle cx="51.2" cy="480" r="1.4" fill="#c8102e"/>
<circle cx="48.8" cy="489.2" r="1.4" fill="#c8102e"/>
<circle cx="53.8" cy="491.2" r="1.4" fill="#c8102e"/>
<circle cx="51.2" cy="503" r="1.4" fill="#c8102e"/>
<circle cx="48.8" cy="518.8" r="1.4" fill="#c8102e"/>
<circle cx="53.2" cy="518.8" r="1.4" fill="#c8102e"/>
<rect x="60.1" y="515" width="9.3" height="22.5" fill="none" stroke="#10508c" stroke-width="1.1" />
<line x1="64.8" y1="515" x2="64.8" y2="509.5" stroke="#10508c" stroke-width="1.1" />
<line x1="62" y1="509.5" x2="67.5" y2="509.5" stroke="#10508c" stroke-width="1.1" />
<circle cx="64.5" cy="493.8" r="1.4" fill="#10508c"/>
<circle cx="64.5" cy="509.5" r="1.4" fill="#10508c"/>
<circle cx="62" cy="512.5" r="1.4" fill="#10508c"/>
<circle cx="67.5" cy="512.5" r="1.4" fill="#10508c"/>
<circle cx="64.5" cy="515.5" r="1.4" fill="#10508c"/>
<circle cx="61.2" cy="516.2" r="1.4" fill="#10508c"/>
<circle cx="64.5" cy="520.5" r="1.4" fill="#10508c"/>
<circle cx="61.2" cy="525" r="1.4" fill="#10508c"/>
<circle cx="67" cy="525" r="1.4" fill="#10508c"/>
<line x1="40.5" y1="537.5" x2="75" y2="537.5" stroke="#303030" stroke-width="1.6" />
<line x1="45.8" y1="445.8" x2="65.8" y2="445.8" stroke="#303030" stroke-width="1.2" />
<text x="55.5" y="446.9" font-size="9.2" text-anchor="middle" fill="#111" stroke="#111" stroke-width="0.1" textLength="3.2" lengthAdjust="spacingAndGlyphs" >*</text>
<text x="54.5" y="544.3" font-size="10" text-anchor="end" fill="#111" stroke="#111" stroke-width="0.1" textLength="19.5" lengthAdjust="spacingAndGlyphs" transform="rotate(-45 54.5 544.3)" >Naive</text>
<text x="68.3" y="544.3" font-size="10" text-anchor="end" fill="#111" stroke="#111" stroke-width="0.1" textLength="12.5" lengthAdjust="spacingAndGlyphs" transform="rotate(-45 68.3 544.3)" >TBI</text>
<text x="141.2" y="434.2" font-size="10.5" text-anchor="middle" fill="#111" textLength="8.9" lengthAdjust="spacingAndGlyphs" >SI</text>
<line x1="123.2" y1="449.2" x2="123.2" y2="537.5" stroke="#303030" stroke-width="1.6" />
<line x1="120.8" y1="537.5" x2="123.2" y2="537.5" stroke="#303030" stroke-width="1.1" />
<text x="118.2" y="540.6" font-size="9" text-anchor="end" fill="#111" stroke="#111" stroke-width="0.1" textLength="4.4" lengthAdjust="spacingAndGlyphs" >0</text>
<line x1="120.8" y1="508" x2="123.2" y2="508" stroke="#303030" stroke-width="1.1" />
<text x="118.2" y="511.1" font-size="9" text-anchor="end" fill="#111" stroke="#111" stroke-width="0.1" textLength="17.6" lengthAdjust="spacingAndGlyphs" >2000</text>
<line x1="120.8" y1="478.8" x2="123.2" y2="478.8" stroke="#303030" stroke-width="1.1" />
<text x="118.2" y="481.9" font-size="9" text-anchor="end" fill="#111" stroke="#111" stroke-width="0.1" textLength="17.6" lengthAdjust="spacingAndGlyphs" >4000</text>
<line x1="120.8" y1="449.2" x2="123.2" y2="449.2" stroke="#303030" stroke-width="1.1" />
<text x="118.2" y="452.4" font-size="9" text-anchor="end" fill="#111" stroke="#111" stroke-width="0.1" textLength="17.6" lengthAdjust="spacingAndGlyphs" >6000</text>
<text x="96.3" y="492" font-size="9.3" text-anchor="middle" fill="#111" stroke="#111" stroke-width="0.1" textLength="51" lengthAdjust="spacingAndGlyphs" transform="rotate(-90 96.3 492)" >IL-28A/B (pg/g)</text>
<rect x="130.7" y="505.3" width="8.9" height="32.2" fill="none" stroke="#c8102e" stroke-width="1.1" />
<line x1="135.1" y1="505.3" x2="135.1" y2="496.8" stroke="#c8102e" stroke-width="1.1" />
<line x1="132.3" y1="496.8" x2="137.9" y2="496.8" stroke="#c8102e" stroke-width="1.1" />
<circle cx="135" cy="449.2" r="1.4" fill="#c8102e"/>
<circle cx="135" cy="496.8" r="1.4" fill="#c8102e"/>
<circle cx="135" cy="504.7" r="1.4" fill="#c8102e"/>
<circle cx="137" cy="508" r="1.4" fill="#c8102e"/>
<circle cx="133" cy="510.7" r="1.4" fill="#c8102e"/>
<circle cx="138.7" cy="511.2" r="1.4" fill="#c8102e"/>
<circle cx="131.2" cy="513.7" r="1.4" fill="#c8102e"/>
<circle cx="135" cy="515.3" r="1.4" fill="#c8102e"/>
<circle cx="135" cy="533" r="1.4" fill="#c8102e"/>
<rect x="144" y="524.4" width="9" height="13.1" fill="none" stroke="#10508c" stroke-width="1.1" />
<line x1="148.5" y1="524.4" x2="148.5" y2="523.1" stroke="#10508c" stroke-width="1.1" />
<line x1="145.7" y1="523.1" x2="151.3" y2="523.1" stroke="#10508c" stroke-width="1.1" />
<circle cx="146.4" cy="519.1" r="1.4" fill="#10508c"/>
<circle cx="150.6" cy="518.3" r="1.4" fill="#10508c"/>
<circle cx="145.8" cy="523.5" r="1.4" fill="#10508c"/>
<circle cx="148.2" cy="522.8" r="1.4" fill="#10508c"/>
<circle cx="150.8" cy="523.5" r="1.4" fill="#10508c"/>
<circle cx="148.5" cy="533" r="1.4" fill="#10508c"/>
<line x1="123.2" y1="537.5" x2="153.8" y2="537.5" stroke="#303030" stroke-width="1.6" />
<line x1="130" y1="446.2" x2="150" y2="446.2" stroke="#303030" stroke-width="1.2" />
<text x="140" y="447.4" font-size="9.2" text-anchor="middle" fill="#111" stroke="#111" stroke-width="0.1" textLength="6.4" lengthAdjust="spacingAndGlyphs" >**</text>
<text x="138.5" y="544.3" font-size="10" text-anchor="end" fill="#111" stroke="#111" stroke-width="0.1" textLength="19.5" lengthAdjust="spacingAndGlyphs" transform="rotate(-45 138.5 544.3)" >Naive</text>
<text x="151.8" y="544.3" font-size="10" text-anchor="end" fill="#111" stroke="#111" stroke-width="0.1" textLength="12.5" lengthAdjust="spacingAndGlyphs" transform="rotate(-45 151.8 544.3)" >TBI</text>
<text x="205.5" y="434.2" font-size="10.5" text-anchor="middle" fill="#111" textLength="24.7" lengthAdjust="spacingAndGlyphs" >Colon</text>
<line x1="187.5" y1="445.8" x2="187.5" y2="537.5" stroke="#303030" stroke-width="1.6" />
<line x1="185" y1="537.5" x2="187.5" y2="537.5" stroke="#303030" stroke-width="1.1" />
<text x="182.4" y="540.6" font-size="9" text-anchor="end" fill="#111" stroke="#111" stroke-width="0.1" textLength="4.4" lengthAdjust="spacingAndGlyphs" >0</text>
<line x1="185" y1="507" x2="187.5" y2="507" stroke="#303030" stroke-width="1.1" />
<text x="182.4" y="510.1" font-size="9" text-anchor="end" fill="#111" stroke="#111" stroke-width="0.1" textLength="13.2" lengthAdjust="spacingAndGlyphs" >500</text>
<line x1="185" y1="476.2" x2="187.5" y2="476.2" stroke="#303030" stroke-width="1.1" />
<text x="182.4" y="479.4" font-size="9" text-anchor="end" fill="#111" stroke="#111" stroke-width="0.1" textLength="17.6" lengthAdjust="spacingAndGlyphs" >1000</text>
<line x1="185" y1="445.8" x2="187.5" y2="445.8" stroke="#303030" stroke-width="1.1" />
<text x="182.4" y="448.9" font-size="9" text-anchor="end" fill="#111" stroke="#111" stroke-width="0.1" textLength="17.6" lengthAdjust="spacingAndGlyphs" >1500</text>
<rect x="193.8" y="518" width="9.3" height="19.5" fill="none" stroke="#c8102e" stroke-width="1.1" />
<line x1="198.5" y1="518" x2="198.5" y2="507" stroke="#c8102e" stroke-width="1.1" />
<line x1="195.7" y1="507" x2="201.3" y2="507" stroke="#c8102e" stroke-width="1.1" />
<circle cx="196.8" cy="461.2" r="1.4" fill="#c8102e"/>
<circle cx="200.8" cy="465.5" r="1.4" fill="#c8102e"/>
<circle cx="198.8" cy="523.8" r="1.4" fill="#c8102e"/>
<circle cx="198.8" cy="530" r="1.4" fill="#c8102e"/>
<circle cx="195.5" cy="534.8" r="1.4" fill="#c8102e"/>
<circle cx="197.5" cy="536" r="1.4" fill="#c8102e"/>
<circle cx="199.5" cy="535" r="1.4" fill="#c8102e"/>
<circle cx="201.5" cy="536" r="1.4" fill="#c8102e"/>
<circle cx="203" cy="534.8" r="1.4" fill="#c8102e"/>
<circle cx="198.5" cy="533.8" r="1.4" fill="#c8102e"/>
<rect x="207.6" y="522.5" width="9.3" height="15" fill="none" stroke="#10508c" stroke-width="1.1" />
<line x1="212.2" y1="522.5" x2="212.2" y2="513.8" stroke="#10508c" stroke-width="1.1" />
<line x1="209.4" y1="513.8" x2="215.1" y2="513.8" stroke="#10508c" stroke-width="1.1" />
<circle cx="212" cy="475" r="1.4" fill="#10508c"/>
<circle cx="212" cy="487" r="1.4" fill="#10508c"/>
<circle cx="212.3" cy="522.5" r="1.4" fill="#10508c"/>
<circle cx="209.5" cy="535.5" r="1.4" fill="#10508c"/>
<circle cx="212.5" cy="536" r="1.4" fill="#10508c"/>
<circle cx="215.5" cy="535.5" r="1.4" fill="#10508c"/>
<line x1="187.5" y1="537.5" x2="223.2" y2="537.5" stroke="#303030" stroke-width="1.6" />
<text x="201.5" y="544.3" font-size="10" text-anchor="end" fill="#111" stroke="#111" stroke-width="0.1" textLength="19.5" lengthAdjust="spacingAndGlyphs" transform="rotate(-45 201.5 544.3)" >Naive</text>
<text x="214.3" y="544.3" font-size="10" text-anchor="end" fill="#111" stroke="#111" stroke-width="0.1" textLength="12.5" lengthAdjust="spacingAndGlyphs" transform="rotate(-45 214.3 544.3)" >TBI</text>
<text x="230.3" y="428.8" font-size="11.5" text-anchor="start" fill="#000" font-weight="bold" >H</text>
<text x="307.5" y="434.2" font-size="10.5" text-anchor="middle" fill="#111" textLength="27.8" lengthAdjust="spacingAndGlyphs" >Serum</text>
<line x1="271" y1="448" x2="271" y2="537.5" stroke="#303030" stroke-width="1.6" />
<line x1="268.5" y1="537.5" x2="271" y2="537.5" stroke="#303030" stroke-width="1.1" />
<text x="265.9" y="540.6" font-size="9" text-anchor="end" fill="#111" stroke="#111" stroke-width="0.1" textLength="4.4" lengthAdjust="spacingAndGlyphs" >0</text>
<line x1="268.5" y1="515.5" x2="271" y2="515.5" stroke="#303030" stroke-width="1.1" />
<text x="265.9" y="518.6" font-size="9" text-anchor="end" fill="#111" stroke="#111" stroke-width="0.1" textLength="13.2" lengthAdjust="spacingAndGlyphs" >100</text>
<line x1="268.5" y1="493" x2="271" y2="493" stroke="#303030" stroke-width="1.1" />
<text x="265.9" y="496.1" font-size="9" text-anchor="end" fill="#111" stroke="#111" stroke-width="0.1" textLength="13.2" lengthAdjust="spacingAndGlyphs" >200</text>
<line x1="268.5" y1="470.8" x2="271" y2="470.8" stroke="#303030" stroke-width="1.1" />
<text x="265.9" y="473.9" font-size="9" text-anchor="end" fill="#111" stroke="#111" stroke-width="0.1" textLength="13.2" lengthAdjust="spacingAndGlyphs" >300</text>
<line x1="268.5" y1="448" x2="271" y2="448" stroke="#303030" stroke-width="1.1" />
<text x="265.9" y="451.1" font-size="9" text-anchor="end" fill="#111" stroke="#111" stroke-width="0.1" textLength="13.2" lengthAdjust="spacingAndGlyphs" >400</text>
<text x="248.3" y="496" font-size="9.3" text-anchor="middle" fill="#111" stroke="#111" stroke-width="0.1" textLength="60.8" lengthAdjust="spacingAndGlyphs" transform="rotate(-90 248.3 496)" >IL-28A/B (pg/mL)</text>
<line x1="271" y1="537.5" x2="342.5" y2="537.5" stroke="#303030" stroke-width="1.6" />
<line x1="285.5" y1="537.5" x2="285.5" y2="540" stroke="#303030" stroke-width="1.1" />
<text x="285.5" y="549.6" font-size="9" text-anchor="middle" fill="#111" stroke="#111" stroke-width="0.1" textLength="4.4" lengthAdjust="spacingAndGlyphs" >1</text>
<line x1="306.8" y1="537.5" x2="306.8" y2="540" stroke="#303030" stroke-width="1.1" />
<text x="306.8" y="549.6" font-size="9" text-anchor="middle" fill="#111" stroke="#111" stroke-width="0.1" textLength="4.4" lengthAdjust="spacingAndGlyphs" >3</text>
<line x1="328" y1="537.5" x2="328" y2="540" stroke="#303030" stroke-width="1.1" />
<text x="328" y="549.6" font-size="9" text-anchor="middle" fill="#111" stroke="#111" stroke-width="0.1" textLength="4.4" lengthAdjust="spacingAndGlyphs" >7</text>
<text x="305.4" y="559.4" font-size="9" text-anchor="middle" fill="#111" stroke="#111" stroke-width="0.1" textLength="68.2" lengthAdjust="spacingAndGlyphs" >Days post-transplant</text>
<line x1="271" y1="495" x2="341.2" y2="495" stroke="#222" stroke-width="1.1" stroke-dasharray="2.2,1.6"/>
<text x="342.5" y="498" font-size="8.5" text-anchor="start" fill="#111" stroke="#111" stroke-width="0.1" textLength="18.8" lengthAdjust="spacingAndGlyphs" >Naive</text>
<line x1="285.5" y1="512" x2="285.5" y2="518" stroke="#10508c" stroke-width="1" />
<line x1="284" y1="512" x2="287" y2="512" stroke="#10508c" stroke-width="1" />
<line x1="284" y1="518" x2="287" y2="518" stroke="#10508c" stroke-width="1" />
<line x1="285.5" y1="520" x2="285.5" y2="525" stroke="#c8102e" stroke-width="1" />
<line x1="284" y1="520" x2="287" y2="520" stroke="#c8102e" stroke-width="1" />
<line x1="284" y1="525" x2="287" y2="525" stroke="#c8102e" stroke-width="1" />
<line x1="306.8" y1="510.2" x2="306.8" y2="516.2" stroke="#10508c" stroke-width="1" />
<line x1="305.2" y1="510.2" x2="308.2" y2="510.2" stroke="#10508c" stroke-width="1" />
<line x1="305.2" y1="516.2" x2="308.2" y2="516.2" stroke="#10508c" stroke-width="1" />
<line x1="306.8" y1="517.5" x2="306.8" y2="522.5" stroke="#c8102e" stroke-width="1" />
<line x1="305.2" y1="517.5" x2="308.2" y2="517.5" stroke="#c8102e" stroke-width="1" />
<line x1="305.2" y1="522.5" x2="308.2" y2="522.5" stroke="#c8102e" stroke-width="1" />
<line x1="328" y1="509" x2="328" y2="515" stroke="#10508c" stroke-width="1" />
<line x1="326.5" y1="509" x2="329.5" y2="509" stroke="#10508c" stroke-width="1" />
<line x1="326.5" y1="515" x2="329.5" y2="515" stroke="#10508c" stroke-width="1" />
<line x1="328" y1="518.8" x2="328" y2="523.8" stroke="#c8102e" stroke-width="1" />
<line x1="326.5" y1="518.8" x2="329.5" y2="518.8" stroke="#c8102e" stroke-width="1" />
<line x1="326.5" y1="523.8" x2="329.5" y2="523.8" stroke="#c8102e" stroke-width="1" />
<polyline points="285.5,515 306.8,513.2 328,512" stroke="#10508c" stroke-width="1.5" fill="none" stroke-linejoin="round" />
<polyline points="285.5,522.5 306.8,520 328,521.2" stroke="#c8102e" stroke-width="1.5" fill="none" stroke-linejoin="round" />
<circle cx="285.5" cy="515" r="1.4" fill="#10508c"/>
<circle cx="285.5" cy="522.5" r="1.4" fill="#c8102e"/>
<circle cx="306.8" cy="513.2" r="1.4" fill="#10508c"/>
<circle cx="306.8" cy="520" r="1.4" fill="#c8102e"/>
<circle cx="328" cy="512" r="1.4" fill="#10508c"/>
<circle cx="328" cy="521.2" r="1.4" fill="#c8102e"/>
<text x="441.2" y="434" font-size="10.5" text-anchor="middle" fill="#111" textLength="8.9" lengthAdjust="spacingAndGlyphs" >SI</text>
<line x1="405.2" y1="448.5" x2="405.2" y2="537.6" stroke="#303030" stroke-width="1.6" />
<line x1="402.7" y1="537.6" x2="405.2" y2="537.6" stroke="#303030" stroke-width="1.1" />
<text x="400.1" y="540.8" font-size="9" text-anchor="end" fill="#111" stroke="#111" stroke-width="0.1" textLength="4.4" lengthAdjust="spacingAndGlyphs" >0</text>
<line x1="402.7" y1="519.4" x2="405.2" y2="519.4" stroke="#303030" stroke-width="1.1" />
<text x="400.1" y="522.5" font-size="9" text-anchor="end" fill="#111" stroke="#111" stroke-width="0.1" textLength="17.6" lengthAdjust="spacingAndGlyphs" >1000</text>
<line x1="402.7" y1="501.8" x2="405.2" y2="501.8" stroke="#303030" stroke-width="1.1" />
<text x="400.1" y="504.9" font-size="9" text-anchor="end" fill="#111" stroke="#111" stroke-width="0.1" textLength="17.6" lengthAdjust="spacingAndGlyphs" >2000</text>
<line x1="402.7" y1="483.9" x2="405.2" y2="483.9" stroke="#303030" stroke-width="1.1" />
<text x="400.1" y="487" font-size="9" text-anchor="end" fill="#111" stroke="#111" stroke-width="0.1" textLength="17.6" lengthAdjust="spacingAndGlyphs" >3000</text>
<line x1="402.7" y1="466.3" x2="405.2" y2="466.3" stroke="#303030" stroke-width="1.1" />
<text x="400.1" y="469.4" font-size="9" text-anchor="end" fill="#111" stroke="#111" stroke-width="0.1" textLength="17.6" lengthAdjust="spacingAndGlyphs" >4000</text>
<line x1="402.7" y1="448.5" x2="405.2" y2="448.5" stroke="#303030" stroke-width="1.1" />
<text x="400.1" y="451.6" font-size="9" text-anchor="end" fill="#111" stroke="#111" stroke-width="0.1" textLength="17.6" lengthAdjust="spacingAndGlyphs" >5000</text>
<text x="376.3" y="490" font-size="9.3" text-anchor="middle" fill="#111" stroke="#111" stroke-width="0.1" textLength="48.8" lengthAdjust="spacingAndGlyphs" transform="rotate(-90 376.3 490)" >IL-28A/B (pg/g)</text>
<line x1="405.2" y1="537.6" x2="477.3" y2="537.6" stroke="#303030" stroke-width="1.6" />
<line x1="419.6" y1="537.6" x2="419.6" y2="540.1" stroke="#303030" stroke-width="1.1" />
<text x="419.6" y="550.2" font-size="9" text-anchor="middle" fill="#111" stroke="#111" stroke-width="0.1" textLength="4.4" lengthAdjust="spacingAndGlyphs" >1</text>
<line x1="441.2" y1="537.6" x2="441.2" y2="540.1" stroke="#303030" stroke-width="1.1" />
<text x="441.2" y="550.2" font-size="9" text-anchor="middle" fill="#111" stroke="#111" stroke-width="0.1" textLength="4.4" lengthAdjust="spacingAndGlyphs" >3</text>
<line x1="462.3" y1="537.6" x2="462.3" y2="540.1" stroke="#303030" stroke-width="1.1" />
<text x="462.3" y="550.2" font-size="9" text-anchor="middle" fill="#111" stroke="#111" stroke-width="0.1" textLength="4.4" lengthAdjust="spacingAndGlyphs" >7</text>
<text x="439.9" y="560.4" font-size="9" text-anchor="middle" fill="#111" stroke="#111" stroke-width="0.1" textLength="67.8" lengthAdjust="spacingAndGlyphs" >Days post-transplant</text>
<line x1="405.2" y1="497.5" x2="476.7" y2="497.5" stroke="#222" stroke-width="1.1" stroke-dasharray="2.2,1.6"/>
<text x="478.2" y="500.5" font-size="8.5" text-anchor="start" fill="#111" stroke="#111" stroke-width="0.1" textLength="18.7" lengthAdjust="spacingAndGlyphs" >Naive</text>
<line x1="419.6" y1="498" x2="419.6" y2="506.7" stroke="#c8102e" stroke-width="1" />
<line x1="418" y1="498" x2="421.2" y2="498" stroke="#c8102e" stroke-width="1" />
<line x1="418" y1="506.7" x2="421.2" y2="506.7" stroke="#c8102e" stroke-width="1" />
<line x1="419.6" y1="506.1" x2="419.6" y2="516.8" stroke="#10508c" stroke-width="1" />
<line x1="418" y1="506.1" x2="421.2" y2="506.1" stroke="#10508c" stroke-width="1" />
<line x1="418" y1="516.8" x2="421.2" y2="516.8" stroke="#10508c" stroke-width="1" />
<line x1="441.2" y1="471.2" x2="441.2" y2="502.4" stroke="#c8102e" stroke-width="1" />
<line x1="439.6" y1="471.2" x2="442.9" y2="471.2" stroke="#c8102e" stroke-width="1" />
<line x1="439.6" y1="502.4" x2="442.9" y2="502.4" stroke="#c8102e" stroke-width="1" />
<line x1="441.2" y1="496.6" x2="441.2" y2="513.1" stroke="#10508c" stroke-width="1" />
<line x1="439.6" y1="496.6" x2="442.9" y2="496.6" stroke="#10508c" stroke-width="1" />
<line x1="439.6" y1="513.1" x2="442.9" y2="513.1" stroke="#10508c" stroke-width="1" />
<line x1="462.3" y1="504.4" x2="462.3" y2="518.3" stroke="#c8102e" stroke-width="1" />
<line x1="460.7" y1="504.4" x2="463.9" y2="504.4" stroke="#c8102e" stroke-width="1" />
<line x1="460.7" y1="518.3" x2="463.9" y2="518.3" stroke="#c8102e" stroke-width="1" />
<line x1="462.3" y1="462" x2="462.3" y2="487.4" stroke="#10508c" stroke-width="1" />
<line x1="460.7" y1="462" x2="463.9" y2="462" stroke="#10508c" stroke-width="1" />
<line x1="460.7" y1="487.4" x2="463.9" y2="487.4" stroke="#10508c" stroke-width="1" />
<polyline points="419.6,502.4 441.2,486.5 462.3,511.6" stroke="#c8102e" stroke-width="1.5" fill="none" stroke-linejoin="round" />
<polyline points="419.6,511.9 441.2,504.4 462.3,475" stroke="#10508c" stroke-width="1.5" fill="none" stroke-linejoin="round" />
<circle cx="419.6" cy="502.4" r="1.5" fill="#c8102e"/>
<circle cx="419.6" cy="511.9" r="1.5" fill="#10508c"/>
<circle cx="441.2" cy="486.5" r="1.5" fill="#c8102e"/>
<circle cx="441.2" cy="504.4" r="1.5" fill="#10508c"/>
<circle cx="462.3" cy="511.6" r="1.5" fill="#c8102e"/>
<circle cx="462.3" cy="475" r="1.5" fill="#10508c"/>
<text x="463.7" y="456" font-size="9.2" text-anchor="middle" fill="#111" stroke="#111" stroke-width="0.1" textLength="3.2" lengthAdjust="spacingAndGlyphs" >*</text>
<line x1="479" y1="458.3" x2="488.8" y2="458.3" stroke="#c8102e" stroke-width="1.4" />
<circle cx="483.9" cy="458.3" r="1.4" fill="#c8102e"/>
<text x="491.1" y="461.3" font-size="8.5" text-anchor="start" fill="#111" stroke="#111" stroke-width="0.1" textLength="14.5" lengthAdjust="spacingAndGlyphs" >TCD</text>
<line x1="479" y1="469.8" x2="488.8" y2="469.8" stroke="#10508c" stroke-width="1.4" />
<circle cx="483.9" cy="469.8" r="1.4" fill="#10508c"/>
<text x="491.1" y="472.8" font-size="8.5" text-anchor="start" fill="#111" stroke="#111" stroke-width="0.1" textLength="24.6" lengthAdjust="spacingAndGlyphs" >BMT+T</text>
<text x="13.4" y="575" font-size="11.5" text-anchor="start" fill="#000" font-weight="bold" >I</text>
<line x1="40" y1="575.5" x2="40" y2="665" stroke="#303030" stroke-width="1.6" />
<line x1="37.5" y1="665" x2="40" y2="665" stroke="#303030" stroke-width="1.1" />
<text x="34.9" y="668.1" font-size="9" text-anchor="end" fill="#111" stroke="#111" stroke-width="0.1" textLength="4.4" lengthAdjust="spacingAndGlyphs" >0</text>
<line x1="37.5" y1="645" x2="40" y2="645" stroke="#303030" stroke-width="1.1" />
<text x="34.9" y="648.1" font-size="9" text-anchor="end" fill="#111" stroke="#111" stroke-width="0.1" textLength="8.8" lengthAdjust="spacingAndGlyphs" >25</text>
<line x1="37.5" y1="624.5" x2="40" y2="624.5" stroke="#303030" stroke-width="1.1" />
<text x="34.9" y="627.6" font-size="9" text-anchor="end" fill="#111" stroke="#111" stroke-width="0.1" textLength="8.8" lengthAdjust="spacingAndGlyphs" >50</text>
<line x1="37.5" y1="604.2" x2="40" y2="604.2" stroke="#303030" stroke-width="1.1" />
<text x="34.9" y="607.4" font-size="9" text-anchor="end" fill="#111" stroke="#111" stroke-width="0.1" textLength="8.8" lengthAdjust="spacingAndGlyphs" >75</text>
<line x1="37.5" y1="583.8" x2="40" y2="583.8" stroke="#303030" stroke-width="1.1" />
<text x="34.9" y="586.9" font-size="9" text-anchor="end" fill="#111" stroke="#111" stroke-width="0.1" textLength="13.2" lengthAdjust="spacingAndGlyphs" >100</text>
<line x1="40" y1="665" x2="167.5" y2="665" stroke="#303030" stroke-width="1.6" />
<line x1="40" y1="665" x2="40" y2="667.5" stroke="#303030" stroke-width="1.1" />
<text x="40" y="677.1" font-size="9" text-anchor="middle" fill="#111" stroke="#111" stroke-width="0.1" textLength="4.4" lengthAdjust="spacingAndGlyphs" >0</text>
<line x1="72" y1="665" x2="72" y2="667.5" stroke="#303030" stroke-width="1.1" />
<text x="72" y="677.1" font-size="9" text-anchor="middle" fill="#111" stroke="#111" stroke-width="0.1" textLength="8.8" lengthAdjust="spacingAndGlyphs" >20</text>
<line x1="103.8" y1="665" x2="103.8" y2="667.5" stroke="#303030" stroke-width="1.1" />
<text x="103.8" y="677.1" font-size="9" text-anchor="middle" fill="#111" stroke="#111" stroke-width="0.1" textLength="8.8" lengthAdjust="spacingAndGlyphs" >40</text>
<line x1="135.5" y1="665" x2="135.5" y2="667.5" stroke="#303030" stroke-width="1.1" />
<text x="135.5" y="677.1" font-size="9" text-anchor="middle" fill="#111" stroke="#111" stroke-width="0.1" textLength="8.8" lengthAdjust="spacingAndGlyphs" >60</text>
<line x1="167.5" y1="665" x2="167.5" y2="667.5" stroke="#303030" stroke-width="1.1" />
<text x="167.5" y="677.1" font-size="9" text-anchor="middle" fill="#111" stroke="#111" stroke-width="0.1" textLength="8.8" lengthAdjust="spacingAndGlyphs" >80</text>
<text x="17.6" y="620.6" font-size="10.5" text-anchor="middle" fill="#111" stroke="#111" stroke-width="0.1" textLength="33.8" lengthAdjust="spacingAndGlyphs" transform="rotate(-90 17.6 620.6)" >% Survival</text>
<text x="105.9" y="687.1" font-size="9" text-anchor="middle" fill="#111" stroke="#111" stroke-width="0.1" textLength="66.8" lengthAdjust="spacingAndGlyphs" >Days post-transplant</text>
<path d="M40,584 H148.25" stroke="#2fb34a" stroke-width="1.4" fill="none" />
<circle cx="141.8" cy="584" r="1.3" fill="#2fb34a"/>
<circle cx="148.2" cy="584" r="1.3" fill="#2fb34a"/>
<path d="M40,584 H64.4 V590.4 H75 V597.6 H77.9 V604.3 H81 V611.1 H82.9 V624.5 H135.5 V631.25 H148.25" stroke="#10508c" stroke-width="1.4" fill="none" />
<circle cx="64.4" cy="590.4" r="1.3" fill="#10508c"/>
<circle cx="75" cy="597.6" r="1.3" fill="#10508c"/>
<circle cx="77.9" cy="604.3" r="1.3" fill="#10508c"/>
<circle cx="81" cy="611.1" r="1.3" fill="#10508c"/>
<circle cx="82.9" cy="624.5" r="1.3" fill="#10508c"/>
<circle cx="135.5" cy="631.2" r="1.3" fill="#10508c"/>
<circle cx="141.8" cy="631.2" r="1.3" fill="#10508c"/>
<circle cx="148.2" cy="631.2" r="1.3" fill="#10508c"/>
<path d="M40,584 H60.6 V590.4 H83.2 V597.6 H84.1 V604.3 H92.3 V611.1 H119.5 V618 H148.25" stroke="#c8102e" stroke-width="1.4" fill="none" />
<circle cx="60.6" cy="590.4" r="1.3" fill="#c8102e"/>
<circle cx="83.2" cy="597.6" r="1.3" fill="#c8102e"/>
<circle cx="84.1" cy="604.3" r="1.3" fill="#c8102e"/>
<circle cx="92.3" cy="611.1" r="1.3" fill="#c8102e"/>
<circle cx="119.5" cy="618" r="1.3" fill="#c8102e"/>
<circle cx="141.8" cy="618" r="1.3" fill="#c8102e"/>
<circle cx="148.2" cy="618" r="1.3" fill="#c8102e"/>
<path d="M152.5,617 H154.5 V631.25 H152.5" stroke="#303030" stroke-width="1.1" fill="none" />
<text x="164.4" y="626.9" font-size="9" text-anchor="middle" fill="#111" stroke="#111" stroke-width="0.1" textLength="11.2" lengthAdjust="spacingAndGlyphs" >n.s.</text>
<text x="197.3" y="575.5" font-size="11.5" text-anchor="start" fill="#000" font-weight="bold" >J</text>
<line x1="220" y1="574.5" x2="220" y2="665" stroke="#303030" stroke-width="1.6" />
<line x1="217.5" y1="665" x2="220" y2="665" stroke="#303030" stroke-width="1.1" />
<text x="214.9" y="668.1" font-size="9" text-anchor="end" fill="#111" stroke="#111" stroke-width="0.1" textLength="4.4" lengthAdjust="spacingAndGlyphs" >0</text>
<line x1="217.5" y1="634.5" x2="220" y2="634.5" stroke="#303030" stroke-width="1.1" />
<text x="214.9" y="637.6" font-size="9" text-anchor="end" fill="#111" stroke="#111" stroke-width="0.1" textLength="4.4" lengthAdjust="spacingAndGlyphs" >2</text>
<line x1="217.5" y1="604.5" x2="220" y2="604.5" stroke="#303030" stroke-width="1.1" />
<text x="214.9" y="607.6" font-size="9" text-anchor="end" fill="#111" stroke="#111" stroke-width="0.1" textLength="4.4" lengthAdjust="spacingAndGlyphs" >4</text>
<line x1="217.5" y1="574.5" x2="220" y2="574.5" stroke="#303030" stroke-width="1.1" />
<text x="214.9" y="577.6" font-size="9" text-anchor="end" fill="#111" stroke="#111" stroke-width="0.1" textLength="4.4" lengthAdjust="spacingAndGlyphs" >6</text>
<text x="203.3" y="618.8" font-size="9.5" text-anchor="middle" fill="#111" stroke="#111" stroke-width="0.1" textLength="65" lengthAdjust="spacingAndGlyphs" transform="rotate(-90 203.3 618.8)" >Clinical GVHD score</text>
<text x="284.2" y="686.9" font-size="9" text-anchor="middle" fill="#111" stroke="#111" stroke-width="0.1" textLength="67.5" lengthAdjust="spacingAndGlyphs" >Days post-transplant</text>
<line x1="220" y1="665" x2="347.5" y2="665" stroke="#303030" stroke-width="1.6" />
<line x1="220" y1="665" x2="220" y2="667.5" stroke="#303030" stroke-width="1.1" />
<text x="220" y="677.1" font-size="9" text-anchor="middle" fill="#111" stroke="#111" stroke-width="0.1" textLength="4.4" lengthAdjust="spacingAndGlyphs" >0</text>
<line x1="259.5" y1="665" x2="259.5" y2="667.5" stroke="#303030" stroke-width="1.1" />
<text x="259.5" y="677.1" font-size="9" text-anchor="middle" fill="#111" stroke="#111" stroke-width="0.1" textLength="8.8" lengthAdjust="spacingAndGlyphs" >20</text>
<line x1="298.8" y1="665" x2="298.8" y2="667.5" stroke="#303030" stroke-width="1.1" />
<text x="298.8" y="677.1" font-size="9" text-anchor="middle" fill="#111" stroke="#111" stroke-width="0.1" textLength="8.8" lengthAdjust="spacingAndGlyphs" >40</text>
<line x1="338" y1="665" x2="338" y2="667.5" stroke="#303030" stroke-width="1.1" />
<text x="338" y="677.1" font-size="9" text-anchor="middle" fill="#111" stroke="#111" stroke-width="0.1" textLength="8.8" lengthAdjust="spacingAndGlyphs" >60</text>
<line x1="232" y1="619.5" x2="232" y2="615.5" stroke="#333" stroke-width="1" />
<line x1="230.4" y1="615.5" x2="233.6" y2="615.5" stroke="#333" stroke-width="1" />
<line x1="247.5" y1="613" x2="247.5" y2="608.8" stroke="#333" stroke-width="1" />
<line x1="245.9" y1="608.8" x2="249.1" y2="608.8" stroke="#333" stroke-width="1" />
<line x1="261.2" y1="604.5" x2="261.2" y2="600.5" stroke="#333" stroke-width="1" />
<line x1="259.6" y1="600.5" x2="262.9" y2="600.5" stroke="#333" stroke-width="1" />
<line x1="275.5" y1="595.8" x2="275.5" y2="590.5" stroke="#333" stroke-width="1" />
<line x1="273.9" y1="590.5" x2="277.1" y2="590.5" stroke="#333" stroke-width="1" />
<line x1="290.5" y1="605.8" x2="290.5" y2="601.8" stroke="#333" stroke-width="1" />
<line x1="288.9" y1="601.8" x2="292.1" y2="601.8" stroke="#333" stroke-width="1" />
<line x1="302.5" y1="612.5" x2="302.5" y2="608" stroke="#333" stroke-width="1" />
<line x1="300.9" y1="608" x2="304.1" y2="608" stroke="#333" stroke-width="1" />
<line x1="316.2" y1="625" x2="316.2" y2="616.2" stroke="#333" stroke-width="1" />
<line x1="314.6" y1="616.2" x2="317.9" y2="616.2" stroke="#333" stroke-width="1" />
<line x1="330" y1="610.8" x2="330" y2="600.5" stroke="#333" stroke-width="1" />
<line x1="328.4" y1="600.5" x2="331.6" y2="600.5" stroke="#333" stroke-width="1" />
<line x1="330" y1="631.8" x2="330" y2="622.5" stroke="#333" stroke-width="1" />
<line x1="328.4" y1="622.5" x2="331.6" y2="622.5" stroke="#333" stroke-width="1" />
<line x1="343.8" y1="611.2" x2="343.8" y2="597" stroke="#333" stroke-width="1" />
<line x1="342.1" y1="597" x2="345.4" y2="597" stroke="#333" stroke-width="1" />
<line x1="343.8" y1="631.8" x2="343.8" y2="622.5" stroke="#333" stroke-width="1" />
<line x1="342.1" y1="622.5" x2="345.4" y2="622.5" stroke="#333" stroke-width="1" />
<line x1="246" y1="659" x2="249" y2="659" stroke="#2fb34a" stroke-width="0.9" />
<line x1="259.8" y1="660.8" x2="262.8" y2="660.8" stroke="#2fb34a" stroke-width="0.9" />
<line x1="301" y1="660.8" x2="304" y2="660.8" stroke="#2fb34a" stroke-width="0.9" />
<line x1="314.8" y1="660.8" x2="317.8" y2="660.8" stroke="#2fb34a" stroke-width="0.9" />
<polyline points="220,665 232,619.5 247.5,613 261.2,609.5 275.5,605 290.5,608.8 302.5,618.8 316.2,625.5 330,631.8 343.8,631.8" stroke="#c8102e" stroke-width="1.5" fill="none" stroke-linejoin="round" />
<polyline points="220,665 232,626.2 247.5,613.8 261.2,604.5 275.5,595.8 290.5,605.8 302.5,612.5 316.2,625 330,610.8 343.8,611.2" stroke="#10508c" stroke-width="1.5" fill="none" stroke-linejoin="round" />
<polyline points="220,665 232,665 247.5,660.2 261.2,662 275.5,665 290.5,665 302.5,662 316.2,662 330,665 343.8,665" stroke="#2fb34a" stroke-width="1.5" fill="none" stroke-linejoin="round" />
<circle cx="220" cy="665" r="1.3" fill="#c8102e"/>
<circle cx="220" cy="665" r="1.3" fill="#10508c"/>
<circle cx="220" cy="665" r="1.3" fill="#2fb34a"/>
<circle cx="232" cy="619.5" r="1.3" fill="#c8102e"/>
<circle cx="232" cy="626.2" r="1.3" fill="#10508c"/>
<circle cx="232" cy="665" r="1.3" fill="#2fb34a"/>
<circle cx="247.5" cy="613" r="1.3" fill="#c8102e"/>
<circle cx="247.5" cy="613.8" r="1.3" fill="#10508c"/>
<circle cx="247.5" cy="660.2" r="1.3" fill="#2fb34a"/>
<circle cx="261.2" cy="609.5" r="1.3" fill="#c8102e"/>
<circle cx="261.2" cy="604.5" r="1.3" fill="#10508c"/>
<circle cx="261.2" cy="662" r="1.3" fill="#2fb34a"/>
<circle cx="275.5" cy="605" r="1.3" fill="#c8102e"/>
<circle cx="275.5" cy="595.8" r="1.3" fill="#10508c"/>
<circle cx="275.5" cy="665" r="1.3" fill="#2fb34a"/>
<circle cx="290.5" cy="608.8" r="1.3" fill="#c8102e"/>
<circle cx="290.5" cy="605.8" r="1.3" fill="#10508c"/>
<circle cx="290.5" cy="665" r="1.3" fill="#2fb34a"/>
<circle cx="302.5" cy="618.8" r="1.3" fill="#c8102e"/>
<circle cx="302.5" cy="612.5" r="1.3" fill="#10508c"/>
<circle cx="302.5" cy="662" r="1.3" fill="#2fb34a"/>
<circle cx="316.2" cy="625.5" r="1.3" fill="#c8102e"/>
<circle cx="316.2" cy="625" r="1.3" fill="#10508c"/>
<circle cx="316.2" cy="662" r="1.3" fill="#2fb34a"/>
<circle cx="330" cy="631.8" r="1.3" fill="#c8102e"/>
<circle cx="330" cy="610.8" r="1.3" fill="#10508c"/>
<circle cx="330" cy="665" r="1.3" fill="#2fb34a"/>
<circle cx="343.8" cy="631.8" r="1.3" fill="#c8102e"/>
<circle cx="343.8" cy="611.2" r="1.3" fill="#10508c"/>
<circle cx="343.8" cy="665" r="1.3" fill="#2fb34a"/>
<line x1="358.8" y1="581.2" x2="368.8" y2="581.2" stroke="#c8102e" stroke-width="1.4" />
<circle cx="363.8" cy="581.2" r="1.4" fill="#c8102e"/>
<line x1="358.8" y1="595.8" x2="368.8" y2="595.8" stroke="#10508c" stroke-width="1.4" />
<circle cx="363.8" cy="595.8" r="1.4" fill="#10508c"/>
<line x1="358.8" y1="608.2" x2="368.8" y2="608.2" stroke="#2fb34a" stroke-width="1.4" />
<circle cx="363.8" cy="608.2" r="1.4" fill="#2fb34a"/>
<text x="370.8" y="584.4" font-size="9" text-anchor="start" fill="#111" stroke="#111" stroke-width="0.1" textLength="33" lengthAdjust="spacingAndGlyphs" >WT donor</text>
<text x="371.2" y="598.9" font-size="9" text-anchor="start" fill="#111" stroke="#111" stroke-width="0.05" ><tspan font-style="italic" textLength="17.5" lengthAdjust="spacingAndGlyphs">Ifnlr1</tspan><tspan font-size="5.5" dy="-3.4">−/−</tspan><tspan dy="3.4" dx="0.8" textLength="21" lengthAdjust="spacingAndGlyphs">donor</tspan></text>
<text x="370.8" y="611.4" font-size="9" text-anchor="start" fill="#111" stroke="#111" stroke-width="0.1" textLength="37.2" lengthAdjust="spacingAndGlyphs" >TCD donor</text>
<rect x="0" y="0" width="520" height="1.45" fill="#000"/><rect x="0" y="693.55" width="520" height="1.45" fill="#000"/><rect x="0" y="0" width="1.5" height="695" fill="#1c1c1c"/><rect x="518.55" y="0" width="1.45" height="695" fill="#000"/>
</svg></body></html>
